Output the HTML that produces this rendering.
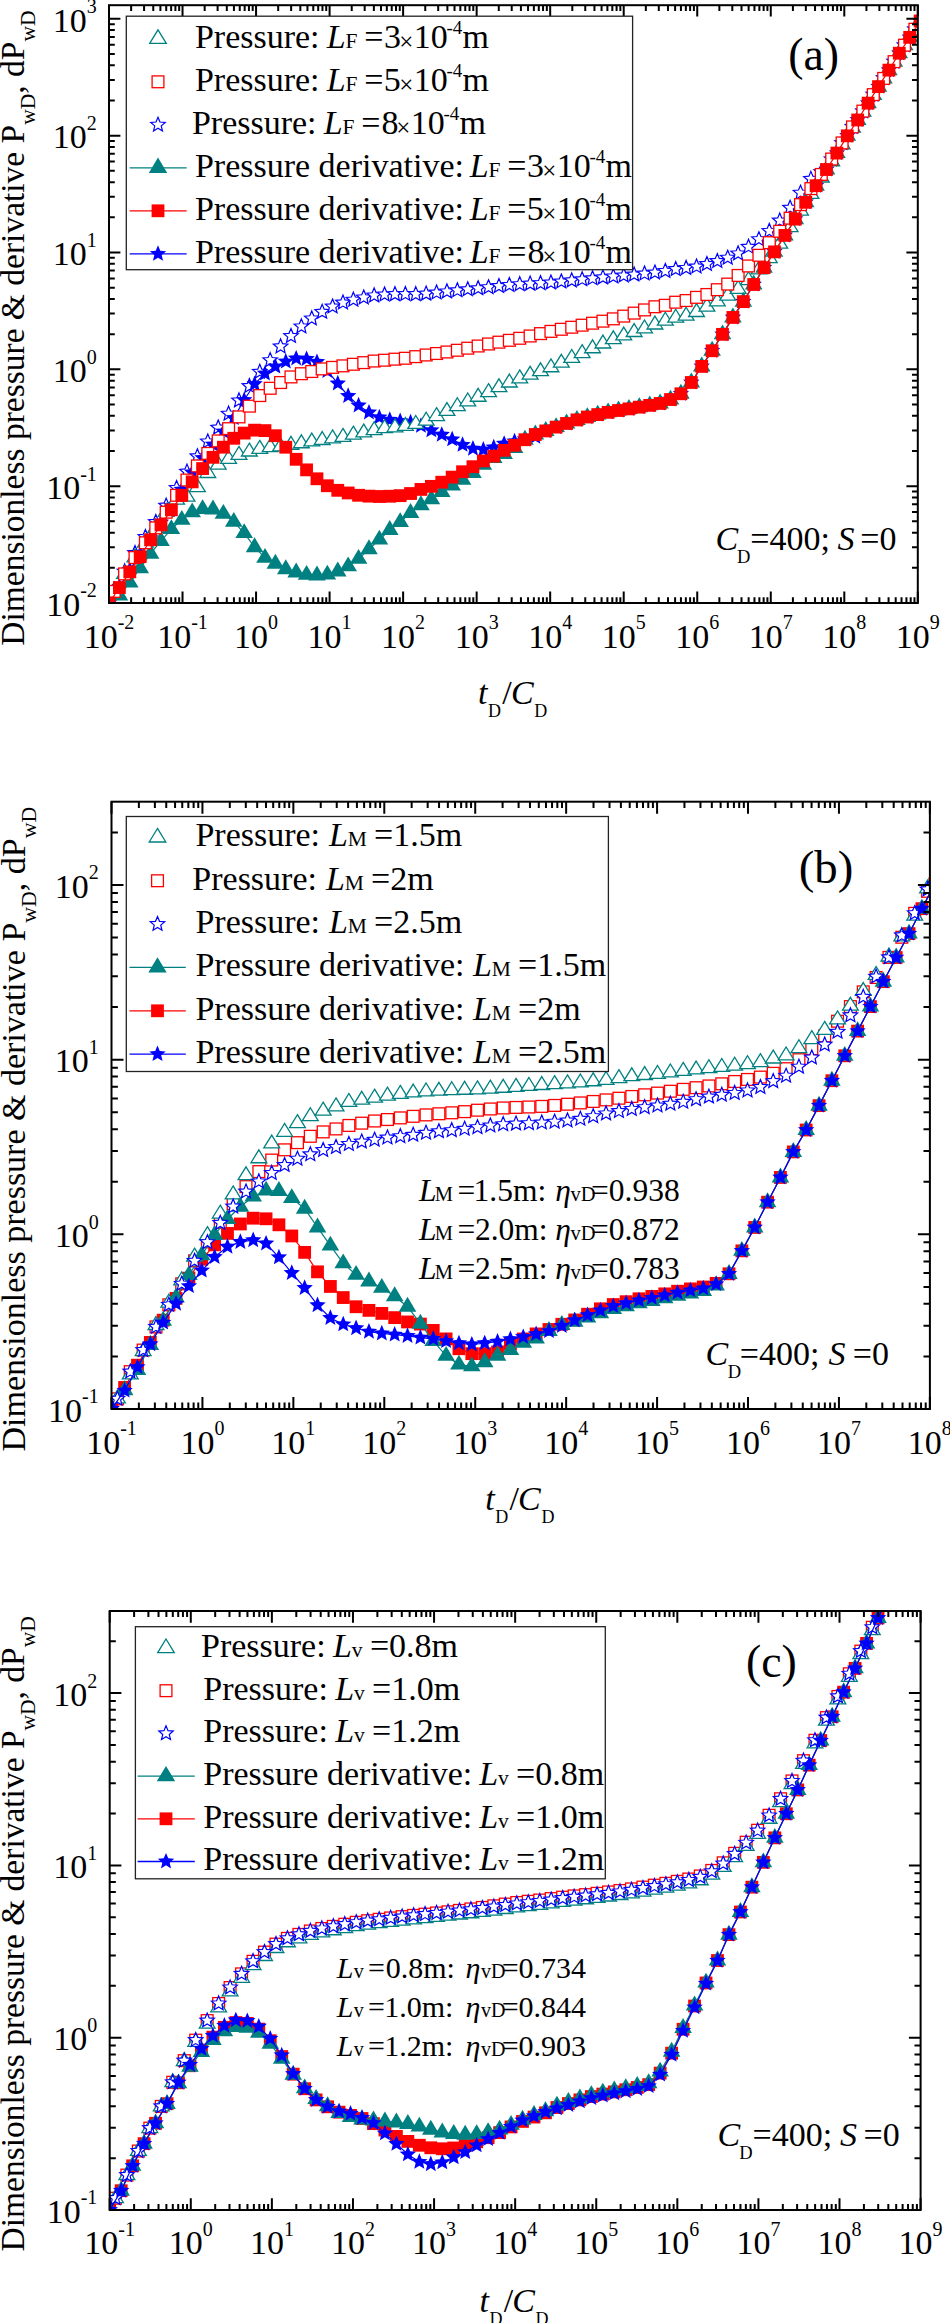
<!DOCTYPE html>
<html><head><meta charset="utf-8"><style>
html,body{margin:0;padding:0;background:#fff;}
body{width:950px;height:2323px;overflow:hidden;}
svg{display:block;}
</style></head><body>
<svg width="950" height="2323" viewBox="0 0 950 2323" font-family="'Liberation Serif', serif">
<rect width="950" height="2323" fill="#fff"/>
<defs>
<clipPath id="clipA"><rect x="109.0" y="5.2" width="808.80" height="597.80"/></clipPath>
<clipPath id="clipB"><rect x="111.5" y="801.7" width="818.40" height="607.30"/></clipPath>
<clipPath id="clipC"><rect x="109.7" y="1611.0" width="810.90" height="599.00"/></clipPath>
</defs>
<g clip-path="url(#clipA)">
<path d="M114.20,581.95L116.21,586.78L121.43,587.20L117.45,590.61L118.67,595.70L114.20,592.97L109.73,595.70L110.95,590.61L106.97,587.20L112.19,586.78Z" fill="#fff" stroke="#0000ff" stroke-width="1.2" stroke-linejoin="miter"/>
<path d="M124.60,563.92L126.61,568.75L131.83,569.17L127.85,572.58L129.07,577.67L124.60,574.94L120.13,577.67L121.35,572.58L117.37,569.17L122.59,568.75Z" fill="#fff" stroke="#0000ff" stroke-width="1.2" stroke-linejoin="miter"/>
<path d="M135.00,545.52L137.01,550.35L142.22,550.77L138.25,554.18L139.46,559.27L135.00,556.54L130.53,559.27L131.74,554.18L127.77,550.77L132.99,550.35Z" fill="#fff" stroke="#0000ff" stroke-width="1.2" stroke-linejoin="miter"/>
<path d="M145.40,529.45L147.41,534.28L152.62,534.70L148.65,538.10L149.86,543.19L145.40,540.47L140.93,543.19L142.14,538.10L138.17,534.70L143.38,534.28Z" fill="#fff" stroke="#0000ff" stroke-width="1.2" stroke-linejoin="miter"/>
<path d="M155.79,514.51L157.80,519.34L163.02,519.76L159.05,523.17L160.26,528.26L155.79,525.53L151.33,528.26L152.54,523.17L148.57,519.76L153.78,519.34Z" fill="#fff" stroke="#0000ff" stroke-width="1.2" stroke-linejoin="miter"/>
<path d="M166.19,498.14L168.20,502.97L173.42,503.39L169.44,506.80L170.66,511.89L166.19,509.16L161.73,511.89L162.94,506.80L158.96,503.39L164.18,502.97Z" fill="#fff" stroke="#0000ff" stroke-width="1.2" stroke-linejoin="miter"/>
<path d="M176.59,480.45L178.60,485.29L183.82,485.70L179.84,489.11L181.06,494.20L176.59,491.47L172.12,494.20L173.34,489.11L169.36,485.70L174.58,485.29Z" fill="#fff" stroke="#0000ff" stroke-width="1.2" stroke-linejoin="miter"/>
<path d="M186.99,464.11L189.00,468.95L194.22,469.36L190.24,472.77L191.46,477.86L186.99,475.13L182.52,477.86L183.74,472.77L179.76,469.36L184.98,468.95Z" fill="#fff" stroke="#0000ff" stroke-width="1.2" stroke-linejoin="miter"/>
<path d="M197.39,448.83L199.40,453.67L204.62,454.09L200.64,457.49L201.86,462.58L197.39,459.85L192.92,462.58L194.14,457.49L190.16,454.09L195.38,453.67Z" fill="#fff" stroke="#0000ff" stroke-width="1.2" stroke-linejoin="miter"/>
<path d="M207.79,433.95L209.80,438.78L215.01,439.20L211.04,442.60L212.25,447.69L207.79,444.97L203.32,447.69L204.53,442.60L200.56,439.20L205.78,438.78Z" fill="#fff" stroke="#0000ff" stroke-width="1.2" stroke-linejoin="miter"/>
<path d="M218.19,420.10L220.20,424.94L225.41,425.36L221.44,428.76L222.65,433.85L218.19,431.12L213.72,433.85L214.93,428.76L210.96,425.36L216.18,424.94Z" fill="#fff" stroke="#0000ff" stroke-width="1.2" stroke-linejoin="miter"/>
<path d="M228.58,406.16L230.59,411.00L235.81,411.42L231.84,414.82L233.05,419.91L228.58,417.18L224.12,419.91L225.33,414.82L221.36,411.42L226.57,411.00Z" fill="#fff" stroke="#0000ff" stroke-width="1.2" stroke-linejoin="miter"/>
<path d="M238.98,392.92L240.99,397.76L246.21,398.18L242.24,401.58L243.45,406.67L238.98,403.94L234.52,406.67L235.73,401.58L231.75,398.18L236.97,397.76Z" fill="#fff" stroke="#0000ff" stroke-width="1.2" stroke-linejoin="miter"/>
<path d="M249.38,378.53L251.39,383.36L256.61,383.78L252.63,387.18L253.85,392.27L249.38,389.55L244.91,392.27L246.13,387.18L242.15,383.78L247.37,383.36Z" fill="#fff" stroke="#0000ff" stroke-width="1.2" stroke-linejoin="miter"/>
<path d="M259.78,364.30L261.79,369.13L267.01,369.55L263.03,372.95L264.25,378.04L259.78,375.32L255.31,378.04L256.53,372.95L252.55,369.55L257.77,369.13Z" fill="#fff" stroke="#0000ff" stroke-width="1.2" stroke-linejoin="miter"/>
<path d="M270.18,352.64L272.19,357.48L277.41,357.89L273.43,361.30L274.65,366.39L270.18,363.66L265.71,366.39L266.93,361.30L262.95,357.89L268.17,357.48Z" fill="#fff" stroke="#0000ff" stroke-width="1.2" stroke-linejoin="miter"/>
<path d="M280.58,338.89L282.59,343.72L287.81,344.14L283.83,347.54L285.04,352.64L280.58,349.91L276.11,352.64L277.32,347.54L273.35,344.14L278.57,343.72Z" fill="#fff" stroke="#0000ff" stroke-width="1.2" stroke-linejoin="miter"/>
<path d="M290.98,328.51L292.99,333.34L298.20,333.76L294.23,337.16L295.44,342.26L290.98,339.53L286.51,342.26L287.72,337.16L283.75,333.76L288.97,333.34Z" fill="#fff" stroke="#0000ff" stroke-width="1.2" stroke-linejoin="miter"/>
<path d="M301.37,318.92L303.38,323.76L308.60,324.18L304.63,327.58L305.84,332.67L301.37,329.94L296.91,332.67L298.12,327.58L294.15,324.18L299.36,323.76Z" fill="#fff" stroke="#0000ff" stroke-width="1.2" stroke-linejoin="miter"/>
<path d="M311.77,310.91L313.78,315.74L319.00,316.16L315.03,319.56L316.24,324.66L311.77,321.93L307.31,324.66L308.52,319.56L304.54,316.16L309.76,315.74Z" fill="#fff" stroke="#0000ff" stroke-width="1.2" stroke-linejoin="miter"/>
<path d="M322.17,304.37L324.18,309.20L329.40,309.62L325.42,313.02L326.64,318.11L322.17,315.39L317.70,318.11L318.92,313.02L314.94,309.62L320.16,309.20Z" fill="#fff" stroke="#0000ff" stroke-width="1.2" stroke-linejoin="miter"/>
<path d="M332.57,298.99L334.58,303.82L339.80,304.24L335.82,307.64L337.04,312.74L332.57,310.01L328.10,312.74L329.32,307.64L325.34,304.24L330.56,303.82Z" fill="#fff" stroke="#0000ff" stroke-width="1.2" stroke-linejoin="miter"/>
<path d="M342.97,295.07L344.98,299.90L350.20,300.32L346.22,303.73L347.44,308.82L342.97,306.09L338.50,308.82L339.72,303.73L335.74,300.32L340.96,299.90Z" fill="#fff" stroke="#0000ff" stroke-width="1.2" stroke-linejoin="miter"/>
<path d="M353.37,292.17L355.38,297.00L360.60,297.42L356.62,300.83L357.83,305.92L353.37,303.19L348.90,305.92L350.11,300.83L346.14,297.42L351.36,297.00Z" fill="#fff" stroke="#0000ff" stroke-width="1.2" stroke-linejoin="miter"/>
<path d="M363.77,289.95L365.78,294.78L370.99,295.20L367.02,298.60L368.23,303.69L363.77,300.97L359.30,303.69L360.51,298.60L356.54,295.20L361.76,294.78Z" fill="#fff" stroke="#0000ff" stroke-width="1.2" stroke-linejoin="miter"/>
<path d="M374.16,287.93L376.17,292.76L381.39,293.18L377.42,296.58L378.63,301.67L374.16,298.95L369.70,301.67L370.91,296.58L366.94,293.18L372.15,292.76Z" fill="#fff" stroke="#0000ff" stroke-width="1.2" stroke-linejoin="miter"/>
<path d="M384.56,286.98L386.57,291.81L391.79,292.23L387.82,295.64L389.03,300.73L384.56,298.00L380.10,300.73L381.31,295.64L377.34,292.23L382.55,291.81Z" fill="#fff" stroke="#0000ff" stroke-width="1.2" stroke-linejoin="miter"/>
<path d="M394.96,286.63L396.97,291.47L402.19,291.89L398.21,295.29L399.43,300.38L394.96,297.65L390.49,300.38L391.71,295.29L387.73,291.89L392.95,291.47Z" fill="#fff" stroke="#0000ff" stroke-width="1.2" stroke-linejoin="miter"/>
<path d="M405.36,286.58L407.37,291.42L412.59,291.84L408.61,295.24L409.83,300.33L405.36,297.60L400.89,300.33L402.11,295.24L398.13,291.84L403.35,291.42Z" fill="#fff" stroke="#0000ff" stroke-width="1.2" stroke-linejoin="miter"/>
<path d="M415.76,286.64L417.77,291.47L422.99,291.89L419.01,295.29L420.23,300.39L415.76,297.66L411.29,300.39L412.51,295.29L408.53,291.89L413.75,291.47Z" fill="#fff" stroke="#0000ff" stroke-width="1.2" stroke-linejoin="miter"/>
<path d="M426.16,286.11L428.17,290.94L433.39,291.36L429.41,294.77L430.62,299.86L426.16,297.13L421.69,299.86L422.91,294.77L418.93,291.36L424.15,290.94Z" fill="#fff" stroke="#0000ff" stroke-width="1.2" stroke-linejoin="miter"/>
<path d="M436.56,285.06L438.57,289.89L443.78,290.31L439.81,293.71L441.02,298.81L436.56,296.08L432.09,298.81L433.30,293.71L429.33,290.31L434.55,289.89Z" fill="#fff" stroke="#0000ff" stroke-width="1.2" stroke-linejoin="miter"/>
<path d="M446.95,283.91L448.97,288.75L454.18,289.16L450.21,292.57L451.42,297.66L446.95,294.93L442.49,297.66L443.70,292.57L439.73,289.16L444.94,288.75Z" fill="#fff" stroke="#0000ff" stroke-width="1.2" stroke-linejoin="miter"/>
<path d="M457.35,282.84L459.36,287.67L464.58,288.09L460.61,291.49L461.82,296.58L457.35,293.86L452.89,296.58L454.10,291.49L450.13,288.09L455.34,287.67Z" fill="#fff" stroke="#0000ff" stroke-width="1.2" stroke-linejoin="miter"/>
<path d="M467.75,281.80L469.76,286.63L474.98,287.05L471.00,290.46L472.22,295.55L467.75,292.82L463.28,295.55L464.50,290.46L460.52,287.05L465.74,286.63Z" fill="#fff" stroke="#0000ff" stroke-width="1.2" stroke-linejoin="miter"/>
<path d="M478.15,280.77L480.16,285.60L485.38,286.02L481.40,289.42L482.62,294.52L478.15,291.79L473.68,294.52L474.90,289.42L470.92,286.02L476.14,285.60Z" fill="#fff" stroke="#0000ff" stroke-width="1.2" stroke-linejoin="miter"/>
<path d="M488.55,279.71L490.56,284.54L495.78,284.96L491.80,288.36L493.02,293.45L488.55,290.73L484.08,293.45L485.30,288.36L481.32,284.96L486.54,284.54Z" fill="#fff" stroke="#0000ff" stroke-width="1.2" stroke-linejoin="miter"/>
<path d="M498.95,278.53L500.96,283.37L506.18,283.79L502.20,287.19L503.42,292.28L498.95,289.55L494.48,292.28L495.70,287.19L491.72,283.79L496.94,283.37Z" fill="#fff" stroke="#0000ff" stroke-width="1.2" stroke-linejoin="miter"/>
<path d="M509.35,277.44L511.36,282.27L516.57,282.69L512.60,286.10L513.81,291.19L509.35,288.46L504.88,291.19L506.09,286.10L502.12,282.69L507.34,282.27Z" fill="#fff" stroke="#0000ff" stroke-width="1.2" stroke-linejoin="miter"/>
<path d="M519.75,276.65L521.76,281.48L526.97,281.90L523.00,285.30L524.21,290.39L519.75,287.67L515.28,290.39L516.49,285.30L512.52,281.90L517.73,281.48Z" fill="#fff" stroke="#0000ff" stroke-width="1.2" stroke-linejoin="miter"/>
<path d="M530.14,276.13L532.15,280.96L537.37,281.38L533.40,284.78L534.61,289.88L530.14,287.15L525.68,289.88L526.89,284.78L522.92,281.38L528.13,280.96Z" fill="#fff" stroke="#0000ff" stroke-width="1.2" stroke-linejoin="miter"/>
<path d="M540.54,275.65L542.55,280.49L547.77,280.90L543.80,284.31L545.01,289.40L540.54,286.67L536.08,289.40L537.29,284.31L533.31,280.90L538.53,280.49Z" fill="#fff" stroke="#0000ff" stroke-width="1.2" stroke-linejoin="miter"/>
<path d="M550.94,275.00L552.95,279.83L558.17,280.25L554.19,283.65L555.41,288.75L550.94,286.02L546.47,288.75L547.69,283.65L543.71,280.25L548.93,279.83Z" fill="#fff" stroke="#0000ff" stroke-width="1.2" stroke-linejoin="miter"/>
<path d="M561.34,274.01L563.35,278.85L568.57,279.27L564.59,282.67L565.81,287.76L561.34,285.03L556.87,287.76L558.09,282.67L554.11,279.27L559.33,278.85Z" fill="#fff" stroke="#0000ff" stroke-width="1.2" stroke-linejoin="miter"/>
<path d="M571.74,272.88L573.75,277.72L578.97,278.13L574.99,281.54L576.21,286.63L571.74,283.90L567.27,286.63L568.49,281.54L564.51,278.13L569.73,277.72Z" fill="#fff" stroke="#0000ff" stroke-width="1.2" stroke-linejoin="miter"/>
<path d="M582.14,271.83L584.15,276.66L589.36,277.08L585.39,280.48L586.60,285.57L582.14,282.85L577.67,285.57L578.88,280.48L574.91,277.08L580.13,276.66Z" fill="#fff" stroke="#0000ff" stroke-width="1.2" stroke-linejoin="miter"/>
<path d="M592.54,270.84L594.55,275.68L599.76,276.09L595.79,279.50L597.00,284.59L592.54,281.86L588.07,284.59L589.28,279.50L585.31,276.09L590.53,275.68Z" fill="#fff" stroke="#0000ff" stroke-width="1.2" stroke-linejoin="miter"/>
<path d="M602.93,269.88L604.94,274.71L610.16,275.13L606.19,278.54L607.40,283.63L602.93,280.90L598.47,283.63L599.68,278.54L595.71,275.13L600.92,274.71Z" fill="#fff" stroke="#0000ff" stroke-width="1.2" stroke-linejoin="miter"/>
<path d="M613.33,268.92L615.34,273.75L620.56,274.17L616.59,277.58L617.80,282.67L613.33,279.94L608.87,282.67L610.08,277.58L606.10,274.17L611.32,273.75Z" fill="#fff" stroke="#0000ff" stroke-width="1.2" stroke-linejoin="miter"/>
<path d="M623.73,267.99L625.74,272.82L630.96,273.24L626.98,276.65L628.20,281.74L623.73,279.01L619.26,281.74L620.48,276.65L616.50,273.24L621.72,272.82Z" fill="#fff" stroke="#0000ff" stroke-width="1.2" stroke-linejoin="miter"/>
<path d="M634.13,267.05L636.14,271.88L641.36,272.30L637.38,275.70L638.60,280.79L634.13,278.07L629.66,280.79L630.88,275.70L626.90,272.30L632.12,271.88Z" fill="#fff" stroke="#0000ff" stroke-width="1.2" stroke-linejoin="miter"/>
<path d="M644.53,266.07L646.54,270.90L651.76,271.32L647.78,274.73L649.00,279.82L644.53,277.09L640.06,279.82L641.28,274.73L637.30,271.32L642.52,270.90Z" fill="#fff" stroke="#0000ff" stroke-width="1.2" stroke-linejoin="miter"/>
<path d="M654.93,265.03L656.94,269.86L662.16,270.28L658.18,273.68L659.39,278.78L654.93,276.05L650.46,278.78L651.67,273.68L647.70,270.28L652.92,269.86Z" fill="#fff" stroke="#0000ff" stroke-width="1.2" stroke-linejoin="miter"/>
<path d="M665.33,263.46L667.34,268.30L672.55,268.72L668.58,272.12L669.79,277.21L665.33,274.48L660.86,277.21L662.07,272.12L658.10,268.72L663.32,268.30Z" fill="#fff" stroke="#0000ff" stroke-width="1.2" stroke-linejoin="miter"/>
<path d="M675.72,261.60L677.73,266.43L682.95,266.85L678.98,270.26L680.19,275.35L675.72,272.62L671.26,275.35L672.47,270.26L668.50,266.85L673.71,266.43Z" fill="#fff" stroke="#0000ff" stroke-width="1.2" stroke-linejoin="miter"/>
<path d="M686.12,260.40L688.13,265.24L693.35,265.66L689.38,269.06L690.59,274.15L686.12,271.42L681.66,274.15L682.87,269.06L678.89,265.66L684.11,265.24Z" fill="#fff" stroke="#0000ff" stroke-width="1.2" stroke-linejoin="miter"/>
<path d="M696.52,259.09L698.53,263.93L703.75,264.34L699.77,267.75L700.99,272.84L696.52,270.11L692.05,272.84L693.27,267.75L689.29,264.34L694.51,263.93Z" fill="#fff" stroke="#0000ff" stroke-width="1.2" stroke-linejoin="miter"/>
<path d="M706.92,256.50L708.93,261.33L714.15,261.75L710.17,265.16L711.39,270.25L706.92,267.52L702.45,270.25L703.67,265.16L699.69,261.75L704.91,261.33Z" fill="#fff" stroke="#0000ff" stroke-width="1.2" stroke-linejoin="miter"/>
<path d="M717.32,253.55L719.33,258.38L724.55,258.80L720.57,262.21L721.79,267.30L717.32,264.57L712.85,267.30L714.07,262.21L710.09,258.80L715.31,258.38Z" fill="#fff" stroke="#0000ff" stroke-width="1.2" stroke-linejoin="miter"/>
<path d="M727.72,250.20L729.73,255.04L734.95,255.46L730.97,258.86L732.18,263.95L727.72,261.22L723.25,263.95L724.46,258.86L720.49,255.46L725.71,255.04Z" fill="#fff" stroke="#0000ff" stroke-width="1.2" stroke-linejoin="miter"/>
<path d="M738.12,245.91L740.13,250.74L745.34,251.16L741.37,254.57L742.58,259.66L738.12,256.93L733.65,259.66L734.86,254.57L730.89,251.16L736.11,250.74Z" fill="#fff" stroke="#0000ff" stroke-width="1.2" stroke-linejoin="miter"/>
<path d="M748.51,239.34L750.52,244.17L755.74,244.59L751.77,247.99L752.98,253.08L748.51,250.36L744.05,253.08L745.26,247.99L741.29,244.59L746.50,244.17Z" fill="#fff" stroke="#0000ff" stroke-width="1.2" stroke-linejoin="miter"/>
<path d="M758.91,231.72L760.92,236.55L766.14,236.97L762.17,240.38L763.38,245.47L758.91,242.74L754.45,245.47L755.66,240.38L751.69,236.97L756.90,236.55Z" fill="#fff" stroke="#0000ff" stroke-width="1.2" stroke-linejoin="miter"/>
<path d="M769.31,223.42L771.32,228.26L776.54,228.67L772.56,232.08L773.78,237.17L769.31,234.44L764.84,237.17L766.06,232.08L762.08,228.67L767.30,228.26Z" fill="#fff" stroke="#0000ff" stroke-width="1.2" stroke-linejoin="miter"/>
<path d="M779.71,213.08L781.72,217.91L786.94,218.33L782.96,221.73L784.18,226.82L779.71,224.10L775.24,226.82L776.46,221.73L772.48,218.33L777.70,217.91Z" fill="#fff" stroke="#0000ff" stroke-width="1.2" stroke-linejoin="miter"/>
<path d="M790.11,200.27L792.12,205.10L797.34,205.52L793.36,208.92L794.58,214.01L790.11,211.29L785.64,214.01L786.86,208.92L782.88,205.52L788.10,205.10Z" fill="#fff" stroke="#0000ff" stroke-width="1.2" stroke-linejoin="miter"/>
<path d="M800.51,185.21L802.52,190.05L807.74,190.46L803.76,193.87L804.97,198.96L800.51,196.23L796.04,198.96L797.26,193.87L793.28,190.46L798.50,190.05Z" fill="#fff" stroke="#0000ff" stroke-width="1.2" stroke-linejoin="miter"/>
<path d="M810.91,171.36L812.92,176.19L818.13,176.61L814.16,180.01L815.37,185.11L810.91,182.38L806.44,185.11L807.65,180.01L803.68,176.61L808.90,176.19Z" fill="#fff" stroke="#0000ff" stroke-width="1.2" stroke-linejoin="miter"/>
<path d="M821.30,164.52L823.32,169.35L828.53,169.77L824.56,173.18L825.77,178.27L821.30,175.54L816.84,178.27L818.05,173.18L814.08,169.77L819.29,169.35Z" fill="#fff" stroke="#0000ff" stroke-width="1.2" stroke-linejoin="miter"/>
<path d="M831.70,151.83L833.71,156.66L838.93,157.08L834.96,160.49L836.17,165.58L831.70,162.85L827.24,165.58L828.45,160.49L824.48,157.08L829.69,156.66Z" fill="#fff" stroke="#0000ff" stroke-width="1.2" stroke-linejoin="miter"/>
<path d="M842.10,135.49L844.11,140.32L849.33,140.74L845.35,144.15L846.57,149.24L842.10,146.51L837.64,149.24L838.85,144.15L834.87,140.74L840.09,140.32Z" fill="#fff" stroke="#0000ff" stroke-width="1.2" stroke-linejoin="miter"/>
<path d="M852.50,119.35L854.51,124.18L859.73,124.60L855.75,128.00L856.97,133.10L852.50,130.37L848.03,133.10L849.25,128.00L845.27,124.60L850.49,124.18Z" fill="#fff" stroke="#0000ff" stroke-width="1.2" stroke-linejoin="miter"/>
<path d="M862.90,103.61L864.91,108.44L870.13,108.86L866.15,112.27L867.37,117.36L862.90,114.63L858.43,117.36L859.65,112.27L855.67,108.86L860.89,108.44Z" fill="#fff" stroke="#0000ff" stroke-width="1.2" stroke-linejoin="miter"/>
<path d="M873.30,86.92L875.31,91.75L880.53,92.17L876.55,95.58L877.77,100.67L873.30,97.94L868.83,100.67L870.05,95.58L866.07,92.17L871.29,91.75Z" fill="#fff" stroke="#0000ff" stroke-width="1.2" stroke-linejoin="miter"/>
<path d="M883.70,70.59L885.71,75.43L890.92,75.84L886.95,79.25L888.16,84.34L883.70,81.61L879.23,84.34L880.44,79.25L876.47,75.84L881.69,75.43Z" fill="#fff" stroke="#0000ff" stroke-width="1.2" stroke-linejoin="miter"/>
<path d="M894.10,53.99L896.11,58.82L901.32,59.24L897.35,62.65L898.56,67.74L894.10,65.01L889.63,67.74L890.84,62.65L886.87,59.24L892.09,58.82Z" fill="#fff" stroke="#0000ff" stroke-width="1.2" stroke-linejoin="miter"/>
<path d="M904.49,37.61L906.50,42.44L911.72,42.86L907.75,46.27L908.96,51.36L904.49,48.63L900.03,51.36L901.24,46.27L897.27,42.86L902.48,42.44Z" fill="#fff" stroke="#0000ff" stroke-width="1.2" stroke-linejoin="miter"/>
<path d="M914.89,21.64L916.90,26.47L922.12,26.89L918.15,30.30L919.36,35.39L914.89,32.66L910.43,35.39L911.64,30.30L907.66,26.89L912.88,26.47Z" fill="#fff" stroke="#0000ff" stroke-width="1.2" stroke-linejoin="miter"/>
<path d="M925.29,4.94L927.30,9.77L932.52,10.19L928.54,13.59L929.76,18.68L925.29,15.96L920.82,18.68L922.04,13.59L918.06,10.19L923.28,9.77Z" fill="#fff" stroke="#0000ff" stroke-width="1.2" stroke-linejoin="miter"/>
<polyline points="109.00,603.00 119.40,586.75 129.80,569.90 140.20,553.98 150.59,538.14 160.99,522.32 171.39,506.03 181.79,489.74 192.19,472.48 202.59,458.02 212.99,444.52 223.38,431.52 233.78,418.02 244.18,400.03 254.58,384.02 264.98,373.52 275.38,366.51 285.78,361.51 296.18,358.50 306.57,359.00 316.97,361.99 327.37,370.97 337.77,383.46 348.17,395.97 358.57,405.47 368.97,412.48 379.36,417.29 389.76,419.76 400.16,421.20 410.56,422.35 420.96,425.84 431.36,430.26 441.76,434.75 452.15,439.30 462.55,444.86 472.95,448.68 483.35,449.68 493.75,447.30 504.15,443.73 514.55,441.36 524.94,439.21 535.34,436.90 545.74,431.03 556.14,427.11 566.54,423.47 576.94,419.90 587.34,417.03 597.73,414.59 608.13,412.35 618.53,410.51 628.93,408.88 639.33,407.16 649.73,405.37 660.13,403.47 670.53,399.53 680.92,393.77 691.32,382.49 701.72,366.39 712.12,350.76 722.52,334.34 732.92,317.44 743.32,301.63 753.71,284.50 764.11,267.66 774.51,251.87 784.91,235.42 795.31,219.13 805.71,202.28 816.11,185.72 826.50,169.52 836.90,153.07 847.30,135.84 857.70,120.00 868.10,103.15 878.50,86.63 888.90,70.13 899.29,53.22 909.69,37.35 920.09,20.96" fill="none" stroke="#0000ff" stroke-width="1.2"/>
<path d="M109.00,594.40L111.27,599.87L117.18,600.34L112.68,604.20L114.05,609.96L109.00,606.87L103.95,609.96L105.32,604.20L100.82,600.34L106.73,599.87Z" fill="#0000ff"/>
<path d="M119.40,578.15L121.67,583.62L127.58,584.09L123.08,587.95L124.45,593.71L119.40,590.62L114.34,593.71L115.72,587.95L111.22,584.09L117.12,583.62Z" fill="#0000ff"/>
<path d="M129.80,561.30L132.07,566.77L137.98,567.25L133.48,571.10L134.85,576.86L129.80,573.77L124.74,576.86L126.12,571.10L121.62,567.25L127.52,566.77Z" fill="#0000ff"/>
<path d="M140.20,545.38L142.47,550.85L148.37,551.32L143.88,555.18L145.25,560.94L140.20,557.85L135.14,560.94L136.52,555.18L132.02,551.32L137.92,550.85Z" fill="#0000ff"/>
<path d="M150.59,529.54L152.87,535.01L158.77,535.48L154.28,539.34L155.65,545.10L150.59,542.01L145.54,545.10L146.91,539.34L142.42,535.48L148.32,535.01Z" fill="#0000ff"/>
<path d="M160.99,513.72L163.27,519.19L169.17,519.66L164.67,523.52L166.05,529.28L160.99,526.19L155.94,529.28L157.31,523.52L152.81,519.66L158.72,519.19Z" fill="#0000ff"/>
<path d="M171.39,497.43L173.67,502.90L179.57,503.37L175.07,507.23L176.45,512.99L171.39,509.90L166.34,512.99L167.71,507.23L163.21,503.37L169.12,502.90Z" fill="#0000ff"/>
<path d="M181.79,481.14L184.07,486.61L189.97,487.09L185.47,490.94L186.85,496.70L181.79,493.61L176.74,496.70L178.11,490.94L173.61,487.09L179.52,486.61Z" fill="#0000ff"/>
<path d="M192.19,463.88L194.46,469.34L200.37,469.82L195.87,473.67L197.24,479.43L192.19,476.35L187.13,479.43L188.51,473.67L184.01,469.82L189.91,469.34Z" fill="#0000ff"/>
<path d="M202.59,449.42L204.86,454.89L210.77,455.36L206.27,459.21L207.64,464.97L202.59,461.89L197.53,464.97L198.91,459.21L194.41,455.36L200.31,454.89Z" fill="#0000ff"/>
<path d="M212.99,435.92L215.26,441.39L221.17,441.86L216.67,445.71L218.04,451.48L212.99,448.39L207.93,451.48L209.31,445.71L204.81,441.86L210.71,441.39Z" fill="#0000ff"/>
<path d="M223.38,422.92L225.66,428.39L231.56,428.86L227.07,432.72L228.44,438.48L223.38,435.39L218.33,438.48L219.70,432.72L215.21,428.86L221.11,428.39Z" fill="#0000ff"/>
<path d="M233.78,409.42L236.06,414.89L241.96,415.37L237.46,419.22L238.84,424.98L233.78,421.89L228.73,424.98L230.10,419.22L225.60,415.37L231.51,414.89Z" fill="#0000ff"/>
<path d="M244.18,391.43L246.46,396.90L252.36,397.37L247.86,401.23L249.24,406.99L244.18,403.90L239.13,406.99L240.50,401.23L236.00,397.37L241.91,396.90Z" fill="#0000ff"/>
<path d="M254.58,375.42L256.86,380.89L262.76,381.37L258.26,385.22L259.64,390.98L254.58,387.89L249.53,390.98L250.90,385.22L246.40,381.37L252.31,380.89Z" fill="#0000ff"/>
<path d="M264.98,364.92L267.25,370.39L273.16,370.86L268.66,374.71L270.03,380.47L264.98,377.39L259.92,380.47L261.30,374.71L256.80,370.86L262.70,370.39Z" fill="#0000ff"/>
<path d="M275.38,357.91L277.65,363.38L283.56,363.85L279.06,367.71L280.43,373.47L275.38,370.38L270.32,373.47L271.70,367.71L267.20,363.85L273.10,363.38Z" fill="#0000ff"/>
<path d="M285.78,352.91L288.05,358.38L293.96,358.85L289.46,362.70L290.83,368.47L285.78,365.38L280.72,368.47L282.10,362.70L277.60,358.85L283.50,358.38Z" fill="#0000ff"/>
<path d="M296.18,349.90L298.45,355.37L304.35,355.84L299.86,359.70L301.23,365.46L296.18,362.37L291.12,365.46L292.49,359.70L288.00,355.84L293.90,355.37Z" fill="#0000ff"/>
<path d="M306.57,350.40L308.85,355.87L314.75,356.34L310.25,360.19L311.63,365.96L306.57,362.87L301.52,365.96L302.89,360.19L298.39,356.34L304.30,355.87Z" fill="#0000ff"/>
<path d="M316.97,353.39L319.25,358.86L325.15,359.33L320.65,363.18L322.03,368.95L316.97,365.86L311.92,368.95L313.29,363.18L308.79,359.33L314.70,358.86Z" fill="#0000ff"/>
<path d="M327.37,362.37L329.65,367.84L335.55,368.31L331.05,372.17L332.43,377.93L327.37,374.84L322.32,377.93L323.69,372.17L319.19,368.31L325.10,367.84Z" fill="#0000ff"/>
<path d="M337.77,374.86L340.04,380.33L345.95,380.81L341.45,384.66L342.82,390.42L337.77,387.33L332.71,390.42L334.09,384.66L329.59,380.81L335.49,380.33Z" fill="#0000ff"/>
<path d="M348.17,387.37L350.44,392.84L356.35,393.31L351.85,397.16L353.22,402.92L348.17,399.84L343.11,402.92L344.49,397.16L339.99,393.31L345.89,392.84Z" fill="#0000ff"/>
<path d="M358.57,396.87L360.84,402.34L366.75,402.82L362.25,406.67L363.62,412.43L358.57,409.34L353.51,412.43L354.89,406.67L350.39,402.82L356.29,402.34Z" fill="#0000ff"/>
<path d="M368.97,403.88L371.24,409.35L377.14,409.82L372.65,413.68L374.02,419.44L368.97,416.35L363.91,419.44L365.28,413.68L360.79,409.82L366.69,409.35Z" fill="#0000ff"/>
<path d="M379.36,408.69L381.64,414.16L387.54,414.63L383.04,418.48L384.42,424.25L379.36,421.16L374.31,424.25L375.68,418.48L371.18,414.63L377.09,414.16Z" fill="#0000ff"/>
<path d="M389.76,411.16L392.04,416.63L397.94,417.10L393.44,420.95L394.82,426.72L389.76,423.63L384.71,426.72L386.08,420.95L381.58,417.10L387.49,416.63Z" fill="#0000ff"/>
<path d="M400.16,412.60L402.44,418.06L408.34,418.54L403.84,422.39L405.22,428.15L400.16,425.07L395.11,428.15L396.48,422.39L391.98,418.54L397.89,418.06Z" fill="#0000ff"/>
<path d="M410.56,413.75L412.83,419.22L418.74,419.69L414.24,423.55L415.61,429.31L410.56,426.22L405.50,429.31L406.88,423.55L402.38,419.69L408.29,419.22Z" fill="#0000ff"/>
<path d="M420.96,417.24L423.23,422.71L429.14,423.18L424.64,427.04L426.01,432.80L420.96,429.71L415.90,432.80L417.28,427.04L412.78,423.18L418.68,422.71Z" fill="#0000ff"/>
<path d="M431.36,421.66L433.63,427.13L439.54,427.61L435.04,431.46L436.41,437.22L431.36,434.13L426.30,437.22L427.68,431.46L423.18,427.61L429.08,427.13Z" fill="#0000ff"/>
<path d="M441.76,426.15L444.03,431.62L449.93,432.09L445.44,435.95L446.81,441.71L441.76,438.62L436.70,441.71L438.08,435.95L433.58,432.09L439.48,431.62Z" fill="#0000ff"/>
<path d="M452.15,430.70L454.43,436.17L460.33,436.65L455.83,440.50L457.21,446.26L452.15,443.17L447.10,446.26L448.47,440.50L443.98,436.65L449.88,436.17Z" fill="#0000ff"/>
<path d="M462.55,436.26L464.83,441.73L470.73,442.21L466.23,446.06L467.61,451.82L462.55,448.73L457.50,451.82L458.87,446.06L454.37,442.21L460.28,441.73Z" fill="#0000ff"/>
<path d="M472.95,440.08L475.23,445.55L481.13,446.02L476.63,449.88L478.01,455.64L472.95,452.55L467.90,455.64L469.27,449.88L464.77,446.02L470.68,445.55Z" fill="#0000ff"/>
<path d="M483.35,441.08L485.62,446.55L491.53,447.02L487.03,450.88L488.41,456.64L483.35,453.55L478.30,456.64L479.67,450.88L475.17,447.02L481.08,446.55Z" fill="#0000ff"/>
<path d="M493.75,438.70L496.02,444.16L501.93,444.64L497.43,448.49L498.80,454.25L493.75,451.17L488.69,454.25L490.07,448.49L485.57,444.64L491.47,444.16Z" fill="#0000ff"/>
<path d="M504.15,435.13L506.42,440.60L512.33,441.07L507.83,444.93L509.20,450.69L504.15,447.60L499.09,450.69L500.47,444.93L495.97,441.07L501.87,440.60Z" fill="#0000ff"/>
<path d="M514.55,432.76L516.82,438.23L522.72,438.71L518.23,442.56L519.60,448.32L514.55,445.23L509.49,448.32L510.87,442.56L506.37,438.71L512.27,438.23Z" fill="#0000ff"/>
<path d="M524.94,430.61L527.22,436.08L533.12,436.55L528.63,440.41L530.00,446.17L524.94,443.08L519.89,446.17L521.26,440.41L516.77,436.55L522.67,436.08Z" fill="#0000ff"/>
<path d="M535.34,428.30L537.62,433.77L543.52,434.24L539.02,438.10L540.40,443.86L535.34,440.77L530.29,443.86L531.66,438.10L527.16,434.24L533.07,433.77Z" fill="#0000ff"/>
<path d="M545.74,422.43L548.02,427.90L553.92,428.37L549.42,432.22L550.80,437.99L545.74,434.90L540.69,437.99L542.06,432.22L537.56,428.37L543.47,427.90Z" fill="#0000ff"/>
<path d="M556.14,418.51L558.42,423.98L564.32,424.46L559.82,428.31L561.20,434.07L556.14,430.98L551.09,434.07L552.46,428.31L547.96,424.46L553.87,423.98Z" fill="#0000ff"/>
<path d="M566.54,414.87L568.81,420.34L574.72,420.81L570.22,424.67L571.59,430.43L566.54,427.34L561.48,430.43L562.86,424.67L558.36,420.81L564.26,420.34Z" fill="#0000ff"/>
<path d="M576.94,411.30L579.21,416.77L585.12,417.24L580.62,421.10L581.99,426.86L576.94,423.77L571.88,426.86L573.26,421.10L568.76,417.24L574.66,416.77Z" fill="#0000ff"/>
<path d="M587.34,408.43L589.61,413.90L595.52,414.38L591.02,418.23L592.39,423.99L587.34,420.90L582.28,423.99L583.66,418.23L579.16,414.38L585.06,413.90Z" fill="#0000ff"/>
<path d="M597.73,405.99L600.01,411.46L605.91,411.93L601.42,415.79L602.79,421.55L597.73,418.46L592.68,421.55L594.05,415.79L589.56,411.93L595.46,411.46Z" fill="#0000ff"/>
<path d="M608.13,403.75L610.41,409.22L616.31,409.69L611.81,413.55L613.19,419.31L608.13,416.22L603.08,419.31L604.45,413.55L599.95,409.69L605.86,409.22Z" fill="#0000ff"/>
<path d="M618.53,401.91L620.81,407.38L626.71,407.85L622.21,411.71L623.59,417.47L618.53,414.38L613.48,417.47L614.85,411.71L610.35,407.85L616.26,407.38Z" fill="#0000ff"/>
<path d="M628.93,400.28L631.21,405.74L637.11,406.22L632.61,410.07L633.99,415.83L628.93,412.75L623.88,415.83L625.25,410.07L620.75,406.22L626.66,405.74Z" fill="#0000ff"/>
<path d="M639.33,398.56L641.60,404.03L647.51,404.51L643.01,408.36L644.38,414.12L639.33,411.03L634.27,414.12L635.65,408.36L631.15,404.51L637.05,404.03Z" fill="#0000ff"/>
<path d="M649.73,396.77L652.00,402.24L657.91,402.71L653.41,406.57L654.78,412.33L649.73,409.24L644.67,412.33L646.05,406.57L641.55,402.71L647.45,402.24Z" fill="#0000ff"/>
<path d="M660.13,394.87L662.40,400.34L668.31,400.81L663.81,404.66L665.18,410.42L660.13,407.34L655.07,410.42L656.45,404.66L651.95,400.81L657.85,400.34Z" fill="#0000ff"/>
<path d="M670.53,390.93L672.80,396.40L678.70,396.87L674.21,400.72L675.58,406.48L670.53,403.40L665.47,406.48L666.84,400.72L662.35,396.87L668.25,396.40Z" fill="#0000ff"/>
<path d="M680.92,385.17L683.20,390.64L689.10,391.12L684.60,394.97L685.98,400.73L680.92,397.64L675.87,400.73L677.24,394.97L672.74,391.12L678.65,390.64Z" fill="#0000ff"/>
<path d="M691.32,373.89L693.60,379.36L699.50,379.84L695.00,383.69L696.38,389.45L691.32,386.36L686.27,389.45L687.64,383.69L683.14,379.84L689.05,379.36Z" fill="#0000ff"/>
<path d="M701.72,357.79L704.00,363.25L709.90,363.73L705.40,367.58L706.78,373.34L701.72,370.26L696.67,373.34L698.04,367.58L693.54,363.73L699.45,363.25Z" fill="#0000ff"/>
<path d="M712.12,342.16L714.39,347.63L720.30,348.10L715.80,351.95L717.17,357.72L712.12,354.63L707.06,357.72L708.44,351.95L703.94,348.10L709.84,347.63Z" fill="#0000ff"/>
<path d="M722.52,325.74L724.79,331.21L730.70,331.68L726.20,335.53L727.57,341.29L722.52,338.21L717.46,341.29L718.84,335.53L714.34,331.68L720.24,331.21Z" fill="#0000ff"/>
<path d="M732.92,308.84L735.19,314.31L741.10,314.78L736.60,318.63L737.97,324.39L732.92,321.31L727.86,324.39L729.24,318.63L724.74,314.78L730.64,314.31Z" fill="#0000ff"/>
<path d="M743.32,293.03L745.59,298.50L751.49,298.98L747.00,302.83L748.37,308.59L743.32,305.50L738.26,308.59L739.63,302.83L735.14,298.98L741.04,298.50Z" fill="#0000ff"/>
<path d="M753.71,275.90L755.99,281.37L761.89,281.84L757.39,285.69L758.77,291.45L753.71,288.37L748.66,291.45L750.03,285.69L745.53,281.84L751.44,281.37Z" fill="#0000ff"/>
<path d="M764.11,259.06L766.39,264.53L772.29,265.01L767.79,268.86L769.17,274.62L764.11,271.53L759.06,274.62L760.43,268.86L755.93,265.01L761.84,264.53Z" fill="#0000ff"/>
<path d="M774.51,243.27L776.79,248.74L782.69,249.21L778.19,253.07L779.57,258.83L774.51,255.74L769.46,258.83L770.83,253.07L766.33,249.21L772.24,248.74Z" fill="#0000ff"/>
<path d="M784.91,226.82L787.18,232.29L793.09,232.77L788.59,236.62L789.96,242.38L784.91,239.29L779.85,242.38L781.23,236.62L776.73,232.77L782.64,232.29Z" fill="#0000ff"/>
<path d="M795.31,210.53L797.58,216.00L803.49,216.48L798.99,220.33L800.36,226.09L795.31,223.00L790.25,226.09L791.63,220.33L787.13,216.48L793.03,216.00Z" fill="#0000ff"/>
<path d="M805.71,193.68L807.98,199.15L813.89,199.62L809.39,203.47L810.76,209.23L805.71,206.15L800.65,209.23L802.03,203.47L797.53,199.62L803.43,199.15Z" fill="#0000ff"/>
<path d="M816.11,177.12L818.38,182.59L824.28,183.07L819.79,186.92L821.16,192.68L816.11,189.59L811.05,192.68L812.43,186.92L807.93,183.07L813.83,182.59Z" fill="#0000ff"/>
<path d="M826.50,160.92L828.78,166.39L834.68,166.86L830.18,170.71L831.56,176.48L826.50,173.39L821.45,176.48L822.82,170.71L818.33,166.86L824.23,166.39Z" fill="#0000ff"/>
<path d="M836.90,144.47L839.18,149.94L845.08,150.41L840.58,154.27L841.96,160.03L836.90,156.94L831.85,160.03L833.22,154.27L828.72,150.41L834.63,149.94Z" fill="#0000ff"/>
<path d="M847.30,127.24L849.58,132.71L855.48,133.18L850.98,137.03L852.36,142.80L847.30,139.71L842.25,142.80L843.62,137.03L839.12,133.18L845.03,132.71Z" fill="#0000ff"/>
<path d="M857.70,111.40L859.97,116.87L865.88,117.34L861.38,121.20L862.76,126.96L857.70,123.87L852.65,126.96L854.02,121.20L849.52,117.34L855.43,116.87Z" fill="#0000ff"/>
<path d="M868.10,94.55L870.37,100.02L876.28,100.50L871.78,104.35L873.15,110.11L868.10,107.02L863.04,110.11L864.42,104.35L859.92,100.50L865.82,100.02Z" fill="#0000ff"/>
<path d="M878.50,78.03L880.77,83.50L886.68,83.97L882.18,87.83L883.55,93.59L878.50,90.50L873.44,93.59L874.82,87.83L870.32,83.97L876.22,83.50Z" fill="#0000ff"/>
<path d="M888.90,61.53L891.17,67.00L897.08,67.47L892.58,71.33L893.95,77.09L888.90,74.00L883.84,77.09L885.22,71.33L880.72,67.47L886.62,67.00Z" fill="#0000ff"/>
<path d="M899.29,44.62L901.57,50.08L907.47,50.56L902.98,54.41L904.35,60.17L899.29,57.09L894.24,60.17L895.61,54.41L891.12,50.56L897.02,50.08Z" fill="#0000ff"/>
<path d="M909.69,28.75L911.97,34.22L917.87,34.70L913.37,38.55L914.75,44.31L909.69,41.22L904.64,44.31L906.01,38.55L901.51,34.70L907.42,34.22Z" fill="#0000ff"/>
<path d="M920.09,12.36L922.37,17.83L928.27,18.30L923.77,22.16L925.15,27.92L920.09,24.83L915.04,27.92L916.41,22.16L911.91,18.30L917.82,17.83Z" fill="#0000ff"/>
<path d="M114.20,582.93L122.10,595.83L106.30,595.83Z" fill="#fff" stroke="#008080" stroke-width="1.3" stroke-linejoin="miter"/>
<path d="M124.60,565.40L132.50,578.30L116.70,578.30Z" fill="#fff" stroke="#008080" stroke-width="1.3" stroke-linejoin="miter"/>
<path d="M135.00,549.07L142.90,561.97L127.10,561.97Z" fill="#fff" stroke="#008080" stroke-width="1.3" stroke-linejoin="miter"/>
<path d="M145.40,534.28L153.30,547.18L137.50,547.18Z" fill="#fff" stroke="#008080" stroke-width="1.3" stroke-linejoin="miter"/>
<path d="M155.79,519.35L163.69,532.25L147.89,532.25Z" fill="#fff" stroke="#008080" stroke-width="1.3" stroke-linejoin="miter"/>
<path d="M166.19,503.39L174.09,516.29L158.29,516.29Z" fill="#fff" stroke="#008080" stroke-width="1.3" stroke-linejoin="miter"/>
<path d="M176.59,491.30L184.49,504.20L168.69,504.20Z" fill="#fff" stroke="#008080" stroke-width="1.3" stroke-linejoin="miter"/>
<path d="M186.99,488.25L194.89,501.15L179.09,501.15Z" fill="#fff" stroke="#008080" stroke-width="1.3" stroke-linejoin="miter"/>
<path d="M197.39,478.82L205.29,491.72L189.49,491.72Z" fill="#fff" stroke="#008080" stroke-width="1.3" stroke-linejoin="miter"/>
<path d="M207.79,464.61L215.69,477.51L199.89,477.51Z" fill="#fff" stroke="#008080" stroke-width="1.3" stroke-linejoin="miter"/>
<path d="M218.19,456.14L226.09,469.04L210.29,469.04Z" fill="#fff" stroke="#008080" stroke-width="1.3" stroke-linejoin="miter"/>
<path d="M228.58,450.48L236.48,463.38L220.68,463.38Z" fill="#fff" stroke="#008080" stroke-width="1.3" stroke-linejoin="miter"/>
<path d="M238.98,446.45L246.88,459.35L231.08,459.35Z" fill="#fff" stroke="#008080" stroke-width="1.3" stroke-linejoin="miter"/>
<path d="M249.38,443.12L257.28,456.02L241.48,456.02Z" fill="#fff" stroke="#008080" stroke-width="1.3" stroke-linejoin="miter"/>
<path d="M259.78,440.40L267.68,453.30L251.88,453.30Z" fill="#fff" stroke="#008080" stroke-width="1.3" stroke-linejoin="miter"/>
<path d="M270.18,438.77L278.08,451.67L262.28,451.67Z" fill="#fff" stroke="#008080" stroke-width="1.3" stroke-linejoin="miter"/>
<path d="M280.58,437.90L288.48,450.80L272.68,450.80Z" fill="#fff" stroke="#008080" stroke-width="1.3" stroke-linejoin="miter"/>
<path d="M290.98,436.35L298.88,449.25L283.08,449.25Z" fill="#fff" stroke="#008080" stroke-width="1.3" stroke-linejoin="miter"/>
<path d="M301.37,434.86L309.27,447.76L293.47,447.76Z" fill="#fff" stroke="#008080" stroke-width="1.3" stroke-linejoin="miter"/>
<path d="M311.77,433.06L319.67,445.96L303.87,445.96Z" fill="#fff" stroke="#008080" stroke-width="1.3" stroke-linejoin="miter"/>
<path d="M322.17,431.61L330.07,444.51L314.27,444.51Z" fill="#fff" stroke="#008080" stroke-width="1.3" stroke-linejoin="miter"/>
<path d="M332.57,429.92L340.47,442.82L324.67,442.82Z" fill="#fff" stroke="#008080" stroke-width="1.3" stroke-linejoin="miter"/>
<path d="M342.97,428.44L350.87,441.34L335.07,441.34Z" fill="#fff" stroke="#008080" stroke-width="1.3" stroke-linejoin="miter"/>
<path d="M353.37,426.15L361.27,439.05L345.47,439.05Z" fill="#fff" stroke="#008080" stroke-width="1.3" stroke-linejoin="miter"/>
<path d="M363.77,424.06L371.67,436.96L355.87,436.96Z" fill="#fff" stroke="#008080" stroke-width="1.3" stroke-linejoin="miter"/>
<path d="M374.16,421.67L382.06,434.57L366.26,434.57Z" fill="#fff" stroke="#008080" stroke-width="1.3" stroke-linejoin="miter"/>
<path d="M384.56,419.69L392.46,432.59L376.66,432.59Z" fill="#fff" stroke="#008080" stroke-width="1.3" stroke-linejoin="miter"/>
<path d="M394.96,418.88L402.86,431.78L387.06,431.78Z" fill="#fff" stroke="#008080" stroke-width="1.3" stroke-linejoin="miter"/>
<path d="M405.36,417.56L413.26,430.46L397.46,430.46Z" fill="#fff" stroke="#008080" stroke-width="1.3" stroke-linejoin="miter"/>
<path d="M415.76,415.53L423.66,428.43L407.86,428.43Z" fill="#fff" stroke="#008080" stroke-width="1.3" stroke-linejoin="miter"/>
<path d="M426.16,412.28L434.06,425.18L418.26,425.18Z" fill="#fff" stroke="#008080" stroke-width="1.3" stroke-linejoin="miter"/>
<path d="M436.56,407.63L444.46,420.53L428.66,420.53Z" fill="#fff" stroke="#008080" stroke-width="1.3" stroke-linejoin="miter"/>
<path d="M446.95,402.54L454.85,415.44L439.05,415.44Z" fill="#fff" stroke="#008080" stroke-width="1.3" stroke-linejoin="miter"/>
<path d="M457.35,397.72L465.25,410.62L449.45,410.62Z" fill="#fff" stroke="#008080" stroke-width="1.3" stroke-linejoin="miter"/>
<path d="M467.75,393.03L475.65,405.93L459.85,405.93Z" fill="#fff" stroke="#008080" stroke-width="1.3" stroke-linejoin="miter"/>
<path d="M478.15,388.35L486.05,401.25L470.25,401.25Z" fill="#fff" stroke="#008080" stroke-width="1.3" stroke-linejoin="miter"/>
<path d="M488.55,383.65L496.45,396.55L480.65,396.55Z" fill="#fff" stroke="#008080" stroke-width="1.3" stroke-linejoin="miter"/>
<path d="M498.95,378.80L506.85,391.70L491.05,391.70Z" fill="#fff" stroke="#008080" stroke-width="1.3" stroke-linejoin="miter"/>
<path d="M509.35,374.09L517.25,386.99L501.45,386.99Z" fill="#fff" stroke="#008080" stroke-width="1.3" stroke-linejoin="miter"/>
<path d="M519.75,369.89L527.65,382.79L511.85,382.79Z" fill="#fff" stroke="#008080" stroke-width="1.3" stroke-linejoin="miter"/>
<path d="M530.14,366.30L538.04,379.20L522.24,379.20Z" fill="#fff" stroke="#008080" stroke-width="1.3" stroke-linejoin="miter"/>
<path d="M540.54,362.81L548.44,375.71L532.64,375.71Z" fill="#fff" stroke="#008080" stroke-width="1.3" stroke-linejoin="miter"/>
<path d="M550.94,358.87L558.84,371.77L543.04,371.77Z" fill="#fff" stroke="#008080" stroke-width="1.3" stroke-linejoin="miter"/>
<path d="M561.34,354.31L569.24,367.21L553.44,367.21Z" fill="#fff" stroke="#008080" stroke-width="1.3" stroke-linejoin="miter"/>
<path d="M571.74,349.47L579.64,362.37L563.84,362.37Z" fill="#fff" stroke="#008080" stroke-width="1.3" stroke-linejoin="miter"/>
<path d="M582.14,344.70L590.04,357.60L574.24,357.60Z" fill="#fff" stroke="#008080" stroke-width="1.3" stroke-linejoin="miter"/>
<path d="M592.54,339.84L600.44,352.74L584.64,352.74Z" fill="#fff" stroke="#008080" stroke-width="1.3" stroke-linejoin="miter"/>
<path d="M602.93,335.08L610.83,347.98L595.03,347.98Z" fill="#fff" stroke="#008080" stroke-width="1.3" stroke-linejoin="miter"/>
<path d="M613.33,330.80L621.23,343.70L605.43,343.70Z" fill="#fff" stroke="#008080" stroke-width="1.3" stroke-linejoin="miter"/>
<path d="M623.73,327.07L631.63,339.97L615.83,339.97Z" fill="#fff" stroke="#008080" stroke-width="1.3" stroke-linejoin="miter"/>
<path d="M634.13,323.58L642.03,336.48L626.23,336.48Z" fill="#fff" stroke="#008080" stroke-width="1.3" stroke-linejoin="miter"/>
<path d="M644.53,320.01L652.43,332.91L636.63,332.91Z" fill="#fff" stroke="#008080" stroke-width="1.3" stroke-linejoin="miter"/>
<path d="M654.93,316.09L662.83,328.99L647.03,328.99Z" fill="#fff" stroke="#008080" stroke-width="1.3" stroke-linejoin="miter"/>
<path d="M665.33,312.28L673.23,325.18L657.43,325.18Z" fill="#fff" stroke="#008080" stroke-width="1.3" stroke-linejoin="miter"/>
<path d="M675.72,309.24L683.62,322.14L667.82,322.14Z" fill="#fff" stroke="#008080" stroke-width="1.3" stroke-linejoin="miter"/>
<path d="M686.12,307.24L694.02,320.14L678.22,320.14Z" fill="#fff" stroke="#008080" stroke-width="1.3" stroke-linejoin="miter"/>
<path d="M696.52,303.58L704.42,316.48L688.62,316.48Z" fill="#fff" stroke="#008080" stroke-width="1.3" stroke-linejoin="miter"/>
<path d="M706.92,298.16L714.82,311.06L699.02,311.06Z" fill="#fff" stroke="#008080" stroke-width="1.3" stroke-linejoin="miter"/>
<path d="M717.32,293.04L725.22,305.94L709.42,305.94Z" fill="#fff" stroke="#008080" stroke-width="1.3" stroke-linejoin="miter"/>
<path d="M727.72,287.15L735.62,300.05L719.82,300.05Z" fill="#fff" stroke="#008080" stroke-width="1.3" stroke-linejoin="miter"/>
<path d="M738.12,280.49L746.02,293.39L730.22,293.39Z" fill="#fff" stroke="#008080" stroke-width="1.3" stroke-linejoin="miter"/>
<path d="M748.51,271.76L756.41,284.66L740.61,284.66Z" fill="#fff" stroke="#008080" stroke-width="1.3" stroke-linejoin="miter"/>
<path d="M758.91,261.02L766.81,273.92L751.01,273.92Z" fill="#fff" stroke="#008080" stroke-width="1.3" stroke-linejoin="miter"/>
<path d="M769.31,249.71L777.21,262.61L761.41,262.61Z" fill="#fff" stroke="#008080" stroke-width="1.3" stroke-linejoin="miter"/>
<path d="M779.71,235.21L787.61,248.11L771.81,248.11Z" fill="#fff" stroke="#008080" stroke-width="1.3" stroke-linejoin="miter"/>
<path d="M790.11,218.77L798.01,231.67L782.21,231.67Z" fill="#fff" stroke="#008080" stroke-width="1.3" stroke-linejoin="miter"/>
<path d="M800.51,202.25L808.41,215.15L792.61,215.15Z" fill="#fff" stroke="#008080" stroke-width="1.3" stroke-linejoin="miter"/>
<path d="M810.91,185.46L818.81,198.36L803.01,198.36Z" fill="#fff" stroke="#008080" stroke-width="1.3" stroke-linejoin="miter"/>
<path d="M821.30,169.10L829.20,182.00L813.40,182.00Z" fill="#fff" stroke="#008080" stroke-width="1.3" stroke-linejoin="miter"/>
<path d="M831.70,152.85L839.60,165.75L823.80,165.75Z" fill="#fff" stroke="#008080" stroke-width="1.3" stroke-linejoin="miter"/>
<path d="M842.10,135.99L850.00,148.89L834.20,148.89Z" fill="#fff" stroke="#008080" stroke-width="1.3" stroke-linejoin="miter"/>
<path d="M852.50,119.32L860.40,132.22L844.60,132.22Z" fill="#fff" stroke="#008080" stroke-width="1.3" stroke-linejoin="miter"/>
<path d="M862.90,103.17L870.80,116.07L855.00,116.07Z" fill="#fff" stroke="#008080" stroke-width="1.3" stroke-linejoin="miter"/>
<path d="M873.30,86.35L881.20,99.25L865.40,99.25Z" fill="#fff" stroke="#008080" stroke-width="1.3" stroke-linejoin="miter"/>
<path d="M883.70,69.90L891.60,82.80L875.80,82.80Z" fill="#fff" stroke="#008080" stroke-width="1.3" stroke-linejoin="miter"/>
<path d="M894.10,53.16L902.00,66.06L886.20,66.06Z" fill="#fff" stroke="#008080" stroke-width="1.3" stroke-linejoin="miter"/>
<path d="M904.49,36.71L912.39,49.61L896.59,49.61Z" fill="#fff" stroke="#008080" stroke-width="1.3" stroke-linejoin="miter"/>
<path d="M914.89,20.74L922.79,33.64L906.99,33.64Z" fill="#fff" stroke="#008080" stroke-width="1.3" stroke-linejoin="miter"/>
<path d="M925.29,4.04L933.19,16.94L917.39,16.94Z" fill="#fff" stroke="#008080" stroke-width="1.3" stroke-linejoin="miter"/>
<polyline points="109.00,603.00 119.40,595.51 129.80,582.57 140.20,568.19 150.59,553.68 160.99,540.88 171.39,529.12 181.79,519.81 192.19,512.31 202.59,509.07 212.99,509.41 223.38,513.82 233.78,521.84 244.18,533.11 254.58,547.19 264.98,557.85 275.38,563.73 285.78,569.17 296.18,572.49 306.57,574.85 316.97,575.49 327.37,574.60 337.77,571.44 348.17,566.32 358.57,558.86 368.97,549.27 379.36,539.56 389.76,529.98 400.16,522.03 410.56,512.95 420.96,505.26 431.36,499.19 441.76,492.06 452.15,485.61 462.55,479.87 472.95,472.96 483.35,464.85 493.75,458.08 504.15,454.03 514.55,447.92 524.94,439.74 535.34,434.51 545.74,430.92 556.14,427.11 566.54,423.47 576.94,419.90 587.34,417.03 597.73,414.59 608.13,412.35 618.53,410.51 628.93,408.88 639.33,407.16 649.73,405.37 660.13,403.47 670.53,399.53 680.92,393.77 691.32,382.49 701.72,366.39 712.12,350.76 722.52,334.34 732.92,317.44 743.32,301.63 753.71,284.50 764.11,267.66 774.51,251.87 784.91,235.42 795.31,219.13 805.71,202.28 816.11,185.72 826.50,169.52 836.90,153.07 847.30,135.84 857.70,120.00 868.10,103.15 878.50,86.63 888.90,70.13 899.29,53.22 909.69,37.35 920.09,20.96" fill="none" stroke="#008080" stroke-width="1.2"/>
<path d="M109.00,593.10L117.80,608.00L100.20,608.00Z" fill="#008080"/>
<path d="M119.40,585.61L128.20,600.51L110.60,600.51Z" fill="#008080"/>
<path d="M129.80,572.67L138.60,587.57L121.00,587.57Z" fill="#008080"/>
<path d="M140.20,558.29L149.00,573.19L131.40,573.19Z" fill="#008080"/>
<path d="M150.59,543.78L159.39,558.68L141.79,558.68Z" fill="#008080"/>
<path d="M160.99,530.98L169.79,545.88L152.19,545.88Z" fill="#008080"/>
<path d="M171.39,519.22L180.19,534.12L162.59,534.12Z" fill="#008080"/>
<path d="M181.79,509.91L190.59,524.81L172.99,524.81Z" fill="#008080"/>
<path d="M192.19,502.41L200.99,517.31L183.39,517.31Z" fill="#008080"/>
<path d="M202.59,499.17L211.39,514.07L193.79,514.07Z" fill="#008080"/>
<path d="M212.99,499.51L221.79,514.41L204.19,514.41Z" fill="#008080"/>
<path d="M223.38,503.92L232.18,518.82L214.58,518.82Z" fill="#008080"/>
<path d="M233.78,511.94L242.58,526.84L224.98,526.84Z" fill="#008080"/>
<path d="M244.18,523.21L252.98,538.11L235.38,538.11Z" fill="#008080"/>
<path d="M254.58,537.29L263.38,552.19L245.78,552.19Z" fill="#008080"/>
<path d="M264.98,547.95L273.78,562.85L256.18,562.85Z" fill="#008080"/>
<path d="M275.38,553.83L284.18,568.73L266.58,568.73Z" fill="#008080"/>
<path d="M285.78,559.27L294.58,574.17L276.98,574.17Z" fill="#008080"/>
<path d="M296.18,562.59L304.98,577.49L287.38,577.49Z" fill="#008080"/>
<path d="M306.57,564.95L315.37,579.85L297.77,579.85Z" fill="#008080"/>
<path d="M316.97,565.59L325.77,580.49L308.17,580.49Z" fill="#008080"/>
<path d="M327.37,564.70L336.17,579.60L318.57,579.60Z" fill="#008080"/>
<path d="M337.77,561.54L346.57,576.44L328.97,576.44Z" fill="#008080"/>
<path d="M348.17,556.42L356.97,571.32L339.37,571.32Z" fill="#008080"/>
<path d="M358.57,548.96L367.37,563.86L349.77,563.86Z" fill="#008080"/>
<path d="M368.97,539.37L377.77,554.27L360.17,554.27Z" fill="#008080"/>
<path d="M379.36,529.66L388.16,544.56L370.56,544.56Z" fill="#008080"/>
<path d="M389.76,520.08L398.56,534.98L380.96,534.98Z" fill="#008080"/>
<path d="M400.16,512.13L408.96,527.03L391.36,527.03Z" fill="#008080"/>
<path d="M410.56,503.05L419.36,517.95L401.76,517.95Z" fill="#008080"/>
<path d="M420.96,495.36L429.76,510.26L412.16,510.26Z" fill="#008080"/>
<path d="M431.36,489.29L440.16,504.19L422.56,504.19Z" fill="#008080"/>
<path d="M441.76,482.16L450.56,497.06L432.96,497.06Z" fill="#008080"/>
<path d="M452.15,475.71L460.95,490.61L443.35,490.61Z" fill="#008080"/>
<path d="M462.55,469.97L471.35,484.87L453.75,484.87Z" fill="#008080"/>
<path d="M472.95,463.06L481.75,477.96L464.15,477.96Z" fill="#008080"/>
<path d="M483.35,454.95L492.15,469.85L474.55,469.85Z" fill="#008080"/>
<path d="M493.75,448.18L502.55,463.08L484.95,463.08Z" fill="#008080"/>
<path d="M504.15,444.13L512.95,459.03L495.35,459.03Z" fill="#008080"/>
<path d="M514.55,438.02L523.35,452.92L505.75,452.92Z" fill="#008080"/>
<path d="M524.94,429.84L533.74,444.74L516.14,444.74Z" fill="#008080"/>
<path d="M535.34,424.61L544.14,439.51L526.54,439.51Z" fill="#008080"/>
<path d="M545.74,421.02L554.54,435.92L536.94,435.92Z" fill="#008080"/>
<path d="M556.14,417.21L564.94,432.11L547.34,432.11Z" fill="#008080"/>
<path d="M566.54,413.57L575.34,428.47L557.74,428.47Z" fill="#008080"/>
<path d="M576.94,410.00L585.74,424.90L568.14,424.90Z" fill="#008080"/>
<path d="M587.34,407.13L596.14,422.03L578.54,422.03Z" fill="#008080"/>
<path d="M597.73,404.69L606.53,419.59L588.93,419.59Z" fill="#008080"/>
<path d="M608.13,402.45L616.93,417.35L599.33,417.35Z" fill="#008080"/>
<path d="M618.53,400.61L627.33,415.51L609.73,415.51Z" fill="#008080"/>
<path d="M628.93,398.98L637.73,413.88L620.13,413.88Z" fill="#008080"/>
<path d="M639.33,397.26L648.13,412.16L630.53,412.16Z" fill="#008080"/>
<path d="M649.73,395.47L658.53,410.37L640.93,410.37Z" fill="#008080"/>
<path d="M660.13,393.57L668.93,408.47L651.33,408.47Z" fill="#008080"/>
<path d="M670.53,389.63L679.33,404.53L661.73,404.53Z" fill="#008080"/>
<path d="M680.92,383.87L689.72,398.77L672.12,398.77Z" fill="#008080"/>
<path d="M691.32,372.59L700.12,387.49L682.52,387.49Z" fill="#008080"/>
<path d="M701.72,356.49L710.52,371.39L692.92,371.39Z" fill="#008080"/>
<path d="M712.12,340.86L720.92,355.76L703.32,355.76Z" fill="#008080"/>
<path d="M722.52,324.44L731.32,339.34L713.72,339.34Z" fill="#008080"/>
<path d="M732.92,307.54L741.72,322.44L724.12,322.44Z" fill="#008080"/>
<path d="M743.32,291.73L752.12,306.63L734.52,306.63Z" fill="#008080"/>
<path d="M753.71,274.60L762.51,289.50L744.91,289.50Z" fill="#008080"/>
<path d="M764.11,257.76L772.91,272.66L755.31,272.66Z" fill="#008080"/>
<path d="M774.51,241.97L783.31,256.87L765.71,256.87Z" fill="#008080"/>
<path d="M784.91,225.52L793.71,240.42L776.11,240.42Z" fill="#008080"/>
<path d="M795.31,209.23L804.11,224.13L786.51,224.13Z" fill="#008080"/>
<path d="M805.71,192.38L814.51,207.28L796.91,207.28Z" fill="#008080"/>
<path d="M816.11,175.82L824.91,190.72L807.31,190.72Z" fill="#008080"/>
<path d="M826.50,159.62L835.30,174.52L817.70,174.52Z" fill="#008080"/>
<path d="M836.90,143.17L845.70,158.07L828.10,158.07Z" fill="#008080"/>
<path d="M847.30,125.94L856.10,140.84L838.50,140.84Z" fill="#008080"/>
<path d="M857.70,110.10L866.50,125.00L848.90,125.00Z" fill="#008080"/>
<path d="M868.10,93.25L876.90,108.15L859.30,108.15Z" fill="#008080"/>
<path d="M878.50,76.73L887.30,91.63L869.70,91.63Z" fill="#008080"/>
<path d="M888.90,60.23L897.70,75.13L880.10,75.13Z" fill="#008080"/>
<path d="M899.29,43.32L908.09,58.22L890.49,58.22Z" fill="#008080"/>
<path d="M909.69,27.45L918.49,42.35L900.89,42.35Z" fill="#008080"/>
<path d="M920.09,11.06L928.89,25.96L911.29,25.96Z" fill="#008080"/>
<rect x="108.30" y="585.53" width="11.80" height="11.80" fill="#fff" stroke="#ff0000" stroke-width="1.3"/>
<rect x="118.70" y="568.00" width="11.80" height="11.80" fill="#fff" stroke="#ff0000" stroke-width="1.3"/>
<rect x="129.10" y="551.67" width="11.80" height="11.80" fill="#fff" stroke="#ff0000" stroke-width="1.3"/>
<rect x="139.50" y="536.88" width="11.80" height="11.80" fill="#fff" stroke="#ff0000" stroke-width="1.3"/>
<rect x="149.89" y="521.98" width="11.80" height="11.80" fill="#fff" stroke="#ff0000" stroke-width="1.3"/>
<rect x="160.29" y="506.30" width="11.80" height="11.80" fill="#fff" stroke="#ff0000" stroke-width="1.3"/>
<rect x="170.69" y="489.37" width="11.80" height="11.80" fill="#fff" stroke="#ff0000" stroke-width="1.3"/>
<rect x="181.09" y="474.15" width="11.80" height="11.80" fill="#fff" stroke="#ff0000" stroke-width="1.3"/>
<rect x="191.49" y="460.03" width="11.80" height="11.80" fill="#fff" stroke="#ff0000" stroke-width="1.3"/>
<rect x="201.89" y="447.50" width="11.80" height="11.80" fill="#fff" stroke="#ff0000" stroke-width="1.3"/>
<rect x="212.29" y="435.02" width="11.80" height="11.80" fill="#fff" stroke="#ff0000" stroke-width="1.3"/>
<rect x="222.68" y="422.75" width="11.80" height="11.80" fill="#fff" stroke="#ff0000" stroke-width="1.3"/>
<rect x="233.08" y="411.00" width="11.80" height="11.80" fill="#fff" stroke="#ff0000" stroke-width="1.3"/>
<rect x="243.48" y="400.24" width="11.80" height="11.80" fill="#fff" stroke="#ff0000" stroke-width="1.3"/>
<rect x="253.88" y="389.67" width="11.80" height="11.80" fill="#fff" stroke="#ff0000" stroke-width="1.3"/>
<rect x="264.28" y="382.38" width="11.80" height="11.80" fill="#fff" stroke="#ff0000" stroke-width="1.3"/>
<rect x="274.68" y="376.64" width="11.80" height="11.80" fill="#fff" stroke="#ff0000" stroke-width="1.3"/>
<rect x="285.08" y="371.03" width="11.80" height="11.80" fill="#fff" stroke="#ff0000" stroke-width="1.3"/>
<rect x="295.47" y="367.81" width="11.80" height="11.80" fill="#fff" stroke="#ff0000" stroke-width="1.3"/>
<rect x="305.87" y="365.61" width="11.80" height="11.80" fill="#fff" stroke="#ff0000" stroke-width="1.3"/>
<rect x="316.27" y="363.02" width="11.80" height="11.80" fill="#fff" stroke="#ff0000" stroke-width="1.3"/>
<rect x="326.67" y="361.48" width="11.80" height="11.80" fill="#fff" stroke="#ff0000" stroke-width="1.3"/>
<rect x="337.07" y="359.96" width="11.80" height="11.80" fill="#fff" stroke="#ff0000" stroke-width="1.3"/>
<rect x="347.47" y="358.37" width="11.80" height="11.80" fill="#fff" stroke="#ff0000" stroke-width="1.3"/>
<rect x="357.87" y="356.74" width="11.80" height="11.80" fill="#fff" stroke="#ff0000" stroke-width="1.3"/>
<rect x="368.26" y="355.13" width="11.80" height="11.80" fill="#fff" stroke="#ff0000" stroke-width="1.3"/>
<rect x="378.66" y="354.31" width="11.80" height="11.80" fill="#fff" stroke="#ff0000" stroke-width="1.3"/>
<rect x="389.06" y="353.27" width="11.80" height="11.80" fill="#fff" stroke="#ff0000" stroke-width="1.3"/>
<rect x="399.46" y="352.36" width="11.80" height="11.80" fill="#fff" stroke="#ff0000" stroke-width="1.3"/>
<rect x="409.86" y="350.75" width="11.80" height="11.80" fill="#fff" stroke="#ff0000" stroke-width="1.3"/>
<rect x="420.26" y="349.09" width="11.80" height="11.80" fill="#fff" stroke="#ff0000" stroke-width="1.3"/>
<rect x="430.66" y="347.60" width="11.80" height="11.80" fill="#fff" stroke="#ff0000" stroke-width="1.3"/>
<rect x="441.05" y="346.10" width="11.80" height="11.80" fill="#fff" stroke="#ff0000" stroke-width="1.3"/>
<rect x="451.45" y="344.36" width="11.80" height="11.80" fill="#fff" stroke="#ff0000" stroke-width="1.3"/>
<rect x="461.85" y="342.28" width="11.80" height="11.80" fill="#fff" stroke="#ff0000" stroke-width="1.3"/>
<rect x="472.25" y="340.10" width="11.80" height="11.80" fill="#fff" stroke="#ff0000" stroke-width="1.3"/>
<rect x="482.65" y="338.09" width="11.80" height="11.80" fill="#fff" stroke="#ff0000" stroke-width="1.3"/>
<rect x="493.05" y="336.26" width="11.80" height="11.80" fill="#fff" stroke="#ff0000" stroke-width="1.3"/>
<rect x="503.45" y="334.42" width="11.80" height="11.80" fill="#fff" stroke="#ff0000" stroke-width="1.3"/>
<rect x="513.85" y="332.39" width="11.80" height="11.80" fill="#fff" stroke="#ff0000" stroke-width="1.3"/>
<rect x="524.24" y="330.09" width="11.80" height="11.80" fill="#fff" stroke="#ff0000" stroke-width="1.3"/>
<rect x="534.64" y="327.71" width="11.80" height="11.80" fill="#fff" stroke="#ff0000" stroke-width="1.3"/>
<rect x="545.04" y="325.47" width="11.80" height="11.80" fill="#fff" stroke="#ff0000" stroke-width="1.3"/>
<rect x="555.44" y="323.38" width="11.80" height="11.80" fill="#fff" stroke="#ff0000" stroke-width="1.3"/>
<rect x="565.84" y="321.33" width="11.80" height="11.80" fill="#fff" stroke="#ff0000" stroke-width="1.3"/>
<rect x="576.24" y="319.28" width="11.80" height="11.80" fill="#fff" stroke="#ff0000" stroke-width="1.3"/>
<rect x="586.64" y="317.30" width="11.80" height="11.80" fill="#fff" stroke="#ff0000" stroke-width="1.3"/>
<rect x="597.03" y="315.26" width="11.80" height="11.80" fill="#fff" stroke="#ff0000" stroke-width="1.3"/>
<rect x="607.43" y="312.95" width="11.80" height="11.80" fill="#fff" stroke="#ff0000" stroke-width="1.3"/>
<rect x="617.83" y="310.21" width="11.80" height="11.80" fill="#fff" stroke="#ff0000" stroke-width="1.3"/>
<rect x="628.23" y="307.22" width="11.80" height="11.80" fill="#fff" stroke="#ff0000" stroke-width="1.3"/>
<rect x="638.63" y="304.02" width="11.80" height="11.80" fill="#fff" stroke="#ff0000" stroke-width="1.3"/>
<rect x="649.03" y="300.86" width="11.80" height="11.80" fill="#fff" stroke="#ff0000" stroke-width="1.3"/>
<rect x="659.43" y="299.39" width="11.80" height="11.80" fill="#fff" stroke="#ff0000" stroke-width="1.3"/>
<rect x="669.82" y="296.30" width="11.80" height="11.80" fill="#fff" stroke="#ff0000" stroke-width="1.3"/>
<rect x="680.22" y="294.64" width="11.80" height="11.80" fill="#fff" stroke="#ff0000" stroke-width="1.3"/>
<rect x="690.62" y="291.45" width="11.80" height="11.80" fill="#fff" stroke="#ff0000" stroke-width="1.3"/>
<rect x="701.02" y="288.60" width="11.80" height="11.80" fill="#fff" stroke="#ff0000" stroke-width="1.3"/>
<rect x="711.42" y="283.80" width="11.80" height="11.80" fill="#fff" stroke="#ff0000" stroke-width="1.3"/>
<rect x="721.82" y="278.18" width="11.80" height="11.80" fill="#fff" stroke="#ff0000" stroke-width="1.3"/>
<rect x="732.22" y="269.55" width="11.80" height="11.80" fill="#fff" stroke="#ff0000" stroke-width="1.3"/>
<rect x="742.61" y="260.08" width="11.80" height="11.80" fill="#fff" stroke="#ff0000" stroke-width="1.3"/>
<rect x="753.01" y="249.39" width="11.80" height="11.80" fill="#fff" stroke="#ff0000" stroke-width="1.3"/>
<rect x="763.41" y="236.76" width="11.80" height="11.80" fill="#fff" stroke="#ff0000" stroke-width="1.3"/>
<rect x="773.81" y="225.40" width="11.80" height="11.80" fill="#fff" stroke="#ff0000" stroke-width="1.3"/>
<rect x="784.21" y="212.26" width="11.80" height="11.80" fill="#fff" stroke="#ff0000" stroke-width="1.3"/>
<rect x="794.61" y="198.73" width="11.80" height="11.80" fill="#fff" stroke="#ff0000" stroke-width="1.3"/>
<rect x="805.01" y="182.74" width="11.80" height="11.80" fill="#fff" stroke="#ff0000" stroke-width="1.3"/>
<rect x="815.40" y="168.55" width="11.80" height="11.80" fill="#fff" stroke="#ff0000" stroke-width="1.3"/>
<rect x="825.80" y="153.14" width="11.80" height="11.80" fill="#fff" stroke="#ff0000" stroke-width="1.3"/>
<rect x="836.20" y="137.02" width="11.80" height="11.80" fill="#fff" stroke="#ff0000" stroke-width="1.3"/>
<rect x="846.60" y="121.01" width="11.80" height="11.80" fill="#fff" stroke="#ff0000" stroke-width="1.3"/>
<rect x="857.00" y="105.20" width="11.80" height="11.80" fill="#fff" stroke="#ff0000" stroke-width="1.3"/>
<rect x="867.40" y="88.73" width="11.80" height="11.80" fill="#fff" stroke="#ff0000" stroke-width="1.3"/>
<rect x="877.80" y="72.50" width="11.80" height="11.80" fill="#fff" stroke="#ff0000" stroke-width="1.3"/>
<rect x="888.20" y="55.76" width="11.80" height="11.80" fill="#fff" stroke="#ff0000" stroke-width="1.3"/>
<rect x="898.59" y="39.31" width="11.80" height="11.80" fill="#fff" stroke="#ff0000" stroke-width="1.3"/>
<rect x="908.99" y="23.34" width="11.80" height="11.80" fill="#fff" stroke="#ff0000" stroke-width="1.3"/>
<rect x="919.39" y="6.64" width="11.80" height="11.80" fill="#fff" stroke="#ff0000" stroke-width="1.3"/>
<polyline points="109.00,603.00 119.40,587.55 129.80,571.84 140.20,556.68 150.59,539.79 160.99,524.89 171.39,509.83 181.79,495.45 192.19,481.86 202.59,468.57 212.99,457.33 223.38,447.20 233.78,438.28 244.18,433.09 254.58,430.15 264.98,430.61 275.38,435.71 285.78,447.22 296.18,459.31 306.57,469.86 316.97,478.79 327.37,485.74 337.77,490.31 348.17,492.96 358.57,495.28 368.97,496.14 379.36,496.50 389.76,496.24 400.16,495.65 410.56,493.51 420.96,489.42 431.36,486.34 441.76,482.20 452.15,477.13 462.55,471.74 472.95,466.69 483.35,460.91 493.75,456.10 504.15,450.32 514.55,445.27 524.94,439.74 535.34,434.51 545.74,430.92 556.14,427.11 566.54,423.47 576.94,419.90 587.34,417.03 597.73,414.59 608.13,412.35 618.53,410.51 628.93,408.88 639.33,407.16 649.73,405.37 660.13,403.47 670.53,399.53 680.92,393.77 691.32,382.49 701.72,366.39 712.12,350.76 722.52,334.34 732.92,317.44 743.32,301.63 753.71,284.50 764.11,267.66 774.51,251.87 784.91,235.42 795.31,219.13 805.71,202.28 816.11,185.72 826.50,169.52 836.90,153.07 847.30,135.84 857.70,120.00 868.10,103.15 878.50,86.63 888.90,70.13 899.29,53.22 909.69,37.35 920.09,20.96" fill="none" stroke="#ff0000" stroke-width="1.2"/>
<rect x="102.60" y="596.60" width="12.80" height="12.80" fill="#ff0000"/>
<rect x="113.00" y="581.15" width="12.80" height="12.80" fill="#ff0000"/>
<rect x="123.40" y="565.44" width="12.80" height="12.80" fill="#ff0000"/>
<rect x="133.80" y="550.28" width="12.80" height="12.80" fill="#ff0000"/>
<rect x="144.19" y="533.39" width="12.80" height="12.80" fill="#ff0000"/>
<rect x="154.59" y="518.49" width="12.80" height="12.80" fill="#ff0000"/>
<rect x="164.99" y="503.43" width="12.80" height="12.80" fill="#ff0000"/>
<rect x="175.39" y="489.05" width="12.80" height="12.80" fill="#ff0000"/>
<rect x="185.79" y="475.46" width="12.80" height="12.80" fill="#ff0000"/>
<rect x="196.19" y="462.17" width="12.80" height="12.80" fill="#ff0000"/>
<rect x="206.59" y="450.93" width="12.80" height="12.80" fill="#ff0000"/>
<rect x="216.98" y="440.80" width="12.80" height="12.80" fill="#ff0000"/>
<rect x="227.38" y="431.88" width="12.80" height="12.80" fill="#ff0000"/>
<rect x="237.78" y="426.69" width="12.80" height="12.80" fill="#ff0000"/>
<rect x="248.18" y="423.75" width="12.80" height="12.80" fill="#ff0000"/>
<rect x="258.58" y="424.21" width="12.80" height="12.80" fill="#ff0000"/>
<rect x="268.98" y="429.31" width="12.80" height="12.80" fill="#ff0000"/>
<rect x="279.38" y="440.82" width="12.80" height="12.80" fill="#ff0000"/>
<rect x="289.78" y="452.91" width="12.80" height="12.80" fill="#ff0000"/>
<rect x="300.17" y="463.46" width="12.80" height="12.80" fill="#ff0000"/>
<rect x="310.57" y="472.39" width="12.80" height="12.80" fill="#ff0000"/>
<rect x="320.97" y="479.34" width="12.80" height="12.80" fill="#ff0000"/>
<rect x="331.37" y="483.91" width="12.80" height="12.80" fill="#ff0000"/>
<rect x="341.77" y="486.56" width="12.80" height="12.80" fill="#ff0000"/>
<rect x="352.17" y="488.88" width="12.80" height="12.80" fill="#ff0000"/>
<rect x="362.57" y="489.74" width="12.80" height="12.80" fill="#ff0000"/>
<rect x="372.96" y="490.10" width="12.80" height="12.80" fill="#ff0000"/>
<rect x="383.36" y="489.84" width="12.80" height="12.80" fill="#ff0000"/>
<rect x="393.76" y="489.25" width="12.80" height="12.80" fill="#ff0000"/>
<rect x="404.16" y="487.11" width="12.80" height="12.80" fill="#ff0000"/>
<rect x="414.56" y="483.02" width="12.80" height="12.80" fill="#ff0000"/>
<rect x="424.96" y="479.94" width="12.80" height="12.80" fill="#ff0000"/>
<rect x="435.36" y="475.80" width="12.80" height="12.80" fill="#ff0000"/>
<rect x="445.75" y="470.73" width="12.80" height="12.80" fill="#ff0000"/>
<rect x="456.15" y="465.34" width="12.80" height="12.80" fill="#ff0000"/>
<rect x="466.55" y="460.29" width="12.80" height="12.80" fill="#ff0000"/>
<rect x="476.95" y="454.51" width="12.80" height="12.80" fill="#ff0000"/>
<rect x="487.35" y="449.70" width="12.80" height="12.80" fill="#ff0000"/>
<rect x="497.75" y="443.92" width="12.80" height="12.80" fill="#ff0000"/>
<rect x="508.15" y="438.87" width="12.80" height="12.80" fill="#ff0000"/>
<rect x="518.54" y="433.34" width="12.80" height="12.80" fill="#ff0000"/>
<rect x="528.94" y="428.11" width="12.80" height="12.80" fill="#ff0000"/>
<rect x="539.34" y="424.52" width="12.80" height="12.80" fill="#ff0000"/>
<rect x="549.74" y="420.71" width="12.80" height="12.80" fill="#ff0000"/>
<rect x="560.14" y="417.07" width="12.80" height="12.80" fill="#ff0000"/>
<rect x="570.54" y="413.50" width="12.80" height="12.80" fill="#ff0000"/>
<rect x="580.94" y="410.63" width="12.80" height="12.80" fill="#ff0000"/>
<rect x="591.33" y="408.19" width="12.80" height="12.80" fill="#ff0000"/>
<rect x="601.73" y="405.95" width="12.80" height="12.80" fill="#ff0000"/>
<rect x="612.13" y="404.11" width="12.80" height="12.80" fill="#ff0000"/>
<rect x="622.53" y="402.48" width="12.80" height="12.80" fill="#ff0000"/>
<rect x="632.93" y="400.76" width="12.80" height="12.80" fill="#ff0000"/>
<rect x="643.33" y="398.97" width="12.80" height="12.80" fill="#ff0000"/>
<rect x="653.73" y="397.07" width="12.80" height="12.80" fill="#ff0000"/>
<rect x="664.13" y="393.13" width="12.80" height="12.80" fill="#ff0000"/>
<rect x="674.52" y="387.37" width="12.80" height="12.80" fill="#ff0000"/>
<rect x="684.92" y="376.09" width="12.80" height="12.80" fill="#ff0000"/>
<rect x="695.32" y="359.99" width="12.80" height="12.80" fill="#ff0000"/>
<rect x="705.72" y="344.36" width="12.80" height="12.80" fill="#ff0000"/>
<rect x="716.12" y="327.94" width="12.80" height="12.80" fill="#ff0000"/>
<rect x="726.52" y="311.04" width="12.80" height="12.80" fill="#ff0000"/>
<rect x="736.92" y="295.23" width="12.80" height="12.80" fill="#ff0000"/>
<rect x="747.31" y="278.10" width="12.80" height="12.80" fill="#ff0000"/>
<rect x="757.71" y="261.26" width="12.80" height="12.80" fill="#ff0000"/>
<rect x="768.11" y="245.47" width="12.80" height="12.80" fill="#ff0000"/>
<rect x="778.51" y="229.02" width="12.80" height="12.80" fill="#ff0000"/>
<rect x="788.91" y="212.73" width="12.80" height="12.80" fill="#ff0000"/>
<rect x="799.31" y="195.88" width="12.80" height="12.80" fill="#ff0000"/>
<rect x="809.71" y="179.32" width="12.80" height="12.80" fill="#ff0000"/>
<rect x="820.10" y="163.12" width="12.80" height="12.80" fill="#ff0000"/>
<rect x="830.50" y="146.67" width="12.80" height="12.80" fill="#ff0000"/>
<rect x="840.90" y="129.44" width="12.80" height="12.80" fill="#ff0000"/>
<rect x="851.30" y="113.60" width="12.80" height="12.80" fill="#ff0000"/>
<rect x="861.70" y="96.75" width="12.80" height="12.80" fill="#ff0000"/>
<rect x="872.10" y="80.23" width="12.80" height="12.80" fill="#ff0000"/>
<rect x="882.50" y="63.73" width="12.80" height="12.80" fill="#ff0000"/>
<rect x="892.89" y="46.82" width="12.80" height="12.80" fill="#ff0000"/>
<rect x="903.29" y="30.95" width="12.80" height="12.80" fill="#ff0000"/>
<rect x="913.69" y="14.56" width="12.80" height="12.80" fill="#ff0000"/>
</g>
<g clip-path="url(#clipB)">
<rect x="111.52" y="1392.95" width="11.80" height="11.80" fill="#fff" stroke="#ff0000" stroke-width="1.3"/>
<rect x="124.37" y="1365.77" width="11.80" height="11.80" fill="#fff" stroke="#ff0000" stroke-width="1.3"/>
<rect x="137.23" y="1344.19" width="11.80" height="11.80" fill="#fff" stroke="#ff0000" stroke-width="1.3"/>
<rect x="150.09" y="1321.03" width="11.80" height="11.80" fill="#fff" stroke="#ff0000" stroke-width="1.3"/>
<rect x="162.95" y="1298.91" width="11.80" height="11.80" fill="#fff" stroke="#ff0000" stroke-width="1.3"/>
<rect x="175.81" y="1277.91" width="11.80" height="11.80" fill="#fff" stroke="#ff0000" stroke-width="1.3"/>
<rect x="188.67" y="1254.96" width="11.80" height="11.80" fill="#fff" stroke="#ff0000" stroke-width="1.3"/>
<rect x="201.53" y="1236.00" width="11.80" height="11.80" fill="#fff" stroke="#ff0000" stroke-width="1.3"/>
<rect x="214.39" y="1216.41" width="11.80" height="11.80" fill="#fff" stroke="#ff0000" stroke-width="1.3"/>
<rect x="227.25" y="1197.67" width="11.80" height="11.80" fill="#fff" stroke="#ff0000" stroke-width="1.3"/>
<rect x="240.11" y="1180.72" width="11.80" height="11.80" fill="#fff" stroke="#ff0000" stroke-width="1.3"/>
<rect x="252.97" y="1165.71" width="11.80" height="11.80" fill="#fff" stroke="#ff0000" stroke-width="1.3"/>
<rect x="265.83" y="1154.16" width="11.80" height="11.80" fill="#fff" stroke="#ff0000" stroke-width="1.3"/>
<rect x="278.69" y="1143.93" width="11.80" height="11.80" fill="#fff" stroke="#ff0000" stroke-width="1.3"/>
<rect x="291.55" y="1136.76" width="11.80" height="11.80" fill="#fff" stroke="#ff0000" stroke-width="1.3"/>
<rect x="304.41" y="1130.40" width="11.80" height="11.80" fill="#fff" stroke="#ff0000" stroke-width="1.3"/>
<rect x="317.26" y="1126.00" width="11.80" height="11.80" fill="#fff" stroke="#ff0000" stroke-width="1.3"/>
<rect x="330.12" y="1123.03" width="11.80" height="11.80" fill="#fff" stroke="#ff0000" stroke-width="1.3"/>
<rect x="342.98" y="1119.56" width="11.80" height="11.80" fill="#fff" stroke="#ff0000" stroke-width="1.3"/>
<rect x="355.84" y="1117.26" width="11.80" height="11.80" fill="#fff" stroke="#ff0000" stroke-width="1.3"/>
<rect x="368.70" y="1115.08" width="11.80" height="11.80" fill="#fff" stroke="#ff0000" stroke-width="1.3"/>
<rect x="381.56" y="1113.62" width="11.80" height="11.80" fill="#fff" stroke="#ff0000" stroke-width="1.3"/>
<rect x="394.42" y="1111.99" width="11.80" height="11.80" fill="#fff" stroke="#ff0000" stroke-width="1.3"/>
<rect x="407.28" y="1110.41" width="11.80" height="11.80" fill="#fff" stroke="#ff0000" stroke-width="1.3"/>
<rect x="420.14" y="1109.01" width="11.80" height="11.80" fill="#fff" stroke="#ff0000" stroke-width="1.3"/>
<rect x="433.00" y="1107.86" width="11.80" height="11.80" fill="#fff" stroke="#ff0000" stroke-width="1.3"/>
<rect x="445.86" y="1106.91" width="11.80" height="11.80" fill="#fff" stroke="#ff0000" stroke-width="1.3"/>
<rect x="458.72" y="1105.76" width="11.80" height="11.80" fill="#fff" stroke="#ff0000" stroke-width="1.3"/>
<rect x="471.58" y="1104.29" width="11.80" height="11.80" fill="#fff" stroke="#ff0000" stroke-width="1.3"/>
<rect x="484.44" y="1103.09" width="11.80" height="11.80" fill="#fff" stroke="#ff0000" stroke-width="1.3"/>
<rect x="497.29" y="1102.07" width="11.80" height="11.80" fill="#fff" stroke="#ff0000" stroke-width="1.3"/>
<rect x="510.15" y="1101.53" width="11.80" height="11.80" fill="#fff" stroke="#ff0000" stroke-width="1.3"/>
<rect x="523.01" y="1101.10" width="11.80" height="11.80" fill="#fff" stroke="#ff0000" stroke-width="1.3"/>
<rect x="535.87" y="1100.50" width="11.80" height="11.80" fill="#fff" stroke="#ff0000" stroke-width="1.3"/>
<rect x="548.73" y="1099.53" width="11.80" height="11.80" fill="#fff" stroke="#ff0000" stroke-width="1.3"/>
<rect x="561.59" y="1098.32" width="11.80" height="11.80" fill="#fff" stroke="#ff0000" stroke-width="1.3"/>
<rect x="574.45" y="1097.02" width="11.80" height="11.80" fill="#fff" stroke="#ff0000" stroke-width="1.3"/>
<rect x="587.31" y="1095.57" width="11.80" height="11.80" fill="#fff" stroke="#ff0000" stroke-width="1.3"/>
<rect x="600.17" y="1094.00" width="11.80" height="11.80" fill="#fff" stroke="#ff0000" stroke-width="1.3"/>
<rect x="613.03" y="1092.32" width="11.80" height="11.80" fill="#fff" stroke="#ff0000" stroke-width="1.3"/>
<rect x="625.89" y="1090.59" width="11.80" height="11.80" fill="#fff" stroke="#ff0000" stroke-width="1.3"/>
<rect x="638.75" y="1088.91" width="11.80" height="11.80" fill="#fff" stroke="#ff0000" stroke-width="1.3"/>
<rect x="651.61" y="1087.20" width="11.80" height="11.80" fill="#fff" stroke="#ff0000" stroke-width="1.3"/>
<rect x="664.47" y="1085.33" width="11.80" height="11.80" fill="#fff" stroke="#ff0000" stroke-width="1.3"/>
<rect x="677.33" y="1083.45" width="11.80" height="11.80" fill="#fff" stroke="#ff0000" stroke-width="1.3"/>
<rect x="690.18" y="1081.79" width="11.80" height="11.80" fill="#fff" stroke="#ff0000" stroke-width="1.3"/>
<rect x="703.04" y="1080.05" width="11.80" height="11.80" fill="#fff" stroke="#ff0000" stroke-width="1.3"/>
<rect x="715.90" y="1077.91" width="11.80" height="11.80" fill="#fff" stroke="#ff0000" stroke-width="1.3"/>
<rect x="728.76" y="1075.60" width="11.80" height="11.80" fill="#fff" stroke="#ff0000" stroke-width="1.3"/>
<rect x="741.62" y="1073.55" width="11.80" height="11.80" fill="#fff" stroke="#ff0000" stroke-width="1.3"/>
<rect x="754.48" y="1071.20" width="11.80" height="11.80" fill="#fff" stroke="#ff0000" stroke-width="1.3"/>
<rect x="767.34" y="1067.42" width="11.80" height="11.80" fill="#fff" stroke="#ff0000" stroke-width="1.3"/>
<rect x="780.20" y="1062.78" width="11.80" height="11.80" fill="#fff" stroke="#ff0000" stroke-width="1.3"/>
<rect x="793.06" y="1053.79" width="11.80" height="11.80" fill="#fff" stroke="#ff0000" stroke-width="1.3"/>
<rect x="805.92" y="1042.80" width="11.80" height="11.80" fill="#fff" stroke="#ff0000" stroke-width="1.3"/>
<rect x="818.78" y="1029.99" width="11.80" height="11.80" fill="#fff" stroke="#ff0000" stroke-width="1.3"/>
<rect x="831.64" y="1015.33" width="11.80" height="11.80" fill="#fff" stroke="#ff0000" stroke-width="1.3"/>
<rect x="844.50" y="1000.70" width="11.80" height="11.80" fill="#fff" stroke="#ff0000" stroke-width="1.3"/>
<rect x="857.36" y="985.97" width="11.80" height="11.80" fill="#fff" stroke="#ff0000" stroke-width="1.3"/>
<rect x="870.22" y="971.59" width="11.80" height="11.80" fill="#fff" stroke="#ff0000" stroke-width="1.3"/>
<rect x="883.07" y="951.50" width="11.80" height="11.80" fill="#fff" stroke="#ff0000" stroke-width="1.3"/>
<rect x="895.93" y="931.33" width="11.80" height="11.80" fill="#fff" stroke="#ff0000" stroke-width="1.3"/>
<rect x="908.79" y="907.42" width="11.80" height="11.80" fill="#fff" stroke="#ff0000" stroke-width="1.3"/>
<rect x="921.65" y="885.38" width="11.80" height="11.80" fill="#fff" stroke="#ff0000" stroke-width="1.3"/>
<rect x="934.51" y="861.30" width="11.80" height="11.80" fill="#fff" stroke="#ff0000" stroke-width="1.3"/>
<polyline points="111.76,1408.59 124.62,1387.46 137.48,1365.17 150.34,1342.41 163.19,1320.17 176.05,1298.41 188.91,1278.13 201.77,1259.29 214.63,1244.87 227.49,1233.39 240.35,1223.98 253.21,1218.19 266.07,1218.79 278.93,1224.80 291.79,1235.97 304.65,1252.36 317.51,1271.85 330.37,1286.45 343.22,1297.56 356.08,1306.74 368.94,1310.37 381.80,1313.40 394.66,1317.62 407.52,1321.94 420.38,1324.10 433.24,1330.41 446.10,1338.90 458.96,1348.74 471.82,1353.70 484.68,1353.69 497.54,1351.87 510.40,1344.00 523.26,1338.94 536.11,1333.92 548.97,1329.51 561.83,1324.29 574.69,1319.96 587.55,1314.23 600.41,1308.82 613.27,1304.53 626.13,1301.70 638.99,1298.80 651.85,1296.42 664.71,1293.87 677.57,1291.23 690.43,1288.90 703.29,1286.99 716.15,1283.35 729.00,1273.80 741.86,1250.85 754.72,1227.45 767.58,1202.20 780.44,1177.43 793.30,1151.89 806.16,1130.01 819.02,1105.64 831.88,1080.72 844.74,1055.81 857.60,1031.10 870.46,1006.59 883.32,981.66 896.18,957.52 909.04,933.58 921.89,908.67 934.75,883.93" fill="none" stroke="#ff0000" stroke-width="1.2"/>
<rect x="105.36" y="1402.19" width="12.80" height="12.80" fill="#ff0000"/>
<rect x="118.22" y="1381.06" width="12.80" height="12.80" fill="#ff0000"/>
<rect x="131.08" y="1358.77" width="12.80" height="12.80" fill="#ff0000"/>
<rect x="143.94" y="1336.01" width="12.80" height="12.80" fill="#ff0000"/>
<rect x="156.79" y="1313.77" width="12.80" height="12.80" fill="#ff0000"/>
<rect x="169.65" y="1292.01" width="12.80" height="12.80" fill="#ff0000"/>
<rect x="182.51" y="1271.73" width="12.80" height="12.80" fill="#ff0000"/>
<rect x="195.37" y="1252.89" width="12.80" height="12.80" fill="#ff0000"/>
<rect x="208.23" y="1238.47" width="12.80" height="12.80" fill="#ff0000"/>
<rect x="221.09" y="1226.99" width="12.80" height="12.80" fill="#ff0000"/>
<rect x="233.95" y="1217.58" width="12.80" height="12.80" fill="#ff0000"/>
<rect x="246.81" y="1211.79" width="12.80" height="12.80" fill="#ff0000"/>
<rect x="259.67" y="1212.39" width="12.80" height="12.80" fill="#ff0000"/>
<rect x="272.53" y="1218.40" width="12.80" height="12.80" fill="#ff0000"/>
<rect x="285.39" y="1229.57" width="12.80" height="12.80" fill="#ff0000"/>
<rect x="298.25" y="1245.96" width="12.80" height="12.80" fill="#ff0000"/>
<rect x="311.11" y="1265.45" width="12.80" height="12.80" fill="#ff0000"/>
<rect x="323.97" y="1280.05" width="12.80" height="12.80" fill="#ff0000"/>
<rect x="336.82" y="1291.16" width="12.80" height="12.80" fill="#ff0000"/>
<rect x="349.68" y="1300.34" width="12.80" height="12.80" fill="#ff0000"/>
<rect x="362.54" y="1303.97" width="12.80" height="12.80" fill="#ff0000"/>
<rect x="375.40" y="1307.00" width="12.80" height="12.80" fill="#ff0000"/>
<rect x="388.26" y="1311.22" width="12.80" height="12.80" fill="#ff0000"/>
<rect x="401.12" y="1315.54" width="12.80" height="12.80" fill="#ff0000"/>
<rect x="413.98" y="1317.70" width="12.80" height="12.80" fill="#ff0000"/>
<rect x="426.84" y="1324.01" width="12.80" height="12.80" fill="#ff0000"/>
<rect x="439.70" y="1332.50" width="12.80" height="12.80" fill="#ff0000"/>
<rect x="452.56" y="1342.34" width="12.80" height="12.80" fill="#ff0000"/>
<rect x="465.42" y="1347.30" width="12.80" height="12.80" fill="#ff0000"/>
<rect x="478.28" y="1347.29" width="12.80" height="12.80" fill="#ff0000"/>
<rect x="491.14" y="1345.47" width="12.80" height="12.80" fill="#ff0000"/>
<rect x="504.00" y="1337.60" width="12.80" height="12.80" fill="#ff0000"/>
<rect x="516.86" y="1332.54" width="12.80" height="12.80" fill="#ff0000"/>
<rect x="529.71" y="1327.52" width="12.80" height="12.80" fill="#ff0000"/>
<rect x="542.57" y="1323.11" width="12.80" height="12.80" fill="#ff0000"/>
<rect x="555.43" y="1317.89" width="12.80" height="12.80" fill="#ff0000"/>
<rect x="568.29" y="1313.56" width="12.80" height="12.80" fill="#ff0000"/>
<rect x="581.15" y="1307.83" width="12.80" height="12.80" fill="#ff0000"/>
<rect x="594.01" y="1302.42" width="12.80" height="12.80" fill="#ff0000"/>
<rect x="606.87" y="1298.13" width="12.80" height="12.80" fill="#ff0000"/>
<rect x="619.73" y="1295.30" width="12.80" height="12.80" fill="#ff0000"/>
<rect x="632.59" y="1292.40" width="12.80" height="12.80" fill="#ff0000"/>
<rect x="645.45" y="1290.02" width="12.80" height="12.80" fill="#ff0000"/>
<rect x="658.31" y="1287.47" width="12.80" height="12.80" fill="#ff0000"/>
<rect x="671.17" y="1284.83" width="12.80" height="12.80" fill="#ff0000"/>
<rect x="684.03" y="1282.50" width="12.80" height="12.80" fill="#ff0000"/>
<rect x="696.89" y="1280.59" width="12.80" height="12.80" fill="#ff0000"/>
<rect x="709.75" y="1276.95" width="12.80" height="12.80" fill="#ff0000"/>
<rect x="722.60" y="1267.40" width="12.80" height="12.80" fill="#ff0000"/>
<rect x="735.46" y="1244.45" width="12.80" height="12.80" fill="#ff0000"/>
<rect x="748.32" y="1221.05" width="12.80" height="12.80" fill="#ff0000"/>
<rect x="761.18" y="1195.80" width="12.80" height="12.80" fill="#ff0000"/>
<rect x="774.04" y="1171.03" width="12.80" height="12.80" fill="#ff0000"/>
<rect x="786.90" y="1145.49" width="12.80" height="12.80" fill="#ff0000"/>
<rect x="799.76" y="1123.61" width="12.80" height="12.80" fill="#ff0000"/>
<rect x="812.62" y="1099.24" width="12.80" height="12.80" fill="#ff0000"/>
<rect x="825.48" y="1074.32" width="12.80" height="12.80" fill="#ff0000"/>
<rect x="838.34" y="1049.41" width="12.80" height="12.80" fill="#ff0000"/>
<rect x="851.20" y="1024.70" width="12.80" height="12.80" fill="#ff0000"/>
<rect x="864.06" y="1000.19" width="12.80" height="12.80" fill="#ff0000"/>
<rect x="876.92" y="975.26" width="12.80" height="12.80" fill="#ff0000"/>
<rect x="889.78" y="951.12" width="12.80" height="12.80" fill="#ff0000"/>
<rect x="902.64" y="927.18" width="12.80" height="12.80" fill="#ff0000"/>
<rect x="915.49" y="902.27" width="12.80" height="12.80" fill="#ff0000"/>
<rect x="928.35" y="877.53" width="12.80" height="12.80" fill="#ff0000"/>
<path d="M117.42,1390.03L125.32,1402.93L109.52,1402.93Z" fill="#fff" stroke="#008080" stroke-width="1.3" stroke-linejoin="miter"/>
<path d="M130.27,1366.03L138.17,1378.93L122.37,1378.93Z" fill="#fff" stroke="#008080" stroke-width="1.3" stroke-linejoin="miter"/>
<path d="M143.13,1342.67L151.03,1355.57L135.23,1355.57Z" fill="#fff" stroke="#008080" stroke-width="1.3" stroke-linejoin="miter"/>
<path d="M155.99,1316.59L163.89,1329.49L148.09,1329.49Z" fill="#fff" stroke="#008080" stroke-width="1.3" stroke-linejoin="miter"/>
<path d="M168.85,1294.26L176.75,1307.16L160.95,1307.16Z" fill="#fff" stroke="#008080" stroke-width="1.3" stroke-linejoin="miter"/>
<path d="M181.71,1271.96L189.61,1284.86L173.81,1284.86Z" fill="#fff" stroke="#008080" stroke-width="1.3" stroke-linejoin="miter"/>
<path d="M194.57,1248.19L202.47,1261.09L186.67,1261.09Z" fill="#fff" stroke="#008080" stroke-width="1.3" stroke-linejoin="miter"/>
<path d="M207.43,1226.64L215.33,1239.54L199.53,1239.54Z" fill="#fff" stroke="#008080" stroke-width="1.3" stroke-linejoin="miter"/>
<path d="M220.29,1205.13L228.19,1218.03L212.39,1218.03Z" fill="#fff" stroke="#008080" stroke-width="1.3" stroke-linejoin="miter"/>
<path d="M233.15,1185.89L241.05,1198.79L225.25,1198.79Z" fill="#fff" stroke="#008080" stroke-width="1.3" stroke-linejoin="miter"/>
<path d="M246.01,1166.80L253.91,1179.70L238.11,1179.70Z" fill="#fff" stroke="#008080" stroke-width="1.3" stroke-linejoin="miter"/>
<path d="M258.87,1149.83L266.77,1162.73L250.97,1162.73Z" fill="#fff" stroke="#008080" stroke-width="1.3" stroke-linejoin="miter"/>
<path d="M271.73,1135.06L279.63,1147.96L263.83,1147.96Z" fill="#fff" stroke="#008080" stroke-width="1.3" stroke-linejoin="miter"/>
<path d="M284.59,1123.38L292.49,1136.28L276.69,1136.28Z" fill="#fff" stroke="#008080" stroke-width="1.3" stroke-linejoin="miter"/>
<path d="M297.45,1114.71L305.35,1127.61L289.55,1127.61Z" fill="#fff" stroke="#008080" stroke-width="1.3" stroke-linejoin="miter"/>
<path d="M310.31,1107.78L318.21,1120.68L302.41,1120.68Z" fill="#fff" stroke="#008080" stroke-width="1.3" stroke-linejoin="miter"/>
<path d="M323.16,1102.18L331.06,1115.08L315.26,1115.08Z" fill="#fff" stroke="#008080" stroke-width="1.3" stroke-linejoin="miter"/>
<path d="M336.02,1097.89L343.92,1110.79L328.12,1110.79Z" fill="#fff" stroke="#008080" stroke-width="1.3" stroke-linejoin="miter"/>
<path d="M348.88,1093.47L356.78,1106.37L340.98,1106.37Z" fill="#fff" stroke="#008080" stroke-width="1.3" stroke-linejoin="miter"/>
<path d="M361.74,1091.31L369.64,1104.21L353.84,1104.21Z" fill="#fff" stroke="#008080" stroke-width="1.3" stroke-linejoin="miter"/>
<path d="M374.60,1089.18L382.50,1102.08L366.70,1102.08Z" fill="#fff" stroke="#008080" stroke-width="1.3" stroke-linejoin="miter"/>
<path d="M387.46,1087.17L395.36,1100.07L379.56,1100.07Z" fill="#fff" stroke="#008080" stroke-width="1.3" stroke-linejoin="miter"/>
<path d="M400.32,1085.43L408.22,1098.33L392.42,1098.33Z" fill="#fff" stroke="#008080" stroke-width="1.3" stroke-linejoin="miter"/>
<path d="M413.18,1084.07L421.08,1096.97L405.28,1096.97Z" fill="#fff" stroke="#008080" stroke-width="1.3" stroke-linejoin="miter"/>
<path d="M426.04,1083.03L433.94,1095.93L418.14,1095.93Z" fill="#fff" stroke="#008080" stroke-width="1.3" stroke-linejoin="miter"/>
<path d="M438.90,1082.30L446.80,1095.20L431.00,1095.20Z" fill="#fff" stroke="#008080" stroke-width="1.3" stroke-linejoin="miter"/>
<path d="M451.76,1081.74L459.66,1094.64L443.86,1094.64Z" fill="#fff" stroke="#008080" stroke-width="1.3" stroke-linejoin="miter"/>
<path d="M464.62,1081.36L472.52,1094.26L456.72,1094.26Z" fill="#fff" stroke="#008080" stroke-width="1.3" stroke-linejoin="miter"/>
<path d="M477.48,1080.91L485.38,1093.81L469.58,1093.81Z" fill="#fff" stroke="#008080" stroke-width="1.3" stroke-linejoin="miter"/>
<path d="M490.34,1080.18L498.24,1093.08L482.44,1093.08Z" fill="#fff" stroke="#008080" stroke-width="1.3" stroke-linejoin="miter"/>
<path d="M503.19,1079.34L511.09,1092.24L495.29,1092.24Z" fill="#fff" stroke="#008080" stroke-width="1.3" stroke-linejoin="miter"/>
<path d="M516.05,1078.46L523.95,1091.36L508.15,1091.36Z" fill="#fff" stroke="#008080" stroke-width="1.3" stroke-linejoin="miter"/>
<path d="M528.91,1077.52L536.81,1090.42L521.01,1090.42Z" fill="#fff" stroke="#008080" stroke-width="1.3" stroke-linejoin="miter"/>
<path d="M541.77,1076.58L549.67,1089.48L533.87,1089.48Z" fill="#fff" stroke="#008080" stroke-width="1.3" stroke-linejoin="miter"/>
<path d="M554.63,1075.69L562.53,1088.59L546.73,1088.59Z" fill="#fff" stroke="#008080" stroke-width="1.3" stroke-linejoin="miter"/>
<path d="M567.49,1074.88L575.39,1087.78L559.59,1087.78Z" fill="#fff" stroke="#008080" stroke-width="1.3" stroke-linejoin="miter"/>
<path d="M580.35,1073.97L588.25,1086.87L572.45,1086.87Z" fill="#fff" stroke="#008080" stroke-width="1.3" stroke-linejoin="miter"/>
<path d="M593.21,1072.86L601.11,1085.76L585.31,1085.76Z" fill="#fff" stroke="#008080" stroke-width="1.3" stroke-linejoin="miter"/>
<path d="M606.07,1071.52L613.97,1084.42L598.17,1084.42Z" fill="#fff" stroke="#008080" stroke-width="1.3" stroke-linejoin="miter"/>
<path d="M618.93,1069.66L626.83,1082.56L611.03,1082.56Z" fill="#fff" stroke="#008080" stroke-width="1.3" stroke-linejoin="miter"/>
<path d="M631.79,1067.79L639.69,1080.69L623.89,1080.69Z" fill="#fff" stroke="#008080" stroke-width="1.3" stroke-linejoin="miter"/>
<path d="M644.65,1066.59L652.55,1079.49L636.75,1079.49Z" fill="#fff" stroke="#008080" stroke-width="1.3" stroke-linejoin="miter"/>
<path d="M657.51,1065.47L665.41,1078.37L649.61,1078.37Z" fill="#fff" stroke="#008080" stroke-width="1.3" stroke-linejoin="miter"/>
<path d="M670.37,1064.00L678.27,1076.90L662.47,1076.90Z" fill="#fff" stroke="#008080" stroke-width="1.3" stroke-linejoin="miter"/>
<path d="M683.23,1062.46L691.13,1075.36L675.33,1075.36Z" fill="#fff" stroke="#008080" stroke-width="1.3" stroke-linejoin="miter"/>
<path d="M696.08,1061.07L703.98,1073.97L688.18,1073.97Z" fill="#fff" stroke="#008080" stroke-width="1.3" stroke-linejoin="miter"/>
<path d="M708.94,1059.74L716.84,1072.64L701.04,1072.64Z" fill="#fff" stroke="#008080" stroke-width="1.3" stroke-linejoin="miter"/>
<path d="M721.80,1058.52L729.70,1071.42L713.90,1071.42Z" fill="#fff" stroke="#008080" stroke-width="1.3" stroke-linejoin="miter"/>
<path d="M734.66,1057.23L742.56,1070.13L726.76,1070.13Z" fill="#fff" stroke="#008080" stroke-width="1.3" stroke-linejoin="miter"/>
<path d="M747.52,1055.72L755.42,1068.62L739.62,1068.62Z" fill="#fff" stroke="#008080" stroke-width="1.3" stroke-linejoin="miter"/>
<path d="M760.38,1053.70L768.28,1066.60L752.48,1066.60Z" fill="#fff" stroke="#008080" stroke-width="1.3" stroke-linejoin="miter"/>
<path d="M773.24,1050.09L781.14,1062.99L765.34,1062.99Z" fill="#fff" stroke="#008080" stroke-width="1.3" stroke-linejoin="miter"/>
<path d="M786.10,1046.97L794.00,1059.87L778.20,1059.87Z" fill="#fff" stroke="#008080" stroke-width="1.3" stroke-linejoin="miter"/>
<path d="M798.96,1039.75L806.86,1052.65L791.06,1052.65Z" fill="#fff" stroke="#008080" stroke-width="1.3" stroke-linejoin="miter"/>
<path d="M811.82,1030.64L819.72,1043.54L803.92,1043.54Z" fill="#fff" stroke="#008080" stroke-width="1.3" stroke-linejoin="miter"/>
<path d="M824.68,1021.41L832.58,1034.31L816.78,1034.31Z" fill="#fff" stroke="#008080" stroke-width="1.3" stroke-linejoin="miter"/>
<path d="M837.54,1010.90L845.44,1023.80L829.64,1023.80Z" fill="#fff" stroke="#008080" stroke-width="1.3" stroke-linejoin="miter"/>
<path d="M850.40,997.30L858.30,1010.20L842.50,1010.20Z" fill="#fff" stroke="#008080" stroke-width="1.3" stroke-linejoin="miter"/>
<path d="M863.26,982.54L871.16,995.44L855.36,995.44Z" fill="#fff" stroke="#008080" stroke-width="1.3" stroke-linejoin="miter"/>
<path d="M876.12,966.51L884.02,979.41L868.22,979.41Z" fill="#fff" stroke="#008080" stroke-width="1.3" stroke-linejoin="miter"/>
<path d="M888.97,948.09L896.87,960.99L881.07,960.99Z" fill="#fff" stroke="#008080" stroke-width="1.3" stroke-linejoin="miter"/>
<path d="M901.83,927.97L909.73,940.87L893.93,940.87Z" fill="#fff" stroke="#008080" stroke-width="1.3" stroke-linejoin="miter"/>
<path d="M914.69,907.27L922.59,920.17L906.79,920.17Z" fill="#fff" stroke="#008080" stroke-width="1.3" stroke-linejoin="miter"/>
<path d="M927.55,879.97L935.45,892.87L919.65,892.87Z" fill="#fff" stroke="#008080" stroke-width="1.3" stroke-linejoin="miter"/>
<path d="M940.41,855.78L948.31,868.68L932.51,868.68Z" fill="#fff" stroke="#008080" stroke-width="1.3" stroke-linejoin="miter"/>
<polyline points="111.76,1408.65 124.62,1390.17 137.48,1369.89 150.34,1344.98 163.19,1320.65 176.05,1297.38 188.91,1275.05 201.77,1255.13 214.63,1234.93 227.49,1218.97 240.35,1206.73 253.21,1196.55 266.07,1190.56 278.93,1190.94 291.79,1198.06 304.65,1208.74 317.51,1227.40 330.37,1245.61 343.22,1263.34 356.08,1274.82 368.94,1281.44 381.80,1287.79 394.66,1296.18 407.52,1306.71 420.38,1323.64 433.24,1340.90 446.10,1355.80 458.96,1364.56 471.82,1366.30 484.68,1362.24 497.54,1355.72 510.40,1349.99 523.26,1342.83 536.11,1338.48 548.97,1331.01 561.83,1324.98 574.69,1321.77 587.55,1317.41 600.41,1313.32 613.27,1309.03 626.13,1306.20 638.99,1303.30 651.85,1300.92 664.71,1298.37 677.57,1295.73 690.43,1293.40 703.29,1291.00 716.15,1285.42 729.00,1273.95 741.86,1250.85 754.72,1227.45 767.58,1202.20 780.44,1177.43 793.30,1151.89 806.16,1130.01 819.02,1105.64 831.88,1080.72 844.74,1055.81 857.60,1031.10 870.46,1006.59 883.32,981.66 896.18,957.52 909.04,933.58 921.89,908.67 934.75,883.93" fill="none" stroke="#008080" stroke-width="1.2"/>
<path d="M111.76,1398.75L120.56,1413.65L102.96,1413.65Z" fill="#008080"/>
<path d="M124.62,1380.27L133.42,1395.17L115.82,1395.17Z" fill="#008080"/>
<path d="M137.48,1359.99L146.28,1374.89L128.68,1374.89Z" fill="#008080"/>
<path d="M150.34,1335.08L159.14,1349.98L141.54,1349.98Z" fill="#008080"/>
<path d="M163.19,1310.75L171.99,1325.65L154.39,1325.65Z" fill="#008080"/>
<path d="M176.05,1287.48L184.85,1302.38L167.25,1302.38Z" fill="#008080"/>
<path d="M188.91,1265.15L197.71,1280.05L180.11,1280.05Z" fill="#008080"/>
<path d="M201.77,1245.23L210.57,1260.13L192.97,1260.13Z" fill="#008080"/>
<path d="M214.63,1225.03L223.43,1239.93L205.83,1239.93Z" fill="#008080"/>
<path d="M227.49,1209.07L236.29,1223.97L218.69,1223.97Z" fill="#008080"/>
<path d="M240.35,1196.83L249.15,1211.73L231.55,1211.73Z" fill="#008080"/>
<path d="M253.21,1186.65L262.01,1201.55L244.41,1201.55Z" fill="#008080"/>
<path d="M266.07,1180.66L274.87,1195.56L257.27,1195.56Z" fill="#008080"/>
<path d="M278.93,1181.04L287.73,1195.94L270.13,1195.94Z" fill="#008080"/>
<path d="M291.79,1188.16L300.59,1203.06L282.99,1203.06Z" fill="#008080"/>
<path d="M304.65,1198.84L313.45,1213.74L295.85,1213.74Z" fill="#008080"/>
<path d="M317.51,1217.50L326.31,1232.40L308.71,1232.40Z" fill="#008080"/>
<path d="M330.37,1235.71L339.17,1250.61L321.57,1250.61Z" fill="#008080"/>
<path d="M343.22,1253.44L352.02,1268.34L334.42,1268.34Z" fill="#008080"/>
<path d="M356.08,1264.92L364.88,1279.82L347.28,1279.82Z" fill="#008080"/>
<path d="M368.94,1271.54L377.74,1286.44L360.14,1286.44Z" fill="#008080"/>
<path d="M381.80,1277.89L390.60,1292.79L373.00,1292.79Z" fill="#008080"/>
<path d="M394.66,1286.28L403.46,1301.18L385.86,1301.18Z" fill="#008080"/>
<path d="M407.52,1296.81L416.32,1311.71L398.72,1311.71Z" fill="#008080"/>
<path d="M420.38,1313.74L429.18,1328.64L411.58,1328.64Z" fill="#008080"/>
<path d="M433.24,1331.00L442.04,1345.90L424.44,1345.90Z" fill="#008080"/>
<path d="M446.10,1345.90L454.90,1360.80L437.30,1360.80Z" fill="#008080"/>
<path d="M458.96,1354.66L467.76,1369.56L450.16,1369.56Z" fill="#008080"/>
<path d="M471.82,1356.40L480.62,1371.30L463.02,1371.30Z" fill="#008080"/>
<path d="M484.68,1352.34L493.48,1367.24L475.88,1367.24Z" fill="#008080"/>
<path d="M497.54,1345.82L506.34,1360.72L488.74,1360.72Z" fill="#008080"/>
<path d="M510.40,1340.09L519.20,1354.99L501.60,1354.99Z" fill="#008080"/>
<path d="M523.26,1332.93L532.06,1347.83L514.46,1347.83Z" fill="#008080"/>
<path d="M536.11,1328.58L544.91,1343.48L527.31,1343.48Z" fill="#008080"/>
<path d="M548.97,1321.11L557.77,1336.01L540.17,1336.01Z" fill="#008080"/>
<path d="M561.83,1315.08L570.63,1329.98L553.03,1329.98Z" fill="#008080"/>
<path d="M574.69,1311.87L583.49,1326.77L565.89,1326.77Z" fill="#008080"/>
<path d="M587.55,1307.51L596.35,1322.41L578.75,1322.41Z" fill="#008080"/>
<path d="M600.41,1303.42L609.21,1318.32L591.61,1318.32Z" fill="#008080"/>
<path d="M613.27,1299.13L622.07,1314.03L604.47,1314.03Z" fill="#008080"/>
<path d="M626.13,1296.30L634.93,1311.20L617.33,1311.20Z" fill="#008080"/>
<path d="M638.99,1293.40L647.79,1308.30L630.19,1308.30Z" fill="#008080"/>
<path d="M651.85,1291.02L660.65,1305.92L643.05,1305.92Z" fill="#008080"/>
<path d="M664.71,1288.47L673.51,1303.37L655.91,1303.37Z" fill="#008080"/>
<path d="M677.57,1285.83L686.37,1300.73L668.77,1300.73Z" fill="#008080"/>
<path d="M690.43,1283.50L699.23,1298.40L681.63,1298.40Z" fill="#008080"/>
<path d="M703.29,1281.10L712.09,1296.00L694.49,1296.00Z" fill="#008080"/>
<path d="M716.15,1275.52L724.95,1290.42L707.35,1290.42Z" fill="#008080"/>
<path d="M729.00,1264.05L737.80,1278.95L720.20,1278.95Z" fill="#008080"/>
<path d="M741.86,1240.95L750.66,1255.85L733.06,1255.85Z" fill="#008080"/>
<path d="M754.72,1217.55L763.52,1232.45L745.92,1232.45Z" fill="#008080"/>
<path d="M767.58,1192.30L776.38,1207.20L758.78,1207.20Z" fill="#008080"/>
<path d="M780.44,1167.53L789.24,1182.43L771.64,1182.43Z" fill="#008080"/>
<path d="M793.30,1141.99L802.10,1156.89L784.50,1156.89Z" fill="#008080"/>
<path d="M806.16,1120.11L814.96,1135.01L797.36,1135.01Z" fill="#008080"/>
<path d="M819.02,1095.74L827.82,1110.64L810.22,1110.64Z" fill="#008080"/>
<path d="M831.88,1070.82L840.68,1085.72L823.08,1085.72Z" fill="#008080"/>
<path d="M844.74,1045.91L853.54,1060.81L835.94,1060.81Z" fill="#008080"/>
<path d="M857.60,1021.20L866.40,1036.10L848.80,1036.10Z" fill="#008080"/>
<path d="M870.46,996.69L879.26,1011.59L861.66,1011.59Z" fill="#008080"/>
<path d="M883.32,971.76L892.12,986.66L874.52,986.66Z" fill="#008080"/>
<path d="M896.18,947.62L904.98,962.52L887.38,962.52Z" fill="#008080"/>
<path d="M909.04,923.68L917.84,938.58L900.24,938.58Z" fill="#008080"/>
<path d="M921.89,898.77L930.69,913.67L913.09,913.67Z" fill="#008080"/>
<path d="M934.75,874.03L943.55,888.93L925.95,888.93Z" fill="#008080"/>
<path d="M117.42,1391.25L119.43,1396.08L124.64,1396.50L120.67,1399.90L121.88,1405.00L117.42,1402.27L112.95,1405.00L114.16,1399.90L110.19,1396.50L115.41,1396.08Z" fill="#fff" stroke="#0000ff" stroke-width="1.2" stroke-linejoin="miter"/>
<path d="M130.27,1364.07L132.28,1368.90L137.50,1369.32L133.53,1372.73L134.74,1377.82L130.27,1375.09L125.81,1377.82L127.02,1372.73L123.05,1369.32L128.26,1368.90Z" fill="#fff" stroke="#0000ff" stroke-width="1.2" stroke-linejoin="miter"/>
<path d="M143.13,1342.49L145.14,1347.32L150.36,1347.74L146.39,1351.15L147.60,1356.24L143.13,1353.51L138.67,1356.24L139.88,1351.15L135.91,1347.74L141.12,1347.32Z" fill="#fff" stroke="#0000ff" stroke-width="1.2" stroke-linejoin="miter"/>
<path d="M155.99,1319.33L158.00,1324.16L163.22,1324.58L159.25,1327.99L160.46,1333.08L155.99,1330.35L151.53,1333.08L152.74,1327.99L148.77,1324.58L153.98,1324.16Z" fill="#fff" stroke="#0000ff" stroke-width="1.2" stroke-linejoin="miter"/>
<path d="M168.85,1297.21L170.86,1302.04L176.08,1302.46L172.11,1305.87L173.32,1310.96L168.85,1308.23L164.39,1310.96L165.60,1305.87L161.62,1302.46L166.84,1302.04Z" fill="#fff" stroke="#0000ff" stroke-width="1.2" stroke-linejoin="miter"/>
<path d="M181.71,1276.21L183.72,1281.04L188.94,1281.46L184.96,1284.87L186.18,1289.96L181.71,1287.23L177.24,1289.96L178.46,1284.87L174.48,1281.46L179.70,1281.04Z" fill="#fff" stroke="#0000ff" stroke-width="1.2" stroke-linejoin="miter"/>
<path d="M194.57,1253.27L196.58,1258.10L201.80,1258.52L197.82,1261.92L199.04,1267.02L194.57,1264.29L190.10,1267.02L191.32,1261.92L187.34,1258.52L192.56,1258.10Z" fill="#fff" stroke="#0000ff" stroke-width="1.2" stroke-linejoin="miter"/>
<path d="M207.43,1234.70L209.44,1239.53L214.66,1239.95L210.68,1243.35L211.90,1248.44L207.43,1245.72L202.96,1248.44L204.18,1243.35L200.20,1239.95L205.42,1239.53Z" fill="#fff" stroke="#0000ff" stroke-width="1.2" stroke-linejoin="miter"/>
<path d="M220.29,1215.38L222.30,1220.22L227.52,1220.63L223.54,1224.04L224.76,1229.13L220.29,1226.40L215.82,1229.13L217.04,1224.04L213.06,1220.63L218.28,1220.22Z" fill="#fff" stroke="#0000ff" stroke-width="1.2" stroke-linejoin="miter"/>
<path d="M233.15,1199.00L235.16,1203.84L240.38,1204.25L236.40,1207.66L237.62,1212.75L233.15,1210.02L228.68,1212.75L229.90,1207.66L225.92,1204.25L231.14,1203.84Z" fill="#fff" stroke="#0000ff" stroke-width="1.2" stroke-linejoin="miter"/>
<path d="M246.01,1184.09L248.02,1188.92L253.24,1189.34L249.26,1192.75L250.48,1197.84L246.01,1195.11L241.54,1197.84L242.76,1192.75L238.78,1189.34L244.00,1188.92Z" fill="#fff" stroke="#0000ff" stroke-width="1.2" stroke-linejoin="miter"/>
<path d="M258.87,1173.92L260.88,1178.76L266.10,1179.18L262.12,1182.58L263.33,1187.67L258.87,1184.94L254.40,1187.67L255.62,1182.58L251.64,1179.18L256.86,1178.76Z" fill="#fff" stroke="#0000ff" stroke-width="1.2" stroke-linejoin="miter"/>
<path d="M271.73,1165.41L273.74,1170.25L278.96,1170.66L274.98,1174.07L276.19,1179.16L271.73,1176.43L267.26,1179.16L268.47,1174.07L264.50,1170.66L269.72,1170.25Z" fill="#fff" stroke="#0000ff" stroke-width="1.2" stroke-linejoin="miter"/>
<path d="M284.59,1157.55L286.60,1162.38L291.81,1162.80L287.84,1166.21L289.05,1171.30L284.59,1168.57L280.12,1171.30L281.33,1166.21L277.36,1162.80L282.58,1162.38Z" fill="#fff" stroke="#0000ff" stroke-width="1.2" stroke-linejoin="miter"/>
<path d="M297.45,1151.21L299.46,1156.04L304.67,1156.46L300.70,1159.87L301.91,1164.96L297.45,1162.23L292.98,1164.96L294.19,1159.87L290.22,1156.46L295.44,1156.04Z" fill="#fff" stroke="#0000ff" stroke-width="1.2" stroke-linejoin="miter"/>
<path d="M310.31,1146.81L312.32,1151.64L317.53,1152.06L313.56,1155.47L314.77,1160.56L310.31,1157.83L305.84,1160.56L307.05,1155.47L303.08,1152.06L308.29,1151.64Z" fill="#fff" stroke="#0000ff" stroke-width="1.2" stroke-linejoin="miter"/>
<path d="M323.16,1142.48L325.17,1147.31L330.39,1147.73L326.42,1151.14L327.63,1156.23L323.16,1153.50L318.70,1156.23L319.91,1151.14L315.94,1147.73L321.15,1147.31Z" fill="#fff" stroke="#0000ff" stroke-width="1.2" stroke-linejoin="miter"/>
<path d="M336.02,1139.46L338.03,1144.29L343.25,1144.71L339.28,1148.12L340.49,1153.21L336.02,1150.48L331.56,1153.21L332.77,1148.12L328.80,1144.71L334.01,1144.29Z" fill="#fff" stroke="#0000ff" stroke-width="1.2" stroke-linejoin="miter"/>
<path d="M348.88,1136.46L350.89,1141.29L356.11,1141.71L352.14,1145.11L353.35,1150.21L348.88,1147.48L344.42,1150.21L345.63,1145.11L341.66,1141.71L346.87,1141.29Z" fill="#fff" stroke="#0000ff" stroke-width="1.2" stroke-linejoin="miter"/>
<path d="M361.74,1134.10L363.75,1138.93L368.97,1139.35L364.99,1142.76L366.21,1147.85L361.74,1145.12L357.28,1147.85L358.49,1142.76L354.51,1139.35L359.73,1138.93Z" fill="#fff" stroke="#0000ff" stroke-width="1.2" stroke-linejoin="miter"/>
<path d="M374.60,1132.23L376.61,1137.06L381.83,1137.48L377.85,1140.89L379.07,1145.98L374.60,1143.25L370.13,1145.98L371.35,1140.89L367.37,1137.48L372.59,1137.06Z" fill="#fff" stroke="#0000ff" stroke-width="1.2" stroke-linejoin="miter"/>
<path d="M387.46,1130.08L389.47,1134.92L394.69,1135.34L390.71,1138.74L391.93,1143.83L387.46,1141.10L382.99,1143.83L384.21,1138.74L380.23,1135.34L385.45,1134.92Z" fill="#fff" stroke="#0000ff" stroke-width="1.2" stroke-linejoin="miter"/>
<path d="M400.32,1128.65L402.33,1133.49L407.55,1133.91L403.57,1137.31L404.79,1142.40L400.32,1139.67L395.85,1142.40L397.07,1137.31L393.09,1133.91L398.31,1133.49Z" fill="#fff" stroke="#0000ff" stroke-width="1.2" stroke-linejoin="miter"/>
<path d="M413.18,1127.30L415.19,1132.13L420.41,1132.55L416.43,1135.96L417.65,1141.05L413.18,1138.32L408.71,1141.05L409.93,1135.96L405.95,1132.55L411.17,1132.13Z" fill="#fff" stroke="#0000ff" stroke-width="1.2" stroke-linejoin="miter"/>
<path d="M426.04,1125.31L428.05,1130.15L433.27,1130.56L429.29,1133.97L430.51,1139.06L426.04,1136.33L421.57,1139.06L422.79,1133.97L418.81,1130.56L424.03,1130.15Z" fill="#fff" stroke="#0000ff" stroke-width="1.2" stroke-linejoin="miter"/>
<path d="M438.90,1123.77L440.91,1128.60L446.13,1129.02L442.15,1132.42L443.37,1137.52L438.90,1134.79L434.43,1137.52L435.65,1132.42L431.67,1129.02L436.89,1128.60Z" fill="#fff" stroke="#0000ff" stroke-width="1.2" stroke-linejoin="miter"/>
<path d="M451.76,1122.65L453.77,1127.48L458.99,1127.90L455.01,1131.30L456.22,1136.40L451.76,1133.67L447.29,1136.40L448.51,1131.30L444.53,1127.90L449.75,1127.48Z" fill="#fff" stroke="#0000ff" stroke-width="1.2" stroke-linejoin="miter"/>
<path d="M464.62,1121.31L466.63,1126.14L471.84,1126.56L467.87,1129.97L469.08,1135.06L464.62,1132.33L460.15,1135.06L461.36,1129.97L457.39,1126.56L462.61,1126.14Z" fill="#fff" stroke="#0000ff" stroke-width="1.2" stroke-linejoin="miter"/>
<path d="M477.48,1119.71L479.49,1124.54L484.70,1124.96L480.73,1128.36L481.94,1133.45L477.48,1130.73L473.01,1133.45L474.22,1128.36L470.25,1124.96L475.47,1124.54Z" fill="#fff" stroke="#0000ff" stroke-width="1.2" stroke-linejoin="miter"/>
<path d="M490.34,1117.97L492.35,1122.81L497.56,1123.22L493.59,1126.63L494.80,1131.72L490.34,1128.99L485.87,1131.72L487.08,1126.63L483.11,1123.22L488.33,1122.81Z" fill="#fff" stroke="#0000ff" stroke-width="1.2" stroke-linejoin="miter"/>
<path d="M503.19,1116.68L505.21,1121.51L510.42,1121.93L506.45,1125.34L507.66,1130.43L503.19,1127.70L498.73,1130.43L499.94,1125.34L495.97,1121.93L501.18,1121.51Z" fill="#fff" stroke="#0000ff" stroke-width="1.2" stroke-linejoin="miter"/>
<path d="M516.05,1116.11L518.06,1120.94L523.28,1121.36L519.31,1124.77L520.52,1129.86L516.05,1127.13L511.59,1129.86L512.80,1124.77L508.83,1121.36L514.04,1120.94Z" fill="#fff" stroke="#0000ff" stroke-width="1.2" stroke-linejoin="miter"/>
<path d="M528.91,1115.69L530.92,1120.52L536.14,1120.94L532.17,1124.35L533.38,1129.44L528.91,1126.71L524.45,1129.44L525.66,1124.35L521.69,1120.94L526.90,1120.52Z" fill="#fff" stroke="#0000ff" stroke-width="1.2" stroke-linejoin="miter"/>
<path d="M541.77,1115.09L543.78,1119.93L549.00,1120.34L545.03,1123.75L546.24,1128.84L541.77,1126.11L537.31,1128.84L538.52,1123.75L534.54,1120.34L539.76,1119.93Z" fill="#fff" stroke="#0000ff" stroke-width="1.2" stroke-linejoin="miter"/>
<path d="M554.63,1114.19L556.64,1119.02L561.86,1119.44L557.88,1122.85L559.10,1127.94L554.63,1125.21L550.17,1127.94L551.38,1122.85L547.40,1119.44L552.62,1119.02Z" fill="#fff" stroke="#0000ff" stroke-width="1.2" stroke-linejoin="miter"/>
<path d="M567.49,1112.99L569.50,1117.82L574.72,1118.24L570.74,1121.64L571.96,1126.74L567.49,1124.01L563.02,1126.74L564.24,1121.64L560.26,1118.24L565.48,1117.82Z" fill="#fff" stroke="#0000ff" stroke-width="1.2" stroke-linejoin="miter"/>
<path d="M580.35,1111.33L582.36,1116.16L587.58,1116.58L583.60,1119.99L584.82,1125.08L580.35,1122.35L575.88,1125.08L577.10,1119.99L573.12,1116.58L578.34,1116.16Z" fill="#fff" stroke="#0000ff" stroke-width="1.2" stroke-linejoin="miter"/>
<path d="M593.21,1108.70L595.22,1113.53L600.44,1113.95L596.46,1117.36L597.68,1122.45L593.21,1119.72L588.74,1122.45L589.96,1117.36L585.98,1113.95L591.20,1113.53Z" fill="#fff" stroke="#0000ff" stroke-width="1.2" stroke-linejoin="miter"/>
<path d="M606.07,1105.93L608.08,1110.77L613.30,1111.19L609.32,1114.59L610.54,1119.68L606.07,1116.95L601.60,1119.68L602.82,1114.59L598.84,1111.19L604.06,1110.77Z" fill="#fff" stroke="#0000ff" stroke-width="1.2" stroke-linejoin="miter"/>
<path d="M618.93,1103.56L620.94,1108.39L626.16,1108.81L622.18,1112.22L623.40,1117.31L618.93,1114.58L614.46,1117.31L615.68,1112.22L611.70,1108.81L616.92,1108.39Z" fill="#fff" stroke="#0000ff" stroke-width="1.2" stroke-linejoin="miter"/>
<path d="M631.79,1101.41L633.80,1106.24L639.02,1106.66L635.04,1110.06L636.26,1115.16L631.79,1112.43L627.32,1115.16L628.54,1110.06L624.56,1106.66L629.78,1106.24Z" fill="#fff" stroke="#0000ff" stroke-width="1.2" stroke-linejoin="miter"/>
<path d="M644.65,1099.65L646.66,1104.48L651.88,1104.90L647.90,1108.31L649.11,1113.40L644.65,1110.67L640.18,1113.40L641.39,1108.31L637.42,1104.90L642.64,1104.48Z" fill="#fff" stroke="#0000ff" stroke-width="1.2" stroke-linejoin="miter"/>
<path d="M657.51,1097.99L659.52,1102.83L664.73,1103.24L660.76,1106.65L661.97,1111.74L657.51,1109.01L653.04,1111.74L654.25,1106.65L650.28,1103.24L655.50,1102.83Z" fill="#fff" stroke="#0000ff" stroke-width="1.2" stroke-linejoin="miter"/>
<path d="M670.37,1096.25L672.38,1101.09L677.59,1101.50L673.62,1104.91L674.83,1110.00L670.37,1107.27L665.90,1110.00L667.11,1104.91L663.14,1101.50L668.36,1101.09Z" fill="#fff" stroke="#0000ff" stroke-width="1.2" stroke-linejoin="miter"/>
<path d="M683.23,1094.32L685.24,1099.16L690.45,1099.57L686.48,1102.98L687.69,1108.07L683.23,1105.34L678.76,1108.07L679.97,1102.98L676.00,1099.57L681.22,1099.16Z" fill="#fff" stroke="#0000ff" stroke-width="1.2" stroke-linejoin="miter"/>
<path d="M696.08,1091.72L698.09,1096.55L703.31,1096.97L699.34,1100.38L700.55,1105.47L696.08,1102.74L691.62,1105.47L692.83,1100.38L688.86,1096.97L694.07,1096.55Z" fill="#fff" stroke="#0000ff" stroke-width="1.2" stroke-linejoin="miter"/>
<path d="M708.94,1089.12L710.95,1093.95L716.17,1094.37L712.20,1097.77L713.41,1102.86L708.94,1100.14L704.48,1102.86L705.69,1097.77L701.72,1094.37L706.93,1093.95Z" fill="#fff" stroke="#0000ff" stroke-width="1.2" stroke-linejoin="miter"/>
<path d="M721.80,1087.30L723.81,1092.14L729.03,1092.55L725.06,1095.96L726.27,1101.05L721.80,1098.32L717.34,1101.05L718.55,1095.96L714.58,1092.55L719.79,1092.14Z" fill="#fff" stroke="#0000ff" stroke-width="1.2" stroke-linejoin="miter"/>
<path d="M734.66,1085.42L736.67,1090.25L741.89,1090.67L737.92,1094.08L739.13,1099.17L734.66,1096.44L730.20,1099.17L731.41,1094.08L727.43,1090.67L732.65,1090.25Z" fill="#fff" stroke="#0000ff" stroke-width="1.2" stroke-linejoin="miter"/>
<path d="M747.52,1082.93L749.53,1087.76L754.75,1088.18L750.77,1091.58L751.99,1096.67L747.52,1093.95L743.05,1096.67L744.27,1091.58L740.29,1088.18L745.51,1087.76Z" fill="#fff" stroke="#0000ff" stroke-width="1.2" stroke-linejoin="miter"/>
<path d="M760.38,1079.52L762.39,1084.35L767.61,1084.77L763.63,1088.18L764.85,1093.27L760.38,1090.54L755.91,1093.27L757.13,1088.18L753.15,1084.77L758.37,1084.35Z" fill="#fff" stroke="#0000ff" stroke-width="1.2" stroke-linejoin="miter"/>
<path d="M773.24,1073.61L775.25,1078.44L780.47,1078.86L776.49,1082.27L777.71,1087.36L773.24,1084.63L768.77,1087.36L769.99,1082.27L766.01,1078.86L771.23,1078.44Z" fill="#fff" stroke="#0000ff" stroke-width="1.2" stroke-linejoin="miter"/>
<path d="M786.10,1068.21L788.11,1073.05L793.33,1073.46L789.35,1076.87L790.57,1081.96L786.10,1079.23L781.63,1081.96L782.85,1076.87L778.87,1073.46L784.09,1073.05Z" fill="#fff" stroke="#0000ff" stroke-width="1.2" stroke-linejoin="miter"/>
<path d="M798.96,1059.16L800.97,1063.99L806.19,1064.41L802.21,1067.81L803.43,1072.90L798.96,1070.18L794.49,1072.90L795.71,1067.81L791.73,1064.41L796.95,1063.99Z" fill="#fff" stroke="#0000ff" stroke-width="1.2" stroke-linejoin="miter"/>
<path d="M811.82,1049.99L813.83,1054.82L819.05,1055.24L815.07,1058.65L816.29,1063.74L811.82,1061.01L807.35,1063.74L808.57,1058.65L804.59,1055.24L809.81,1054.82Z" fill="#fff" stroke="#0000ff" stroke-width="1.2" stroke-linejoin="miter"/>
<path d="M824.68,1037.10L826.69,1041.93L831.91,1042.35L827.93,1045.75L829.15,1050.84L824.68,1048.12L820.21,1050.84L821.43,1045.75L817.45,1042.35L822.67,1041.93Z" fill="#fff" stroke="#0000ff" stroke-width="1.2" stroke-linejoin="miter"/>
<path d="M837.54,1024.27L839.55,1029.10L844.77,1029.52L840.79,1032.92L842.00,1038.02L837.54,1035.29L833.07,1038.02L834.28,1032.92L830.31,1029.52L835.53,1029.10Z" fill="#fff" stroke="#0000ff" stroke-width="1.2" stroke-linejoin="miter"/>
<path d="M850.40,1007.85L852.41,1012.68L857.62,1013.10L853.65,1016.50L854.86,1021.59L850.40,1018.87L845.93,1021.59L847.14,1016.50L843.17,1013.10L848.39,1012.68Z" fill="#fff" stroke="#0000ff" stroke-width="1.2" stroke-linejoin="miter"/>
<path d="M863.26,989.39L865.27,994.22L870.48,994.64L866.51,998.05L867.72,1003.14L863.26,1000.41L858.79,1003.14L860.00,998.05L856.03,994.64L861.25,994.22Z" fill="#fff" stroke="#0000ff" stroke-width="1.2" stroke-linejoin="miter"/>
<path d="M876.12,969.12L878.13,973.95L883.34,974.37L879.37,977.77L880.58,982.86L876.12,980.14L871.65,982.86L872.86,977.77L868.89,974.37L874.10,973.95Z" fill="#fff" stroke="#0000ff" stroke-width="1.2" stroke-linejoin="miter"/>
<path d="M888.97,949.81L890.98,954.64L896.20,955.06L892.23,958.47L893.44,963.56L888.97,960.83L884.51,963.56L885.72,958.47L881.75,955.06L886.96,954.64Z" fill="#fff" stroke="#0000ff" stroke-width="1.2" stroke-linejoin="miter"/>
<path d="M901.83,927.83L903.84,932.66L909.06,933.08L905.09,936.49L906.30,941.58L901.83,938.85L897.37,941.58L898.58,936.49L894.61,933.08L899.82,932.66Z" fill="#fff" stroke="#0000ff" stroke-width="1.2" stroke-linejoin="miter"/>
<path d="M914.69,905.70L916.70,910.54L921.92,910.96L917.95,914.36L919.16,919.45L914.69,916.72L910.23,919.45L911.44,914.36L907.47,910.96L912.68,910.54Z" fill="#fff" stroke="#0000ff" stroke-width="1.2" stroke-linejoin="miter"/>
<path d="M927.55,881.88L929.56,886.71L934.78,887.13L930.81,890.53L932.02,895.62L927.55,892.90L923.09,895.62L924.30,890.53L920.32,887.13L925.54,886.71Z" fill="#fff" stroke="#0000ff" stroke-width="1.2" stroke-linejoin="miter"/>
<path d="M940.41,857.62L942.42,862.45L947.64,862.87L943.66,866.27L944.88,871.36L940.41,868.64L935.94,871.36L937.16,866.27L933.18,862.87L938.40,862.45Z" fill="#fff" stroke="#0000ff" stroke-width="1.2" stroke-linejoin="miter"/>
<polyline points="111.76,1408.69 124.62,1390.55 137.48,1367.09 150.34,1344.22 163.19,1322.55 176.05,1303.70 188.91,1286.07 201.77,1270.53 214.63,1256.98 227.49,1246.70 240.35,1241.95 253.21,1240.20 266.07,1243.50 278.93,1257.28 291.79,1272.97 304.65,1287.96 317.51,1305.19 330.37,1317.94 343.22,1324.32 356.08,1328.20 368.94,1331.72 381.80,1333.47 394.66,1334.62 407.52,1335.92 420.38,1337.65 433.24,1338.88 446.10,1341.10 458.96,1343.23 471.82,1344.50 484.68,1343.25 497.54,1341.61 510.40,1339.10 523.26,1336.98 536.11,1334.11 548.97,1331.04 561.83,1325.99 574.69,1320.26 587.55,1315.14 600.41,1310.32 613.27,1306.03 626.13,1303.20 638.99,1300.30 651.85,1297.92 664.71,1295.37 677.57,1292.73 690.43,1290.40 703.29,1288.33 716.15,1284.04 729.00,1273.85 741.86,1250.85 754.72,1227.45 767.58,1202.20 780.44,1177.43 793.30,1151.89 806.16,1130.01 819.02,1105.64 831.88,1080.72 844.74,1055.81 857.60,1031.10 870.46,1006.59 883.32,981.66 896.18,957.52 909.04,933.58 921.89,908.67 934.75,883.93" fill="none" stroke="#0000ff" stroke-width="1.2"/>
<path d="M111.76,1400.09L114.03,1405.56L119.94,1406.03L115.44,1409.89L116.81,1415.65L111.76,1412.56L106.70,1415.65L108.08,1409.89L103.58,1406.03L109.48,1405.56Z" fill="#0000ff"/>
<path d="M124.62,1381.95L126.89,1387.42L132.80,1387.89L128.30,1391.75L129.67,1397.51L124.62,1394.42L119.56,1397.51L120.94,1391.75L116.44,1387.89L122.34,1387.42Z" fill="#0000ff"/>
<path d="M137.48,1358.49L139.75,1363.96L145.65,1364.43L141.16,1368.28L142.53,1374.04L137.48,1370.96L132.42,1374.04L133.80,1368.28L129.30,1364.43L135.20,1363.96Z" fill="#0000ff"/>
<path d="M150.34,1335.62L152.61,1341.09L158.51,1341.57L154.02,1345.42L155.39,1351.18L150.34,1348.09L145.28,1351.18L146.65,1345.42L142.16,1341.57L148.06,1341.09Z" fill="#0000ff"/>
<path d="M163.19,1313.95L165.47,1319.42L171.37,1319.89L166.88,1323.75L168.25,1329.51L163.19,1326.42L158.14,1329.51L159.51,1323.75L155.02,1319.89L160.92,1319.42Z" fill="#0000ff"/>
<path d="M176.05,1295.10L178.33,1300.57L184.23,1301.04L179.73,1304.89L181.11,1310.66L176.05,1307.57L171.00,1310.66L172.37,1304.89L167.87,1301.04L173.78,1300.57Z" fill="#0000ff"/>
<path d="M188.91,1277.47L191.19,1282.94L197.09,1283.41L192.59,1287.26L193.97,1293.03L188.91,1289.94L183.86,1293.03L185.23,1287.26L180.73,1283.41L186.64,1282.94Z" fill="#0000ff"/>
<path d="M201.77,1261.93L204.05,1267.40L209.95,1267.87L205.45,1271.73L206.83,1277.49L201.77,1274.40L196.72,1277.49L198.09,1271.73L193.59,1267.87L199.50,1267.40Z" fill="#0000ff"/>
<path d="M214.63,1248.38L216.91,1253.85L222.81,1254.32L218.31,1258.18L219.69,1263.94L214.63,1260.85L209.58,1263.94L210.95,1258.18L206.45,1254.32L212.36,1253.85Z" fill="#0000ff"/>
<path d="M227.49,1238.10L229.77,1243.57L235.67,1244.04L231.17,1247.90L232.55,1253.66L227.49,1250.57L222.44,1253.66L223.81,1247.90L219.31,1244.04L225.22,1243.57Z" fill="#0000ff"/>
<path d="M240.35,1233.35L242.63,1238.82L248.53,1239.29L244.03,1243.15L245.41,1248.91L240.35,1245.82L235.30,1248.91L236.67,1243.15L232.17,1239.29L238.08,1238.82Z" fill="#0000ff"/>
<path d="M253.21,1231.60L255.48,1237.07L261.39,1237.54L256.89,1241.40L258.26,1247.16L253.21,1244.07L248.15,1247.16L249.53,1241.40L245.03,1237.54L250.93,1237.07Z" fill="#0000ff"/>
<path d="M266.07,1234.90L268.34,1240.37L274.25,1240.85L269.75,1244.70L271.12,1250.46L266.07,1247.37L261.01,1250.46L262.39,1244.70L257.89,1240.85L263.79,1240.37Z" fill="#0000ff"/>
<path d="M278.93,1248.68L281.20,1254.15L287.11,1254.62L282.61,1258.47L283.98,1264.24L278.93,1261.15L273.87,1264.24L275.25,1258.47L270.75,1254.62L276.65,1254.15Z" fill="#0000ff"/>
<path d="M291.79,1264.37L294.06,1269.84L299.97,1270.31L295.47,1274.16L296.84,1279.92L291.79,1276.84L286.73,1279.92L288.11,1274.16L283.61,1270.31L289.51,1269.84Z" fill="#0000ff"/>
<path d="M304.65,1279.36L306.92,1284.83L312.83,1285.30L308.33,1289.16L309.70,1294.92L304.65,1291.83L299.59,1294.92L300.97,1289.16L296.47,1285.30L302.37,1284.83Z" fill="#0000ff"/>
<path d="M317.51,1296.59L319.78,1302.06L325.69,1302.54L321.19,1306.39L322.56,1312.15L317.51,1309.06L312.45,1312.15L313.83,1306.39L309.33,1302.54L315.23,1302.06Z" fill="#0000ff"/>
<path d="M330.37,1309.34L332.64,1314.81L338.54,1315.29L334.05,1319.14L335.42,1324.90L330.37,1321.81L325.31,1324.90L326.69,1319.14L322.19,1315.29L328.09,1314.81Z" fill="#0000ff"/>
<path d="M343.22,1315.72L345.50,1321.19L351.40,1321.66L346.91,1325.52L348.28,1331.28L343.22,1328.19L338.17,1331.28L339.54,1325.52L335.05,1321.66L340.95,1321.19Z" fill="#0000ff"/>
<path d="M356.08,1319.60L358.36,1325.07L364.26,1325.54L359.76,1329.39L361.14,1335.16L356.08,1332.07L351.03,1335.16L352.40,1329.39L347.91,1325.54L353.81,1325.07Z" fill="#0000ff"/>
<path d="M368.94,1323.12L371.22,1328.58L377.12,1329.06L372.62,1332.91L374.00,1338.67L368.94,1335.59L363.89,1338.67L365.26,1332.91L360.76,1329.06L366.67,1328.58Z" fill="#0000ff"/>
<path d="M381.80,1324.87L384.08,1330.34L389.98,1330.81L385.48,1334.66L386.86,1340.43L381.80,1337.34L376.75,1340.43L378.12,1334.66L373.62,1330.81L379.53,1330.34Z" fill="#0000ff"/>
<path d="M394.66,1326.02L396.94,1331.49L402.84,1331.96L398.34,1335.82L399.72,1341.58L394.66,1338.49L389.61,1341.58L390.98,1335.82L386.48,1331.96L392.39,1331.49Z" fill="#0000ff"/>
<path d="M407.52,1327.32L409.80,1332.79L415.70,1333.26L411.20,1337.12L412.58,1342.88L407.52,1339.79L402.47,1342.88L403.84,1337.12L399.34,1333.26L405.25,1332.79Z" fill="#0000ff"/>
<path d="M420.38,1329.05L422.66,1334.52L428.56,1334.99L424.06,1338.85L425.44,1344.61L420.38,1341.52L415.33,1344.61L416.70,1338.85L412.20,1334.99L418.11,1334.52Z" fill="#0000ff"/>
<path d="M433.24,1330.28L435.51,1335.75L441.42,1336.22L436.92,1340.08L438.30,1345.84L433.24,1342.75L428.19,1345.84L429.56,1340.08L425.06,1336.22L430.97,1335.75Z" fill="#0000ff"/>
<path d="M446.10,1332.50L448.37,1337.97L454.28,1338.44L449.78,1342.30L451.15,1348.06L446.10,1344.97L441.04,1348.06L442.42,1342.30L437.92,1338.44L443.82,1337.97Z" fill="#0000ff"/>
<path d="M458.96,1334.63L461.23,1340.10L467.14,1340.58L462.64,1344.43L464.01,1350.19L458.96,1347.10L453.90,1350.19L455.28,1344.43L450.78,1340.58L456.68,1340.10Z" fill="#0000ff"/>
<path d="M471.82,1335.90L474.09,1341.37L480.00,1341.84L475.50,1345.69L476.87,1351.46L471.82,1348.37L466.76,1351.46L468.14,1345.69L463.64,1341.84L469.54,1341.37Z" fill="#0000ff"/>
<path d="M484.68,1334.65L486.95,1340.12L492.86,1340.59L488.36,1344.44L489.73,1350.21L484.68,1347.12L479.62,1350.21L481.00,1344.44L476.50,1340.59L482.40,1340.12Z" fill="#0000ff"/>
<path d="M497.54,1333.01L499.81,1338.48L505.72,1338.95L501.22,1342.81L502.59,1348.57L497.54,1345.48L492.48,1348.57L493.86,1342.81L489.36,1338.95L495.26,1338.48Z" fill="#0000ff"/>
<path d="M510.40,1330.50L512.67,1335.97L518.58,1336.44L514.08,1340.30L515.45,1346.06L510.40,1342.97L505.34,1346.06L506.72,1340.30L502.22,1336.44L508.12,1335.97Z" fill="#0000ff"/>
<path d="M523.26,1328.38L525.53,1333.85L531.43,1334.32L526.94,1338.18L528.31,1343.94L523.26,1340.85L518.20,1343.94L519.57,1338.18L515.08,1334.32L520.98,1333.85Z" fill="#0000ff"/>
<path d="M536.11,1325.51L538.39,1330.98L544.29,1331.45L539.80,1335.31L541.17,1341.07L536.11,1337.98L531.06,1341.07L532.43,1335.31L527.94,1331.45L533.84,1330.98Z" fill="#0000ff"/>
<path d="M548.97,1322.44L551.25,1327.91L557.15,1328.38L552.65,1332.24L554.03,1338.00L548.97,1334.91L543.92,1338.00L545.29,1332.24L540.80,1328.38L546.70,1327.91Z" fill="#0000ff"/>
<path d="M561.83,1317.39L564.11,1322.86L570.01,1323.33L565.51,1327.18L566.89,1332.94L561.83,1329.86L556.78,1332.94L558.15,1327.18L553.65,1323.33L559.56,1322.86Z" fill="#0000ff"/>
<path d="M574.69,1311.66L576.97,1317.13L582.87,1317.60L578.37,1321.46L579.75,1327.22L574.69,1324.13L569.64,1327.22L571.01,1321.46L566.51,1317.60L572.42,1317.13Z" fill="#0000ff"/>
<path d="M587.55,1306.54L589.83,1312.01L595.73,1312.48L591.23,1316.34L592.61,1322.10L587.55,1319.01L582.50,1322.10L583.87,1316.34L579.37,1312.48L585.28,1312.01Z" fill="#0000ff"/>
<path d="M600.41,1301.72L602.69,1307.19L608.59,1307.67L604.09,1311.52L605.47,1317.28L600.41,1314.19L595.36,1317.28L596.73,1311.52L592.23,1307.67L598.14,1307.19Z" fill="#0000ff"/>
<path d="M613.27,1297.43L615.55,1302.90L621.45,1303.37L616.95,1307.22L618.33,1312.99L613.27,1309.90L608.22,1312.99L609.59,1307.22L605.09,1303.37L611.00,1302.90Z" fill="#0000ff"/>
<path d="M626.13,1294.60L628.40,1300.07L634.31,1300.55L629.81,1304.40L631.18,1310.16L626.13,1307.07L621.08,1310.16L622.45,1304.40L617.95,1300.55L623.86,1300.07Z" fill="#0000ff"/>
<path d="M638.99,1291.70L641.26,1297.17L647.17,1297.64L642.67,1301.50L644.04,1307.26L638.99,1304.17L633.93,1307.26L635.31,1301.50L630.81,1297.64L636.71,1297.17Z" fill="#0000ff"/>
<path d="M651.85,1289.32L654.12,1294.79L660.03,1295.26L655.53,1299.12L656.90,1304.88L651.85,1301.79L646.79,1304.88L648.17,1299.12L643.67,1295.26L649.57,1294.79Z" fill="#0000ff"/>
<path d="M664.71,1286.77L666.98,1292.24L672.89,1292.71L668.39,1296.57L669.76,1302.33L664.71,1299.24L659.65,1302.33L661.03,1296.57L656.53,1292.71L662.43,1292.24Z" fill="#0000ff"/>
<path d="M677.57,1284.13L679.84,1289.60L685.75,1290.07L681.25,1293.92L682.62,1299.68L677.57,1296.60L672.51,1299.68L673.89,1293.92L669.39,1290.07L675.29,1289.60Z" fill="#0000ff"/>
<path d="M690.43,1281.80L692.70,1287.27L698.61,1287.74L694.11,1291.59L695.48,1297.35L690.43,1294.27L685.37,1297.35L686.75,1291.59L682.25,1287.74L688.15,1287.27Z" fill="#0000ff"/>
<path d="M703.29,1279.73L705.56,1285.20L711.47,1285.67L706.97,1289.53L708.34,1295.29L703.29,1292.20L698.23,1295.29L699.61,1289.53L695.11,1285.67L701.01,1285.20Z" fill="#0000ff"/>
<path d="M716.15,1275.44L718.42,1280.91L724.32,1281.38L719.83,1285.23L721.20,1291.00L716.15,1287.91L711.09,1291.00L712.46,1285.23L707.97,1281.38L713.87,1280.91Z" fill="#0000ff"/>
<path d="M729.00,1265.25L731.28,1270.72L737.18,1271.19L732.69,1275.04L734.06,1280.81L729.00,1277.72L723.95,1280.81L725.32,1275.04L720.83,1271.19L726.73,1270.72Z" fill="#0000ff"/>
<path d="M741.86,1242.25L744.14,1247.72L750.04,1248.19L745.54,1252.04L746.92,1257.81L741.86,1254.72L736.81,1257.81L738.18,1252.04L733.68,1248.19L739.59,1247.72Z" fill="#0000ff"/>
<path d="M754.72,1218.85L757.00,1224.32L762.90,1224.79L758.40,1228.65L759.78,1234.41L754.72,1231.32L749.67,1234.41L751.04,1228.65L746.54,1224.79L752.45,1224.32Z" fill="#0000ff"/>
<path d="M767.58,1193.60L769.86,1199.07L775.76,1199.54L771.26,1203.39L772.64,1209.16L767.58,1206.07L762.53,1209.16L763.90,1203.39L759.40,1199.54L765.31,1199.07Z" fill="#0000ff"/>
<path d="M780.44,1168.83L782.72,1174.30L788.62,1174.78L784.12,1178.63L785.50,1184.39L780.44,1181.30L775.39,1184.39L776.76,1178.63L772.26,1174.78L778.17,1174.30Z" fill="#0000ff"/>
<path d="M793.30,1143.29L795.58,1148.76L801.48,1149.24L796.98,1153.09L798.36,1158.85L793.30,1155.76L788.25,1158.85L789.62,1153.09L785.12,1149.24L791.03,1148.76Z" fill="#0000ff"/>
<path d="M806.16,1121.41L808.44,1126.88L814.34,1127.35L809.84,1131.21L811.22,1136.97L806.16,1133.88L801.11,1136.97L802.48,1131.21L797.98,1127.35L803.89,1126.88Z" fill="#0000ff"/>
<path d="M819.02,1097.04L821.29,1102.51L827.20,1102.98L822.70,1106.83L824.07,1112.59L819.02,1109.51L813.96,1112.59L815.34,1106.83L810.84,1102.98L816.75,1102.51Z" fill="#0000ff"/>
<path d="M831.88,1072.12L834.15,1077.58L840.06,1078.06L835.56,1081.91L836.93,1087.67L831.88,1084.59L826.82,1087.67L828.20,1081.91L823.70,1078.06L829.60,1077.58Z" fill="#0000ff"/>
<path d="M844.74,1047.21L847.01,1052.68L852.92,1053.15L848.42,1057.01L849.79,1062.77L844.74,1059.68L839.68,1062.77L841.06,1057.01L836.56,1053.15L842.46,1052.68Z" fill="#0000ff"/>
<path d="M857.60,1022.50L859.87,1027.97L865.78,1028.45L861.28,1032.30L862.65,1038.06L857.60,1034.97L852.54,1038.06L853.92,1032.30L849.42,1028.45L855.32,1027.97Z" fill="#0000ff"/>
<path d="M870.46,997.99L872.73,1003.46L878.64,1003.93L874.14,1007.79L875.51,1013.55L870.46,1010.46L865.40,1013.55L866.78,1007.79L862.28,1003.93L868.18,1003.46Z" fill="#0000ff"/>
<path d="M883.32,973.06L885.59,978.53L891.50,979.00L887.00,982.86L888.37,988.62L883.32,985.53L878.26,988.62L879.64,982.86L875.14,979.00L881.04,978.53Z" fill="#0000ff"/>
<path d="M896.18,948.92L898.45,954.39L904.35,954.86L899.86,958.72L901.23,964.48L896.18,961.39L891.12,964.48L892.50,958.72L888.00,954.86L893.90,954.39Z" fill="#0000ff"/>
<path d="M909.04,924.98L911.31,930.45L917.21,930.92L912.72,934.78L914.09,940.54L909.04,937.45L903.98,940.54L905.35,934.78L900.86,930.92L906.76,930.45Z" fill="#0000ff"/>
<path d="M921.89,900.07L924.17,905.54L930.07,906.01L925.57,909.87L926.95,915.63L921.89,912.54L916.84,915.63L918.21,909.87L913.72,906.01L919.62,905.54Z" fill="#0000ff"/>
<path d="M934.75,875.33L937.03,880.80L942.93,881.27L938.43,885.13L939.81,890.89L934.75,887.80L929.70,890.89L931.07,885.13L926.57,881.27L932.48,880.80Z" fill="#0000ff"/>
</g>
<g clip-path="url(#clipC)">
<rect x="109.53" y="2192.32" width="11.80" height="11.80" fill="#fff" stroke="#ff0000" stroke-width="1.3"/>
<rect x="121.00" y="2169.18" width="11.80" height="11.80" fill="#fff" stroke="#ff0000" stroke-width="1.3"/>
<rect x="132.47" y="2145.15" width="11.80" height="11.80" fill="#fff" stroke="#ff0000" stroke-width="1.3"/>
<rect x="143.94" y="2122.23" width="11.80" height="11.80" fill="#fff" stroke="#ff0000" stroke-width="1.3"/>
<rect x="155.40" y="2100.49" width="11.80" height="11.80" fill="#fff" stroke="#ff0000" stroke-width="1.3"/>
<rect x="166.87" y="2076.37" width="11.80" height="11.80" fill="#fff" stroke="#ff0000" stroke-width="1.3"/>
<rect x="178.34" y="2054.75" width="11.80" height="11.80" fill="#fff" stroke="#ff0000" stroke-width="1.3"/>
<rect x="189.81" y="2034.26" width="11.80" height="11.80" fill="#fff" stroke="#ff0000" stroke-width="1.3"/>
<rect x="201.28" y="2014.72" width="11.80" height="11.80" fill="#fff" stroke="#ff0000" stroke-width="1.3"/>
<rect x="212.74" y="1997.61" width="11.80" height="11.80" fill="#fff" stroke="#ff0000" stroke-width="1.3"/>
<rect x="224.21" y="1981.67" width="11.80" height="11.80" fill="#fff" stroke="#ff0000" stroke-width="1.3"/>
<rect x="235.68" y="1967.98" width="11.80" height="11.80" fill="#fff" stroke="#ff0000" stroke-width="1.3"/>
<rect x="247.15" y="1955.37" width="11.80" height="11.80" fill="#fff" stroke="#ff0000" stroke-width="1.3"/>
<rect x="258.61" y="1946.21" width="11.80" height="11.80" fill="#fff" stroke="#ff0000" stroke-width="1.3"/>
<rect x="270.08" y="1938.21" width="11.80" height="11.80" fill="#fff" stroke="#ff0000" stroke-width="1.3"/>
<rect x="281.55" y="1932.46" width="11.80" height="11.80" fill="#fff" stroke="#ff0000" stroke-width="1.3"/>
<rect x="293.02" y="1928.49" width="11.80" height="11.80" fill="#fff" stroke="#ff0000" stroke-width="1.3"/>
<rect x="304.49" y="1925.08" width="11.80" height="11.80" fill="#fff" stroke="#ff0000" stroke-width="1.3"/>
<rect x="315.95" y="1922.60" width="11.80" height="11.80" fill="#fff" stroke="#ff0000" stroke-width="1.3"/>
<rect x="327.42" y="1920.47" width="11.80" height="11.80" fill="#fff" stroke="#ff0000" stroke-width="1.3"/>
<rect x="338.89" y="1918.34" width="11.80" height="11.80" fill="#fff" stroke="#ff0000" stroke-width="1.3"/>
<rect x="350.36" y="1916.41" width="11.80" height="11.80" fill="#fff" stroke="#ff0000" stroke-width="1.3"/>
<rect x="361.82" y="1914.83" width="11.80" height="11.80" fill="#fff" stroke="#ff0000" stroke-width="1.3"/>
<rect x="373.29" y="1913.42" width="11.80" height="11.80" fill="#fff" stroke="#ff0000" stroke-width="1.3"/>
<rect x="384.76" y="1912.06" width="11.80" height="11.80" fill="#fff" stroke="#ff0000" stroke-width="1.3"/>
<rect x="396.23" y="1910.75" width="11.80" height="11.80" fill="#fff" stroke="#ff0000" stroke-width="1.3"/>
<rect x="407.70" y="1909.49" width="11.80" height="11.80" fill="#fff" stroke="#ff0000" stroke-width="1.3"/>
<rect x="419.16" y="1908.27" width="11.80" height="11.80" fill="#fff" stroke="#ff0000" stroke-width="1.3"/>
<rect x="430.63" y="1907.09" width="11.80" height="11.80" fill="#fff" stroke="#ff0000" stroke-width="1.3"/>
<rect x="442.10" y="1905.92" width="11.80" height="11.80" fill="#fff" stroke="#ff0000" stroke-width="1.3"/>
<rect x="453.57" y="1904.52" width="11.80" height="11.80" fill="#fff" stroke="#ff0000" stroke-width="1.3"/>
<rect x="465.03" y="1903.04" width="11.80" height="11.80" fill="#fff" stroke="#ff0000" stroke-width="1.3"/>
<rect x="476.50" y="1901.53" width="11.80" height="11.80" fill="#fff" stroke="#ff0000" stroke-width="1.3"/>
<rect x="487.97" y="1899.93" width="11.80" height="11.80" fill="#fff" stroke="#ff0000" stroke-width="1.3"/>
<rect x="499.44" y="1898.20" width="11.80" height="11.80" fill="#fff" stroke="#ff0000" stroke-width="1.3"/>
<rect x="510.91" y="1896.63" width="11.80" height="11.80" fill="#fff" stroke="#ff0000" stroke-width="1.3"/>
<rect x="522.37" y="1895.40" width="11.80" height="11.80" fill="#fff" stroke="#ff0000" stroke-width="1.3"/>
<rect x="533.84" y="1894.16" width="11.80" height="11.80" fill="#fff" stroke="#ff0000" stroke-width="1.3"/>
<rect x="545.31" y="1892.73" width="11.80" height="11.80" fill="#fff" stroke="#ff0000" stroke-width="1.3"/>
<rect x="556.78" y="1891.30" width="11.80" height="11.80" fill="#fff" stroke="#ff0000" stroke-width="1.3"/>
<rect x="568.24" y="1890.01" width="11.80" height="11.80" fill="#fff" stroke="#ff0000" stroke-width="1.3"/>
<rect x="579.71" y="1888.75" width="11.80" height="11.80" fill="#fff" stroke="#ff0000" stroke-width="1.3"/>
<rect x="591.18" y="1887.44" width="11.80" height="11.80" fill="#fff" stroke="#ff0000" stroke-width="1.3"/>
<rect x="602.65" y="1886.08" width="11.80" height="11.80" fill="#fff" stroke="#ff0000" stroke-width="1.3"/>
<rect x="614.11" y="1884.61" width="11.80" height="11.80" fill="#fff" stroke="#ff0000" stroke-width="1.3"/>
<rect x="625.58" y="1883.02" width="11.80" height="11.80" fill="#fff" stroke="#ff0000" stroke-width="1.3"/>
<rect x="637.05" y="1881.22" width="11.80" height="11.80" fill="#fff" stroke="#ff0000" stroke-width="1.3"/>
<rect x="648.52" y="1879.28" width="11.80" height="11.80" fill="#fff" stroke="#ff0000" stroke-width="1.3"/>
<rect x="659.99" y="1877.42" width="11.80" height="11.80" fill="#fff" stroke="#ff0000" stroke-width="1.3"/>
<rect x="671.45" y="1875.44" width="11.80" height="11.80" fill="#fff" stroke="#ff0000" stroke-width="1.3"/>
<rect x="682.92" y="1873.13" width="11.80" height="11.80" fill="#fff" stroke="#ff0000" stroke-width="1.3"/>
<rect x="694.39" y="1870.07" width="11.80" height="11.80" fill="#fff" stroke="#ff0000" stroke-width="1.3"/>
<rect x="705.86" y="1864.54" width="11.80" height="11.80" fill="#fff" stroke="#ff0000" stroke-width="1.3"/>
<rect x="717.32" y="1856.94" width="11.80" height="11.80" fill="#fff" stroke="#ff0000" stroke-width="1.3"/>
<rect x="728.79" y="1847.43" width="11.80" height="11.80" fill="#fff" stroke="#ff0000" stroke-width="1.3"/>
<rect x="740.26" y="1836.31" width="11.80" height="11.80" fill="#fff" stroke="#ff0000" stroke-width="1.3"/>
<rect x="751.73" y="1824.36" width="11.80" height="11.80" fill="#fff" stroke="#ff0000" stroke-width="1.3"/>
<rect x="763.20" y="1809.36" width="11.80" height="11.80" fill="#fff" stroke="#ff0000" stroke-width="1.3"/>
<rect x="774.66" y="1792.86" width="11.80" height="11.80" fill="#fff" stroke="#ff0000" stroke-width="1.3"/>
<rect x="786.13" y="1775.04" width="11.80" height="11.80" fill="#fff" stroke="#ff0000" stroke-width="1.3"/>
<rect x="797.60" y="1754.82" width="11.80" height="11.80" fill="#fff" stroke="#ff0000" stroke-width="1.3"/>
<rect x="809.07" y="1734.39" width="11.80" height="11.80" fill="#fff" stroke="#ff0000" stroke-width="1.3"/>
<rect x="820.53" y="1711.75" width="11.80" height="11.80" fill="#fff" stroke="#ff0000" stroke-width="1.3"/>
<rect x="832.00" y="1690.55" width="11.80" height="11.80" fill="#fff" stroke="#ff0000" stroke-width="1.3"/>
<rect x="843.47" y="1667.88" width="11.80" height="11.80" fill="#fff" stroke="#ff0000" stroke-width="1.3"/>
<rect x="854.94" y="1645.22" width="11.80" height="11.80" fill="#fff" stroke="#ff0000" stroke-width="1.3"/>
<rect x="866.41" y="1621.36" width="11.80" height="11.80" fill="#fff" stroke="#ff0000" stroke-width="1.3"/>
<rect x="877.87" y="1597.49" width="11.80" height="11.80" fill="#fff" stroke="#ff0000" stroke-width="1.3"/>
<polyline points="109.70,2210.00 121.17,2190.70 132.64,2165.82 144.10,2143.65 155.57,2123.28 167.04,2103.66 178.51,2082.82 189.97,2065.75 201.44,2049.94 212.91,2037.16 224.38,2027.34 235.85,2022.55 247.31,2023.37 258.78,2029.11 270.25,2040.73 281.72,2056.56 293.18,2074.15 304.65,2088.71 316.12,2099.89 327.59,2106.79 339.05,2112.16 350.52,2115.39 361.99,2118.50 373.46,2123.64 384.93,2130.02 396.39,2136.41 407.86,2141.40 419.33,2145.26 430.80,2147.78 442.26,2148.79 453.73,2148.00 465.20,2145.59 476.67,2141.81 488.14,2137.67 499.60,2132.64 511.07,2126.94 522.54,2121.41 534.01,2117.06 545.47,2112.83 556.94,2107.52 568.41,2103.56 579.88,2099.88 591.35,2096.56 602.81,2094.08 614.28,2091.90 625.75,2089.74 637.22,2087.48 648.68,2084.64 660.15,2073.11 671.62,2053.21 683.09,2029.28 694.56,2006.01 706.02,1982.97 717.49,1960.56 728.96,1934.63 740.43,1911.98 751.89,1887.16 763.36,1862.34 774.83,1837.87 786.30,1813.73 797.76,1789.92 809.23,1765.12 820.70,1740.54 832.17,1716.72 843.64,1692.17 855.10,1668.35 866.57,1643.38 878.04,1617.98 889.51,1594.00 900.97,1571.49 912.44,1550.58 923.91,1531.36" fill="none" stroke="#ff0000" stroke-width="1.2"/>
<rect x="103.30" y="2203.60" width="12.80" height="12.80" fill="#ff0000"/>
<rect x="114.77" y="2184.30" width="12.80" height="12.80" fill="#ff0000"/>
<rect x="126.24" y="2159.42" width="12.80" height="12.80" fill="#ff0000"/>
<rect x="137.70" y="2137.25" width="12.80" height="12.80" fill="#ff0000"/>
<rect x="149.17" y="2116.88" width="12.80" height="12.80" fill="#ff0000"/>
<rect x="160.64" y="2097.26" width="12.80" height="12.80" fill="#ff0000"/>
<rect x="172.11" y="2076.42" width="12.80" height="12.80" fill="#ff0000"/>
<rect x="183.57" y="2059.35" width="12.80" height="12.80" fill="#ff0000"/>
<rect x="195.04" y="2043.54" width="12.80" height="12.80" fill="#ff0000"/>
<rect x="206.51" y="2030.76" width="12.80" height="12.80" fill="#ff0000"/>
<rect x="217.98" y="2020.94" width="12.80" height="12.80" fill="#ff0000"/>
<rect x="229.45" y="2016.15" width="12.80" height="12.80" fill="#ff0000"/>
<rect x="240.91" y="2016.97" width="12.80" height="12.80" fill="#ff0000"/>
<rect x="252.38" y="2022.71" width="12.80" height="12.80" fill="#ff0000"/>
<rect x="263.85" y="2034.33" width="12.80" height="12.80" fill="#ff0000"/>
<rect x="275.32" y="2050.16" width="12.80" height="12.80" fill="#ff0000"/>
<rect x="286.78" y="2067.75" width="12.80" height="12.80" fill="#ff0000"/>
<rect x="298.25" y="2082.31" width="12.80" height="12.80" fill="#ff0000"/>
<rect x="309.72" y="2093.49" width="12.80" height="12.80" fill="#ff0000"/>
<rect x="321.19" y="2100.39" width="12.80" height="12.80" fill="#ff0000"/>
<rect x="332.65" y="2105.76" width="12.80" height="12.80" fill="#ff0000"/>
<rect x="344.12" y="2108.99" width="12.80" height="12.80" fill="#ff0000"/>
<rect x="355.59" y="2112.10" width="12.80" height="12.80" fill="#ff0000"/>
<rect x="367.06" y="2117.24" width="12.80" height="12.80" fill="#ff0000"/>
<rect x="378.53" y="2123.62" width="12.80" height="12.80" fill="#ff0000"/>
<rect x="389.99" y="2130.01" width="12.80" height="12.80" fill="#ff0000"/>
<rect x="401.46" y="2135.00" width="12.80" height="12.80" fill="#ff0000"/>
<rect x="412.93" y="2138.86" width="12.80" height="12.80" fill="#ff0000"/>
<rect x="424.40" y="2141.38" width="12.80" height="12.80" fill="#ff0000"/>
<rect x="435.86" y="2142.39" width="12.80" height="12.80" fill="#ff0000"/>
<rect x="447.33" y="2141.60" width="12.80" height="12.80" fill="#ff0000"/>
<rect x="458.80" y="2139.19" width="12.80" height="12.80" fill="#ff0000"/>
<rect x="470.27" y="2135.41" width="12.80" height="12.80" fill="#ff0000"/>
<rect x="481.74" y="2131.27" width="12.80" height="12.80" fill="#ff0000"/>
<rect x="493.20" y="2126.24" width="12.80" height="12.80" fill="#ff0000"/>
<rect x="504.67" y="2120.54" width="12.80" height="12.80" fill="#ff0000"/>
<rect x="516.14" y="2115.01" width="12.80" height="12.80" fill="#ff0000"/>
<rect x="527.61" y="2110.66" width="12.80" height="12.80" fill="#ff0000"/>
<rect x="539.07" y="2106.43" width="12.80" height="12.80" fill="#ff0000"/>
<rect x="550.54" y="2101.12" width="12.80" height="12.80" fill="#ff0000"/>
<rect x="562.01" y="2097.16" width="12.80" height="12.80" fill="#ff0000"/>
<rect x="573.48" y="2093.48" width="12.80" height="12.80" fill="#ff0000"/>
<rect x="584.95" y="2090.16" width="12.80" height="12.80" fill="#ff0000"/>
<rect x="596.41" y="2087.68" width="12.80" height="12.80" fill="#ff0000"/>
<rect x="607.88" y="2085.50" width="12.80" height="12.80" fill="#ff0000"/>
<rect x="619.35" y="2083.34" width="12.80" height="12.80" fill="#ff0000"/>
<rect x="630.82" y="2081.08" width="12.80" height="12.80" fill="#ff0000"/>
<rect x="642.28" y="2078.24" width="12.80" height="12.80" fill="#ff0000"/>
<rect x="653.75" y="2066.71" width="12.80" height="12.80" fill="#ff0000"/>
<rect x="665.22" y="2046.81" width="12.80" height="12.80" fill="#ff0000"/>
<rect x="676.69" y="2022.88" width="12.80" height="12.80" fill="#ff0000"/>
<rect x="688.16" y="1999.61" width="12.80" height="12.80" fill="#ff0000"/>
<rect x="699.62" y="1976.57" width="12.80" height="12.80" fill="#ff0000"/>
<rect x="711.09" y="1954.16" width="12.80" height="12.80" fill="#ff0000"/>
<rect x="722.56" y="1928.23" width="12.80" height="12.80" fill="#ff0000"/>
<rect x="734.03" y="1905.58" width="12.80" height="12.80" fill="#ff0000"/>
<rect x="745.49" y="1880.76" width="12.80" height="12.80" fill="#ff0000"/>
<rect x="756.96" y="1855.94" width="12.80" height="12.80" fill="#ff0000"/>
<rect x="768.43" y="1831.47" width="12.80" height="12.80" fill="#ff0000"/>
<rect x="779.90" y="1807.33" width="12.80" height="12.80" fill="#ff0000"/>
<rect x="791.36" y="1783.52" width="12.80" height="12.80" fill="#ff0000"/>
<rect x="802.83" y="1758.72" width="12.80" height="12.80" fill="#ff0000"/>
<rect x="814.30" y="1734.14" width="12.80" height="12.80" fill="#ff0000"/>
<rect x="825.77" y="1710.32" width="12.80" height="12.80" fill="#ff0000"/>
<rect x="837.24" y="1685.77" width="12.80" height="12.80" fill="#ff0000"/>
<rect x="848.70" y="1661.95" width="12.80" height="12.80" fill="#ff0000"/>
<rect x="860.17" y="1636.98" width="12.80" height="12.80" fill="#ff0000"/>
<rect x="871.64" y="1611.58" width="12.80" height="12.80" fill="#ff0000"/>
<path d="M115.43,2189.72L123.33,2202.62L107.53,2202.62Z" fill="#fff" stroke="#008080" stroke-width="1.3" stroke-linejoin="miter"/>
<path d="M126.90,2166.58L134.80,2179.48L119.00,2179.48Z" fill="#fff" stroke="#008080" stroke-width="1.3" stroke-linejoin="miter"/>
<path d="M138.37,2142.55L146.27,2155.45L130.47,2155.45Z" fill="#fff" stroke="#008080" stroke-width="1.3" stroke-linejoin="miter"/>
<path d="M149.84,2119.63L157.74,2132.53L141.94,2132.53Z" fill="#fff" stroke="#008080" stroke-width="1.3" stroke-linejoin="miter"/>
<path d="M161.30,2097.89L169.20,2110.79L153.40,2110.79Z" fill="#fff" stroke="#008080" stroke-width="1.3" stroke-linejoin="miter"/>
<path d="M172.77,2073.77L180.67,2086.67L164.87,2086.67Z" fill="#fff" stroke="#008080" stroke-width="1.3" stroke-linejoin="miter"/>
<path d="M184.24,2052.64L192.14,2065.54L176.34,2065.54Z" fill="#fff" stroke="#008080" stroke-width="1.3" stroke-linejoin="miter"/>
<path d="M195.71,2033.45L203.61,2046.35L187.81,2046.35Z" fill="#fff" stroke="#008080" stroke-width="1.3" stroke-linejoin="miter"/>
<path d="M207.18,2015.23L215.08,2028.13L199.28,2028.13Z" fill="#fff" stroke="#008080" stroke-width="1.3" stroke-linejoin="miter"/>
<path d="M218.64,1999.01L226.54,2011.91L210.74,2011.91Z" fill="#fff" stroke="#008080" stroke-width="1.3" stroke-linejoin="miter"/>
<path d="M230.11,1983.07L238.01,1995.97L222.21,1995.97Z" fill="#fff" stroke="#008080" stroke-width="1.3" stroke-linejoin="miter"/>
<path d="M241.58,1969.38L249.48,1982.28L233.68,1982.28Z" fill="#fff" stroke="#008080" stroke-width="1.3" stroke-linejoin="miter"/>
<path d="M253.05,1956.77L260.95,1969.67L245.15,1969.67Z" fill="#fff" stroke="#008080" stroke-width="1.3" stroke-linejoin="miter"/>
<path d="M264.51,1947.61L272.41,1960.51L256.61,1960.51Z" fill="#fff" stroke="#008080" stroke-width="1.3" stroke-linejoin="miter"/>
<path d="M275.98,1939.61L283.88,1952.51L268.08,1952.51Z" fill="#fff" stroke="#008080" stroke-width="1.3" stroke-linejoin="miter"/>
<path d="M287.45,1933.86L295.35,1946.76L279.55,1946.76Z" fill="#fff" stroke="#008080" stroke-width="1.3" stroke-linejoin="miter"/>
<path d="M298.92,1929.89L306.82,1942.79L291.02,1942.79Z" fill="#fff" stroke="#008080" stroke-width="1.3" stroke-linejoin="miter"/>
<path d="M310.39,1926.48L318.29,1939.38L302.49,1939.38Z" fill="#fff" stroke="#008080" stroke-width="1.3" stroke-linejoin="miter"/>
<path d="M321.85,1924.00L329.75,1936.90L313.95,1936.90Z" fill="#fff" stroke="#008080" stroke-width="1.3" stroke-linejoin="miter"/>
<path d="M333.32,1921.87L341.22,1934.77L325.42,1934.77Z" fill="#fff" stroke="#008080" stroke-width="1.3" stroke-linejoin="miter"/>
<path d="M344.79,1919.74L352.69,1932.64L336.89,1932.64Z" fill="#fff" stroke="#008080" stroke-width="1.3" stroke-linejoin="miter"/>
<path d="M356.26,1917.81L364.16,1930.71L348.36,1930.71Z" fill="#fff" stroke="#008080" stroke-width="1.3" stroke-linejoin="miter"/>
<path d="M367.72,1916.23L375.62,1929.13L359.82,1929.13Z" fill="#fff" stroke="#008080" stroke-width="1.3" stroke-linejoin="miter"/>
<path d="M379.19,1914.82L387.09,1927.72L371.29,1927.72Z" fill="#fff" stroke="#008080" stroke-width="1.3" stroke-linejoin="miter"/>
<path d="M390.66,1913.46L398.56,1926.36L382.76,1926.36Z" fill="#fff" stroke="#008080" stroke-width="1.3" stroke-linejoin="miter"/>
<path d="M402.13,1912.15L410.03,1925.05L394.23,1925.05Z" fill="#fff" stroke="#008080" stroke-width="1.3" stroke-linejoin="miter"/>
<path d="M413.60,1910.89L421.50,1923.79L405.70,1923.79Z" fill="#fff" stroke="#008080" stroke-width="1.3" stroke-linejoin="miter"/>
<path d="M425.06,1909.67L432.96,1922.57L417.16,1922.57Z" fill="#fff" stroke="#008080" stroke-width="1.3" stroke-linejoin="miter"/>
<path d="M436.53,1908.49L444.43,1921.39L428.63,1921.39Z" fill="#fff" stroke="#008080" stroke-width="1.3" stroke-linejoin="miter"/>
<path d="M448.00,1907.32L455.90,1920.22L440.10,1920.22Z" fill="#fff" stroke="#008080" stroke-width="1.3" stroke-linejoin="miter"/>
<path d="M459.47,1906.11L467.37,1919.01L451.57,1919.01Z" fill="#fff" stroke="#008080" stroke-width="1.3" stroke-linejoin="miter"/>
<path d="M470.93,1904.86L478.83,1917.76L463.03,1917.76Z" fill="#fff" stroke="#008080" stroke-width="1.3" stroke-linejoin="miter"/>
<path d="M482.40,1903.57L490.30,1916.47L474.50,1916.47Z" fill="#fff" stroke="#008080" stroke-width="1.3" stroke-linejoin="miter"/>
<path d="M493.87,1902.21L501.77,1915.11L485.97,1915.11Z" fill="#fff" stroke="#008080" stroke-width="1.3" stroke-linejoin="miter"/>
<path d="M505.34,1900.58L513.24,1913.48L497.44,1913.48Z" fill="#fff" stroke="#008080" stroke-width="1.3" stroke-linejoin="miter"/>
<path d="M516.81,1898.97L524.71,1911.87L508.91,1911.87Z" fill="#fff" stroke="#008080" stroke-width="1.3" stroke-linejoin="miter"/>
<path d="M528.27,1897.70L536.17,1910.60L520.37,1910.60Z" fill="#fff" stroke="#008080" stroke-width="1.3" stroke-linejoin="miter"/>
<path d="M539.74,1896.43L547.64,1909.33L531.84,1909.33Z" fill="#fff" stroke="#008080" stroke-width="1.3" stroke-linejoin="miter"/>
<path d="M551.21,1894.96L559.11,1907.86L543.31,1907.86Z" fill="#fff" stroke="#008080" stroke-width="1.3" stroke-linejoin="miter"/>
<path d="M562.68,1893.49L570.58,1906.39L554.78,1906.39Z" fill="#fff" stroke="#008080" stroke-width="1.3" stroke-linejoin="miter"/>
<path d="M574.14,1892.16L582.04,1905.06L566.24,1905.06Z" fill="#fff" stroke="#008080" stroke-width="1.3" stroke-linejoin="miter"/>
<path d="M585.61,1890.86L593.51,1903.76L577.71,1903.76Z" fill="#fff" stroke="#008080" stroke-width="1.3" stroke-linejoin="miter"/>
<path d="M597.08,1889.52L604.98,1902.42L589.18,1902.42Z" fill="#fff" stroke="#008080" stroke-width="1.3" stroke-linejoin="miter"/>
<path d="M608.55,1888.12L616.45,1901.02L600.65,1901.02Z" fill="#fff" stroke="#008080" stroke-width="1.3" stroke-linejoin="miter"/>
<path d="M620.01,1886.61L627.91,1899.51L612.11,1899.51Z" fill="#fff" stroke="#008080" stroke-width="1.3" stroke-linejoin="miter"/>
<path d="M631.48,1884.98L639.38,1897.88L623.58,1897.88Z" fill="#fff" stroke="#008080" stroke-width="1.3" stroke-linejoin="miter"/>
<path d="M642.95,1883.15L650.85,1896.05L635.05,1896.05Z" fill="#fff" stroke="#008080" stroke-width="1.3" stroke-linejoin="miter"/>
<path d="M654.42,1881.17L662.32,1894.07L646.52,1894.07Z" fill="#fff" stroke="#008080" stroke-width="1.3" stroke-linejoin="miter"/>
<path d="M665.89,1879.29L673.79,1892.19L657.99,1892.19Z" fill="#fff" stroke="#008080" stroke-width="1.3" stroke-linejoin="miter"/>
<path d="M677.35,1877.28L685.25,1890.18L669.45,1890.18Z" fill="#fff" stroke="#008080" stroke-width="1.3" stroke-linejoin="miter"/>
<path d="M688.82,1874.96L696.72,1887.86L680.92,1887.86Z" fill="#fff" stroke="#008080" stroke-width="1.3" stroke-linejoin="miter"/>
<path d="M700.29,1871.87L708.19,1884.77L692.39,1884.77Z" fill="#fff" stroke="#008080" stroke-width="1.3" stroke-linejoin="miter"/>
<path d="M711.76,1866.20L719.66,1879.10L703.86,1879.10Z" fill="#fff" stroke="#008080" stroke-width="1.3" stroke-linejoin="miter"/>
<path d="M723.22,1858.46L731.12,1871.36L715.32,1871.36Z" fill="#fff" stroke="#008080" stroke-width="1.3" stroke-linejoin="miter"/>
<path d="M734.69,1848.81L742.59,1861.71L726.79,1861.71Z" fill="#fff" stroke="#008080" stroke-width="1.3" stroke-linejoin="miter"/>
<path d="M746.16,1837.55L754.06,1850.45L738.26,1850.45Z" fill="#fff" stroke="#008080" stroke-width="1.3" stroke-linejoin="miter"/>
<path d="M757.63,1825.47L765.53,1838.37L749.73,1838.37Z" fill="#fff" stroke="#008080" stroke-width="1.3" stroke-linejoin="miter"/>
<path d="M769.10,1810.33L777.00,1823.23L761.20,1823.23Z" fill="#fff" stroke="#008080" stroke-width="1.3" stroke-linejoin="miter"/>
<path d="M780.56,1793.69L788.46,1806.59L772.66,1806.59Z" fill="#fff" stroke="#008080" stroke-width="1.3" stroke-linejoin="miter"/>
<path d="M792.03,1775.73L799.93,1788.63L784.13,1788.63Z" fill="#fff" stroke="#008080" stroke-width="1.3" stroke-linejoin="miter"/>
<path d="M803.50,1755.41L811.40,1768.31L795.60,1768.31Z" fill="#fff" stroke="#008080" stroke-width="1.3" stroke-linejoin="miter"/>
<path d="M814.97,1734.96L822.87,1747.86L807.07,1747.86Z" fill="#fff" stroke="#008080" stroke-width="1.3" stroke-linejoin="miter"/>
<path d="M826.43,1712.30L834.33,1725.20L818.53,1725.20Z" fill="#fff" stroke="#008080" stroke-width="1.3" stroke-linejoin="miter"/>
<path d="M837.90,1691.07L845.80,1703.97L830.00,1703.97Z" fill="#fff" stroke="#008080" stroke-width="1.3" stroke-linejoin="miter"/>
<path d="M849.37,1668.38L857.27,1681.28L841.47,1681.28Z" fill="#fff" stroke="#008080" stroke-width="1.3" stroke-linejoin="miter"/>
<path d="M860.84,1645.69L868.74,1658.59L852.94,1658.59Z" fill="#fff" stroke="#008080" stroke-width="1.3" stroke-linejoin="miter"/>
<path d="M872.31,1621.81L880.21,1634.71L864.41,1634.71Z" fill="#fff" stroke="#008080" stroke-width="1.3" stroke-linejoin="miter"/>
<path d="M883.77,1597.92L891.67,1610.82L875.87,1610.82Z" fill="#fff" stroke="#008080" stroke-width="1.3" stroke-linejoin="miter"/>
<polyline points="109.70,2210.00 121.17,2190.70 132.64,2165.82 144.10,2143.65 155.57,2123.28 167.04,2103.95 178.51,2083.31 189.97,2066.71 201.44,2051.91 212.91,2040.10 224.38,2031.31 235.85,2027.04 247.31,2027.87 258.78,2032.72 270.25,2043.78 281.72,2058.66 293.18,2074.80 304.65,2088.32 316.12,2098.89 327.59,2106.16 339.05,2113.07 350.52,2117.01 361.99,2119.39 373.46,2120.38 384.93,2121.47 396.39,2122.46 407.86,2123.91 419.33,2126.53 430.80,2129.69 442.26,2132.44 453.73,2134.02 465.20,2134.69 476.67,2134.11 488.14,2132.05 499.60,2129.61 511.07,2124.83 522.54,2119.68 534.01,2114.95 545.47,2111.15 556.94,2105.60 568.41,2101.98 579.88,2098.38 591.35,2095.06 602.81,2092.58 614.28,2090.40 625.75,2088.24 637.22,2085.98 648.68,2083.14 660.15,2071.61 671.62,2051.71 683.09,2028.01 694.56,2005.38 706.02,1982.62 717.49,1960.49 728.96,1934.63 740.43,1911.98 751.89,1887.16 763.36,1862.34 774.83,1837.87 786.30,1813.73 797.76,1789.92 809.23,1765.12 820.70,1740.54 832.17,1716.72 843.64,1692.17 855.10,1668.35 866.57,1643.38 878.04,1617.98 889.51,1594.00 900.97,1571.49 912.44,1550.58 923.91,1531.36" fill="none" stroke="#008080" stroke-width="1.2"/>
<path d="M109.70,2200.10L118.50,2215.00L100.90,2215.00Z" fill="#008080"/>
<path d="M121.17,2180.80L129.97,2195.70L112.37,2195.70Z" fill="#008080"/>
<path d="M132.64,2155.92L141.44,2170.82L123.84,2170.82Z" fill="#008080"/>
<path d="M144.10,2133.75L152.90,2148.65L135.30,2148.65Z" fill="#008080"/>
<path d="M155.57,2113.38L164.37,2128.28L146.77,2128.28Z" fill="#008080"/>
<path d="M167.04,2094.05L175.84,2108.95L158.24,2108.95Z" fill="#008080"/>
<path d="M178.51,2073.41L187.31,2088.31L169.71,2088.31Z" fill="#008080"/>
<path d="M189.97,2056.81L198.77,2071.71L181.17,2071.71Z" fill="#008080"/>
<path d="M201.44,2042.01L210.24,2056.91L192.64,2056.91Z" fill="#008080"/>
<path d="M212.91,2030.20L221.71,2045.10L204.11,2045.10Z" fill="#008080"/>
<path d="M224.38,2021.41L233.18,2036.31L215.58,2036.31Z" fill="#008080"/>
<path d="M235.85,2017.14L244.65,2032.04L227.05,2032.04Z" fill="#008080"/>
<path d="M247.31,2017.97L256.11,2032.87L238.51,2032.87Z" fill="#008080"/>
<path d="M258.78,2022.82L267.58,2037.72L249.98,2037.72Z" fill="#008080"/>
<path d="M270.25,2033.88L279.05,2048.78L261.45,2048.78Z" fill="#008080"/>
<path d="M281.72,2048.76L290.52,2063.66L272.92,2063.66Z" fill="#008080"/>
<path d="M293.18,2064.90L301.98,2079.80L284.38,2079.80Z" fill="#008080"/>
<path d="M304.65,2078.42L313.45,2093.32L295.85,2093.32Z" fill="#008080"/>
<path d="M316.12,2088.99L324.92,2103.89L307.32,2103.89Z" fill="#008080"/>
<path d="M327.59,2096.26L336.39,2111.16L318.79,2111.16Z" fill="#008080"/>
<path d="M339.05,2103.17L347.85,2118.07L330.25,2118.07Z" fill="#008080"/>
<path d="M350.52,2107.11L359.32,2122.01L341.72,2122.01Z" fill="#008080"/>
<path d="M361.99,2109.49L370.79,2124.39L353.19,2124.39Z" fill="#008080"/>
<path d="M373.46,2110.48L382.26,2125.38L364.66,2125.38Z" fill="#008080"/>
<path d="M384.93,2111.57L393.73,2126.47L376.13,2126.47Z" fill="#008080"/>
<path d="M396.39,2112.56L405.19,2127.46L387.59,2127.46Z" fill="#008080"/>
<path d="M407.86,2114.01L416.66,2128.91L399.06,2128.91Z" fill="#008080"/>
<path d="M419.33,2116.63L428.13,2131.53L410.53,2131.53Z" fill="#008080"/>
<path d="M430.80,2119.79L439.60,2134.69L422.00,2134.69Z" fill="#008080"/>
<path d="M442.26,2122.54L451.06,2137.44L433.46,2137.44Z" fill="#008080"/>
<path d="M453.73,2124.12L462.53,2139.02L444.93,2139.02Z" fill="#008080"/>
<path d="M465.20,2124.79L474.00,2139.69L456.40,2139.69Z" fill="#008080"/>
<path d="M476.67,2124.21L485.47,2139.11L467.87,2139.11Z" fill="#008080"/>
<path d="M488.14,2122.15L496.94,2137.05L479.34,2137.05Z" fill="#008080"/>
<path d="M499.60,2119.71L508.40,2134.61L490.80,2134.61Z" fill="#008080"/>
<path d="M511.07,2114.93L519.87,2129.83L502.27,2129.83Z" fill="#008080"/>
<path d="M522.54,2109.78L531.34,2124.68L513.74,2124.68Z" fill="#008080"/>
<path d="M534.01,2105.05L542.81,2119.95L525.21,2119.95Z" fill="#008080"/>
<path d="M545.47,2101.25L554.27,2116.15L536.67,2116.15Z" fill="#008080"/>
<path d="M556.94,2095.70L565.74,2110.60L548.14,2110.60Z" fill="#008080"/>
<path d="M568.41,2092.08L577.21,2106.98L559.61,2106.98Z" fill="#008080"/>
<path d="M579.88,2088.48L588.68,2103.38L571.08,2103.38Z" fill="#008080"/>
<path d="M591.35,2085.16L600.15,2100.06L582.55,2100.06Z" fill="#008080"/>
<path d="M602.81,2082.68L611.61,2097.58L594.01,2097.58Z" fill="#008080"/>
<path d="M614.28,2080.50L623.08,2095.40L605.48,2095.40Z" fill="#008080"/>
<path d="M625.75,2078.34L634.55,2093.24L616.95,2093.24Z" fill="#008080"/>
<path d="M637.22,2076.08L646.02,2090.98L628.42,2090.98Z" fill="#008080"/>
<path d="M648.68,2073.24L657.48,2088.14L639.88,2088.14Z" fill="#008080"/>
<path d="M660.15,2061.71L668.95,2076.61L651.35,2076.61Z" fill="#008080"/>
<path d="M671.62,2041.81L680.42,2056.71L662.82,2056.71Z" fill="#008080"/>
<path d="M683.09,2018.11L691.89,2033.01L674.29,2033.01Z" fill="#008080"/>
<path d="M694.56,1995.48L703.36,2010.38L685.76,2010.38Z" fill="#008080"/>
<path d="M706.02,1972.72L714.82,1987.62L697.22,1987.62Z" fill="#008080"/>
<path d="M717.49,1950.59L726.29,1965.49L708.69,1965.49Z" fill="#008080"/>
<path d="M728.96,1924.73L737.76,1939.63L720.16,1939.63Z" fill="#008080"/>
<path d="M740.43,1902.08L749.23,1916.98L731.63,1916.98Z" fill="#008080"/>
<path d="M751.89,1877.26L760.69,1892.16L743.09,1892.16Z" fill="#008080"/>
<path d="M763.36,1852.44L772.16,1867.34L754.56,1867.34Z" fill="#008080"/>
<path d="M774.83,1827.97L783.63,1842.87L766.03,1842.87Z" fill="#008080"/>
<path d="M786.30,1803.83L795.10,1818.73L777.50,1818.73Z" fill="#008080"/>
<path d="M797.76,1780.02L806.56,1794.92L788.96,1794.92Z" fill="#008080"/>
<path d="M809.23,1755.22L818.03,1770.12L800.43,1770.12Z" fill="#008080"/>
<path d="M820.70,1730.64L829.50,1745.54L811.90,1745.54Z" fill="#008080"/>
<path d="M832.17,1706.82L840.97,1721.72L823.37,1721.72Z" fill="#008080"/>
<path d="M843.64,1682.27L852.44,1697.17L834.84,1697.17Z" fill="#008080"/>
<path d="M855.10,1658.45L863.90,1673.35L846.30,1673.35Z" fill="#008080"/>
<path d="M866.57,1633.48L875.37,1648.38L857.77,1648.38Z" fill="#008080"/>
<path d="M878.04,1608.08L886.84,1622.98L869.24,1622.98Z" fill="#008080"/>
<path d="M115.43,2190.62L117.44,2195.45L122.66,2195.87L118.69,2199.28L119.90,2204.37L115.43,2201.64L110.97,2204.37L112.18,2199.28L108.21,2195.87L113.42,2195.45Z" fill="#fff" stroke="#0000ff" stroke-width="1.2" stroke-linejoin="miter"/>
<path d="M126.90,2167.48L128.91,2172.31L134.13,2172.73L130.15,2176.14L131.37,2181.23L126.90,2178.50L122.43,2181.23L123.65,2176.14L119.67,2172.73L124.89,2172.31Z" fill="#fff" stroke="#0000ff" stroke-width="1.2" stroke-linejoin="miter"/>
<path d="M138.37,2143.45L140.38,2148.29L145.60,2148.70L141.62,2152.11L142.84,2157.20L138.37,2154.47L133.90,2157.20L135.12,2152.11L131.14,2148.70L136.36,2148.29Z" fill="#fff" stroke="#0000ff" stroke-width="1.2" stroke-linejoin="miter"/>
<path d="M149.84,2120.53L151.85,2125.36L157.07,2125.78L153.09,2129.18L154.30,2134.28L149.84,2131.55L145.37,2134.28L146.58,2129.18L142.61,2125.78L147.83,2125.36Z" fill="#fff" stroke="#0000ff" stroke-width="1.2" stroke-linejoin="miter"/>
<path d="M161.30,2098.79L163.32,2103.62L168.53,2104.04L164.56,2107.45L165.77,2112.54L161.30,2109.81L156.84,2112.54L158.05,2107.45L154.08,2104.04L159.29,2103.62Z" fill="#fff" stroke="#0000ff" stroke-width="1.2" stroke-linejoin="miter"/>
<path d="M172.77,2074.67L174.78,2079.50L180.00,2079.92L176.03,2083.32L177.24,2088.41L172.77,2085.69L168.31,2088.41L169.52,2083.32L165.54,2079.92L170.76,2079.50Z" fill="#fff" stroke="#0000ff" stroke-width="1.2" stroke-linejoin="miter"/>
<path d="M184.24,2053.05L186.25,2057.89L191.47,2058.31L187.49,2061.71L188.71,2066.80L184.24,2064.07L179.77,2066.80L180.99,2061.71L177.01,2058.31L182.23,2057.89Z" fill="#fff" stroke="#0000ff" stroke-width="1.2" stroke-linejoin="miter"/>
<path d="M195.71,2032.56L197.72,2037.39L202.94,2037.81L198.96,2041.21L200.18,2046.31L195.71,2043.58L191.24,2046.31L192.46,2041.21L188.48,2037.81L193.70,2037.39Z" fill="#fff" stroke="#0000ff" stroke-width="1.2" stroke-linejoin="miter"/>
<path d="M207.18,2013.02L209.19,2017.86L214.40,2018.28L210.43,2021.68L211.64,2026.77L207.18,2024.04L202.71,2026.77L203.92,2021.68L199.95,2018.28L205.17,2017.86Z" fill="#fff" stroke="#0000ff" stroke-width="1.2" stroke-linejoin="miter"/>
<path d="M218.64,1995.91L220.65,2000.75L225.87,2001.17L221.90,2004.57L223.11,2009.66L218.64,2006.93L214.18,2009.66L215.39,2004.57L211.42,2001.17L216.63,2000.75Z" fill="#fff" stroke="#0000ff" stroke-width="1.2" stroke-linejoin="miter"/>
<path d="M230.11,1979.97L232.12,1984.80L237.34,1985.22L233.36,1988.63L234.58,1993.72L230.11,1990.99L225.64,1993.72L226.86,1988.63L222.88,1985.22L228.10,1984.80Z" fill="#fff" stroke="#0000ff" stroke-width="1.2" stroke-linejoin="miter"/>
<path d="M241.58,1966.28L243.59,1971.11L248.81,1971.53L244.83,1974.94L246.05,1980.03L241.58,1977.30L237.11,1980.03L238.33,1974.94L234.35,1971.53L239.57,1971.11Z" fill="#fff" stroke="#0000ff" stroke-width="1.2" stroke-linejoin="miter"/>
<path d="M253.05,1953.67L255.06,1958.50L260.27,1958.92L256.30,1962.33L257.51,1967.42L253.05,1964.69L248.58,1967.42L249.79,1962.33L245.82,1958.92L251.04,1958.50Z" fill="#fff" stroke="#0000ff" stroke-width="1.2" stroke-linejoin="miter"/>
<path d="M264.51,1944.51L266.52,1949.35L271.74,1949.77L267.77,1953.17L268.98,1958.26L264.51,1955.53L260.05,1958.26L261.26,1953.17L257.29,1949.77L262.50,1949.35Z" fill="#fff" stroke="#0000ff" stroke-width="1.2" stroke-linejoin="miter"/>
<path d="M275.98,1936.51L277.99,1941.34L283.21,1941.76L279.23,1945.17L280.45,1950.26L275.98,1947.53L271.52,1950.26L272.73,1945.17L268.75,1941.76L273.97,1941.34Z" fill="#fff" stroke="#0000ff" stroke-width="1.2" stroke-linejoin="miter"/>
<path d="M287.45,1930.76L289.46,1935.59L294.68,1936.01L290.70,1939.42L291.92,1944.51L287.45,1941.78L282.98,1944.51L284.20,1939.42L280.22,1936.01L285.44,1935.59Z" fill="#fff" stroke="#0000ff" stroke-width="1.2" stroke-linejoin="miter"/>
<path d="M298.92,1926.79L300.93,1931.62L306.15,1932.04L302.17,1935.45L303.39,1940.54L298.92,1937.81L294.45,1940.54L295.67,1935.45L291.69,1932.04L296.91,1931.62Z" fill="#fff" stroke="#0000ff" stroke-width="1.2" stroke-linejoin="miter"/>
<path d="M310.39,1923.38L312.40,1928.21L317.61,1928.63L313.64,1932.03L314.85,1937.13L310.39,1934.40L305.92,1937.13L307.13,1932.03L303.16,1928.63L308.38,1928.21Z" fill="#fff" stroke="#0000ff" stroke-width="1.2" stroke-linejoin="miter"/>
<path d="M321.85,1920.90L323.86,1925.74L329.08,1926.16L325.11,1929.56L326.32,1934.65L321.85,1931.92L317.39,1934.65L318.60,1929.56L314.63,1926.16L319.84,1925.74Z" fill="#fff" stroke="#0000ff" stroke-width="1.2" stroke-linejoin="miter"/>
<path d="M333.32,1918.77L335.33,1923.60L340.55,1924.02L336.57,1927.43L337.79,1932.52L333.32,1929.79L328.85,1932.52L330.07,1927.43L326.09,1924.02L331.31,1923.60Z" fill="#fff" stroke="#0000ff" stroke-width="1.2" stroke-linejoin="miter"/>
<path d="M344.79,1916.64L346.80,1921.47L352.02,1921.89L348.04,1925.30L349.26,1930.39L344.79,1927.66L340.32,1930.39L341.54,1925.30L337.56,1921.89L342.78,1921.47Z" fill="#fff" stroke="#0000ff" stroke-width="1.2" stroke-linejoin="miter"/>
<path d="M356.26,1914.71L358.27,1919.54L363.48,1919.96L359.51,1923.37L360.72,1928.46L356.26,1925.73L351.79,1928.46L353.00,1923.37L349.03,1919.96L354.25,1919.54Z" fill="#fff" stroke="#0000ff" stroke-width="1.2" stroke-linejoin="miter"/>
<path d="M367.72,1913.13L369.73,1917.97L374.95,1918.38L370.98,1921.79L372.19,1926.88L367.72,1924.15L363.26,1926.88L364.47,1921.79L360.50,1918.38L365.71,1917.97Z" fill="#fff" stroke="#0000ff" stroke-width="1.2" stroke-linejoin="miter"/>
<path d="M379.19,1911.72L381.20,1916.56L386.42,1916.97L382.44,1920.38L383.66,1925.47L379.19,1922.74L374.72,1925.47L375.94,1920.38L371.96,1916.97L377.18,1916.56Z" fill="#fff" stroke="#0000ff" stroke-width="1.2" stroke-linejoin="miter"/>
<path d="M390.66,1910.36L392.67,1915.19L397.89,1915.61L393.91,1919.01L395.13,1924.11L390.66,1921.38L386.19,1924.11L387.41,1919.01L383.43,1915.61L388.65,1915.19Z" fill="#fff" stroke="#0000ff" stroke-width="1.2" stroke-linejoin="miter"/>
<path d="M402.13,1909.05L404.14,1913.89L409.36,1914.30L405.38,1917.71L406.59,1922.80L402.13,1920.07L397.66,1922.80L398.87,1917.71L394.90,1914.30L400.12,1913.89Z" fill="#fff" stroke="#0000ff" stroke-width="1.2" stroke-linejoin="miter"/>
<path d="M413.60,1907.79L415.61,1912.63L420.82,1913.04L416.85,1916.45L418.06,1921.54L413.60,1918.81L409.13,1921.54L410.34,1916.45L406.37,1913.04L411.59,1912.63Z" fill="#fff" stroke="#0000ff" stroke-width="1.2" stroke-linejoin="miter"/>
<path d="M425.06,1906.57L427.07,1911.41L432.29,1911.82L428.32,1915.23L429.53,1920.32L425.06,1917.59L420.60,1920.32L421.81,1915.23L417.84,1911.82L423.05,1911.41Z" fill="#fff" stroke="#0000ff" stroke-width="1.2" stroke-linejoin="miter"/>
<path d="M436.53,1905.39L438.54,1910.23L443.76,1910.64L439.78,1914.05L441.00,1919.14L436.53,1916.41L432.06,1919.14L433.28,1914.05L429.30,1910.64L434.52,1910.23Z" fill="#fff" stroke="#0000ff" stroke-width="1.2" stroke-linejoin="miter"/>
<path d="M448.00,1904.22L450.01,1909.05L455.23,1909.47L451.25,1912.88L452.47,1917.97L448.00,1915.24L443.53,1917.97L444.75,1912.88L440.77,1909.47L445.99,1909.05Z" fill="#fff" stroke="#0000ff" stroke-width="1.2" stroke-linejoin="miter"/>
<path d="M459.47,1903.01L461.48,1907.84L466.69,1908.26L462.72,1911.67L463.93,1916.76L459.47,1914.03L455.00,1916.76L456.21,1911.67L452.24,1908.26L457.46,1907.84Z" fill="#fff" stroke="#0000ff" stroke-width="1.2" stroke-linejoin="miter"/>
<path d="M470.93,1901.76L472.94,1906.60L478.16,1907.01L474.19,1910.42L475.40,1915.51L470.93,1912.78L466.47,1915.51L467.68,1910.42L463.71,1907.01L468.92,1906.60Z" fill="#fff" stroke="#0000ff" stroke-width="1.2" stroke-linejoin="miter"/>
<path d="M482.40,1900.47L484.41,1905.31L489.63,1905.73L485.65,1909.13L486.87,1914.22L482.40,1911.49L477.93,1914.22L479.15,1909.13L475.17,1905.73L480.39,1905.31Z" fill="#fff" stroke="#0000ff" stroke-width="1.2" stroke-linejoin="miter"/>
<path d="M493.87,1899.11L495.88,1903.94L501.10,1904.36L497.12,1907.76L498.34,1912.85L493.87,1910.13L489.40,1912.85L490.62,1907.76L486.64,1904.36L491.86,1903.94Z" fill="#fff" stroke="#0000ff" stroke-width="1.2" stroke-linejoin="miter"/>
<path d="M505.34,1897.50L507.35,1902.33L512.57,1902.75L508.59,1906.16L509.80,1911.25L505.34,1908.52L500.87,1911.25L502.08,1906.16L498.11,1902.75L503.33,1902.33Z" fill="#fff" stroke="#0000ff" stroke-width="1.2" stroke-linejoin="miter"/>
<path d="M516.81,1895.93L518.82,1900.76L524.03,1901.18L520.06,1904.58L521.27,1909.68L516.81,1906.95L512.34,1909.68L513.55,1904.58L509.58,1901.18L514.79,1900.76Z" fill="#fff" stroke="#0000ff" stroke-width="1.2" stroke-linejoin="miter"/>
<path d="M528.27,1894.70L530.28,1899.53L535.50,1899.95L531.53,1903.36L532.74,1908.45L528.27,1905.72L523.81,1908.45L525.02,1903.36L521.04,1899.95L526.26,1899.53Z" fill="#fff" stroke="#0000ff" stroke-width="1.2" stroke-linejoin="miter"/>
<path d="M539.74,1893.46L541.75,1898.30L546.97,1898.71L542.99,1902.12L544.21,1907.21L539.74,1904.48L535.27,1907.21L536.49,1902.12L532.51,1898.71L537.73,1898.30Z" fill="#fff" stroke="#0000ff" stroke-width="1.2" stroke-linejoin="miter"/>
<path d="M551.21,1892.03L553.22,1896.86L558.44,1897.28L554.46,1900.69L555.68,1905.78L551.21,1903.05L546.74,1905.78L547.96,1900.69L543.98,1897.28L549.20,1896.86Z" fill="#fff" stroke="#0000ff" stroke-width="1.2" stroke-linejoin="miter"/>
<path d="M562.68,1890.60L564.69,1895.44L569.90,1895.85L565.93,1899.26L567.14,1904.35L562.68,1901.62L558.21,1904.35L559.42,1899.26L555.45,1895.85L560.67,1895.44Z" fill="#fff" stroke="#0000ff" stroke-width="1.2" stroke-linejoin="miter"/>
<path d="M574.14,1889.31L576.15,1894.15L581.37,1894.56L577.40,1897.97L578.61,1903.06L574.14,1900.33L569.68,1903.06L570.89,1897.97L566.92,1894.56L572.13,1894.15Z" fill="#fff" stroke="#0000ff" stroke-width="1.2" stroke-linejoin="miter"/>
<path d="M585.61,1888.05L587.62,1892.88L592.84,1893.30L588.86,1896.70L590.08,1901.79L585.61,1899.07L581.14,1901.79L582.36,1896.70L578.38,1893.30L583.60,1892.88Z" fill="#fff" stroke="#0000ff" stroke-width="1.2" stroke-linejoin="miter"/>
<path d="M597.08,1886.74L599.09,1891.57L604.31,1891.99L600.33,1895.40L601.55,1900.49L597.08,1897.76L592.61,1900.49L593.83,1895.40L589.85,1891.99L595.07,1891.57Z" fill="#fff" stroke="#0000ff" stroke-width="1.2" stroke-linejoin="miter"/>
<path d="M608.55,1885.38L610.56,1890.21L615.78,1890.63L611.80,1894.04L613.01,1899.13L608.55,1896.40L604.08,1899.13L605.29,1894.04L601.32,1890.63L606.54,1890.21Z" fill="#fff" stroke="#0000ff" stroke-width="1.2" stroke-linejoin="miter"/>
<path d="M620.01,1883.91L622.03,1888.75L627.24,1889.17L623.27,1892.57L624.48,1897.66L620.01,1894.93L615.55,1897.66L616.76,1892.57L612.79,1889.17L618.00,1888.75Z" fill="#fff" stroke="#0000ff" stroke-width="1.2" stroke-linejoin="miter"/>
<path d="M631.48,1882.32L633.49,1887.16L638.71,1887.57L634.74,1890.98L635.95,1896.07L631.48,1893.34L627.02,1896.07L628.23,1890.98L624.25,1887.57L629.47,1887.16Z" fill="#fff" stroke="#0000ff" stroke-width="1.2" stroke-linejoin="miter"/>
<path d="M642.95,1880.52L644.96,1885.36L650.18,1885.77L646.20,1889.18L647.42,1894.27L642.95,1891.54L638.48,1894.27L639.70,1889.18L635.72,1885.77L640.94,1885.36Z" fill="#fff" stroke="#0000ff" stroke-width="1.2" stroke-linejoin="miter"/>
<path d="M654.42,1878.58L656.43,1883.42L661.65,1883.83L657.67,1887.24L658.89,1892.33L654.42,1889.60L649.95,1892.33L651.17,1887.24L647.19,1883.83L652.41,1883.42Z" fill="#fff" stroke="#0000ff" stroke-width="1.2" stroke-linejoin="miter"/>
<path d="M665.89,1876.72L667.90,1881.55L673.11,1881.97L669.14,1885.37L670.35,1890.47L665.89,1887.74L661.42,1890.47L662.63,1885.37L658.66,1881.97L663.88,1881.55Z" fill="#fff" stroke="#0000ff" stroke-width="1.2" stroke-linejoin="miter"/>
<path d="M677.35,1874.74L679.36,1879.57L684.58,1879.99L680.61,1883.40L681.82,1888.49L677.35,1885.76L672.89,1888.49L674.10,1883.40L670.13,1879.99L675.34,1879.57Z" fill="#fff" stroke="#0000ff" stroke-width="1.2" stroke-linejoin="miter"/>
<path d="M688.82,1872.43L690.83,1877.27L696.05,1877.68L692.07,1881.09L693.29,1886.18L688.82,1883.45L684.35,1886.18L685.57,1881.09L681.59,1877.68L686.81,1877.27Z" fill="#fff" stroke="#0000ff" stroke-width="1.2" stroke-linejoin="miter"/>
<path d="M700.29,1869.37L702.30,1874.20L707.52,1874.62L703.54,1878.03L704.76,1883.12L700.29,1880.39L695.82,1883.12L697.04,1878.03L693.06,1874.62L698.28,1874.20Z" fill="#fff" stroke="#0000ff" stroke-width="1.2" stroke-linejoin="miter"/>
<path d="M711.76,1863.72L713.77,1868.56L718.98,1868.98L715.01,1872.38L716.22,1877.47L711.76,1874.74L707.29,1877.47L708.50,1872.38L704.53,1868.98L709.75,1868.56Z" fill="#fff" stroke="#0000ff" stroke-width="1.2" stroke-linejoin="miter"/>
<path d="M723.22,1856.01L725.23,1860.84L730.45,1861.26L726.48,1864.66L727.69,1869.75L723.22,1867.03L718.76,1869.75L719.97,1864.66L716.00,1861.26L721.21,1860.84Z" fill="#fff" stroke="#0000ff" stroke-width="1.2" stroke-linejoin="miter"/>
<path d="M734.69,1846.38L736.70,1851.21L741.92,1851.63L737.94,1855.04L739.16,1860.13L734.69,1857.40L730.23,1860.13L731.44,1855.04L727.46,1851.63L732.68,1851.21Z" fill="#fff" stroke="#0000ff" stroke-width="1.2" stroke-linejoin="miter"/>
<path d="M746.16,1835.14L748.17,1839.98L753.39,1840.40L749.41,1843.80L750.63,1848.89L746.16,1846.16L741.69,1848.89L742.91,1843.80L738.93,1840.40L744.15,1839.98Z" fill="#fff" stroke="#0000ff" stroke-width="1.2" stroke-linejoin="miter"/>
<path d="M757.63,1823.08L759.64,1827.92L764.86,1828.34L760.88,1831.74L762.09,1836.83L757.63,1834.10L753.16,1836.83L754.38,1831.74L750.40,1828.34L755.62,1827.92Z" fill="#fff" stroke="#0000ff" stroke-width="1.2" stroke-linejoin="miter"/>
<path d="M769.10,1807.97L771.11,1812.80L776.32,1813.22L772.35,1816.63L773.56,1821.72L769.10,1818.99L764.63,1821.72L765.84,1816.63L761.87,1813.22L767.09,1812.80Z" fill="#fff" stroke="#0000ff" stroke-width="1.2" stroke-linejoin="miter"/>
<path d="M780.56,1791.35L782.57,1796.19L787.79,1796.61L783.82,1800.01L785.03,1805.10L780.56,1802.37L776.10,1805.10L777.31,1800.01L773.34,1796.61L778.55,1796.19Z" fill="#fff" stroke="#0000ff" stroke-width="1.2" stroke-linejoin="miter"/>
<path d="M792.03,1773.42L794.04,1778.25L799.26,1778.67L795.28,1782.07L796.50,1787.16L792.03,1784.44L787.56,1787.16L788.78,1782.07L784.80,1778.67L790.02,1778.25Z" fill="#fff" stroke="#0000ff" stroke-width="1.2" stroke-linejoin="miter"/>
<path d="M803.50,1753.12L805.51,1757.95L810.73,1758.37L806.75,1761.78L807.97,1766.87L803.50,1764.14L799.03,1766.87L800.25,1761.78L796.27,1758.37L801.49,1757.95Z" fill="#fff" stroke="#0000ff" stroke-width="1.2" stroke-linejoin="miter"/>
<path d="M814.97,1732.69L816.98,1737.53L822.19,1737.94L818.22,1741.35L819.43,1746.44L814.97,1743.71L810.50,1746.44L811.71,1741.35L807.74,1737.94L812.96,1737.53Z" fill="#fff" stroke="#0000ff" stroke-width="1.2" stroke-linejoin="miter"/>
<path d="M826.43,1710.05L828.44,1714.88L833.66,1715.30L829.69,1718.71L830.90,1723.80L826.43,1721.07L821.97,1723.80L823.18,1718.71L819.21,1715.30L824.42,1714.88Z" fill="#fff" stroke="#0000ff" stroke-width="1.2" stroke-linejoin="miter"/>
<path d="M837.90,1688.85L839.91,1693.68L845.13,1694.10L841.15,1697.50L842.37,1702.59L837.90,1699.87L833.43,1702.59L834.65,1697.50L830.67,1694.10L835.89,1693.68Z" fill="#fff" stroke="#0000ff" stroke-width="1.2" stroke-linejoin="miter"/>
<path d="M849.37,1666.18L851.38,1671.01L856.60,1671.43L852.62,1674.83L853.84,1679.93L849.37,1677.20L844.90,1679.93L846.12,1674.83L842.14,1671.43L847.36,1671.01Z" fill="#fff" stroke="#0000ff" stroke-width="1.2" stroke-linejoin="miter"/>
<path d="M860.84,1643.52L862.85,1648.35L868.07,1648.77L864.09,1652.17L865.30,1657.26L860.84,1654.54L856.37,1657.26L857.58,1652.17L853.61,1648.77L858.83,1648.35Z" fill="#fff" stroke="#0000ff" stroke-width="1.2" stroke-linejoin="miter"/>
<path d="M872.31,1619.66L874.32,1624.49L879.53,1624.91L875.56,1628.31L876.77,1633.41L872.31,1630.68L867.84,1633.41L869.05,1628.31L865.08,1624.91L870.30,1624.49Z" fill="#fff" stroke="#0000ff" stroke-width="1.2" stroke-linejoin="miter"/>
<path d="M883.77,1595.79L885.78,1600.62L891.00,1601.04L887.03,1604.45L888.24,1609.54L883.77,1606.81L879.31,1609.54L880.52,1604.45L876.54,1601.04L881.76,1600.62Z" fill="#fff" stroke="#0000ff" stroke-width="1.2" stroke-linejoin="miter"/>
<polyline points="109.70,2210.00 121.17,2190.70 132.64,2165.82 144.10,2143.65 155.57,2123.28 167.04,2103.66 178.51,2082.43 189.97,2064.76 201.44,2048.85 212.91,2035.68 224.38,2025.67 235.85,2020.25 247.31,2020.98 258.78,2026.52 270.25,2038.66 281.72,2055.28 293.18,2073.89 304.65,2088.69 316.12,2100.00 327.59,2106.75 339.05,2111.34 350.52,2113.71 361.99,2117.86 373.46,2123.05 384.93,2133.36 396.39,2143.83 407.86,2154.29 419.33,2161.89 430.80,2164.19 442.26,2162.34 453.73,2157.26 465.20,2152.15 476.67,2145.38 488.14,2139.04 499.60,2132.82 511.07,2126.59 522.54,2120.30 534.01,2116.05 545.47,2111.94 556.94,2108.37 568.41,2104.98 579.88,2101.38 591.35,2098.06 602.81,2095.58 614.28,2093.40 625.75,2091.24 637.22,2088.98 648.68,2086.14 660.15,2074.61 671.62,2054.71 683.09,2030.78 694.56,2007.29 706.02,1983.66 717.49,1960.68 728.96,1934.63 740.43,1911.98 751.89,1887.16 763.36,1862.34 774.83,1837.87 786.30,1813.73 797.76,1789.92 809.23,1765.12 820.70,1740.54 832.17,1716.72 843.64,1692.17 855.10,1668.35 866.57,1643.38 878.04,1617.98 889.51,1594.00 900.97,1571.49 912.44,1550.58 923.91,1531.36" fill="none" stroke="#0000ff" stroke-width="1.2"/>
<path d="M109.70,2201.40L111.97,2206.87L117.88,2207.34L113.38,2211.20L114.75,2216.96L109.70,2213.87L104.65,2216.96L106.02,2211.20L101.52,2207.34L107.43,2206.87Z" fill="#0000ff"/>
<path d="M121.17,2182.10L123.44,2187.57L129.35,2188.05L124.85,2191.90L126.22,2197.66L121.17,2194.57L116.11,2197.66L117.49,2191.90L112.99,2188.05L118.89,2187.57Z" fill="#0000ff"/>
<path d="M132.64,2157.22L134.91,2162.69L140.81,2163.16L136.32,2167.01L137.69,2172.77L132.64,2169.69L127.58,2172.77L128.95,2167.01L124.46,2163.16L130.36,2162.69Z" fill="#0000ff"/>
<path d="M144.10,2135.05L146.38,2140.52L152.28,2141.00L147.78,2144.85L149.16,2150.61L144.10,2147.52L139.05,2150.61L140.42,2144.85L135.92,2141.00L141.83,2140.52Z" fill="#0000ff"/>
<path d="M155.57,2114.68L157.85,2120.15L163.75,2120.62L159.25,2124.47L160.63,2130.23L155.57,2127.15L150.52,2130.23L151.89,2124.47L147.39,2120.62L153.30,2120.15Z" fill="#0000ff"/>
<path d="M167.04,2095.06L169.31,2100.53L175.22,2101.01L170.72,2104.86L172.09,2110.62L167.04,2107.53L161.98,2110.62L163.36,2104.86L158.86,2101.01L164.76,2100.53Z" fill="#0000ff"/>
<path d="M178.51,2073.83L180.78,2079.30L186.69,2079.77L182.19,2083.62L183.56,2089.38L178.51,2086.30L173.45,2089.38L174.83,2083.62L170.33,2079.77L176.23,2079.30Z" fill="#0000ff"/>
<path d="M189.97,2056.16L192.25,2061.63L198.15,2062.11L193.65,2065.96L195.03,2071.72L189.97,2068.63L184.92,2071.72L186.29,2065.96L181.80,2062.11L187.70,2061.63Z" fill="#0000ff"/>
<path d="M201.44,2040.25L203.72,2045.72L209.62,2046.19L205.12,2050.04L206.50,2055.81L201.44,2052.72L196.39,2055.81L197.76,2050.04L193.26,2046.19L199.17,2045.72Z" fill="#0000ff"/>
<path d="M212.91,2027.08L215.18,2032.55L221.09,2033.02L216.59,2036.88L217.96,2042.64L212.91,2039.55L207.85,2042.64L209.23,2036.88L204.73,2033.02L210.64,2032.55Z" fill="#0000ff"/>
<path d="M224.38,2017.07L226.65,2022.54L232.56,2023.01L228.06,2026.87L229.43,2032.63L224.38,2029.54L219.32,2032.63L220.70,2026.87L216.20,2023.01L222.10,2022.54Z" fill="#0000ff"/>
<path d="M235.85,2011.65L238.12,2017.12L244.02,2017.60L239.53,2021.45L240.90,2027.21L235.85,2024.12L230.79,2027.21L232.16,2021.45L227.67,2017.60L233.57,2017.12Z" fill="#0000ff"/>
<path d="M247.31,2012.38L249.59,2017.85L255.49,2018.32L250.99,2022.18L252.37,2027.94L247.31,2024.85L242.26,2027.94L243.63,2022.18L239.13,2018.32L245.04,2017.85Z" fill="#0000ff"/>
<path d="M258.78,2017.92L261.06,2023.39L266.96,2023.86L262.46,2027.71L263.84,2033.48L258.78,2030.39L253.73,2033.48L255.10,2027.71L250.60,2023.86L256.51,2023.39Z" fill="#0000ff"/>
<path d="M270.25,2030.06L272.52,2035.53L278.43,2036.00L273.93,2039.86L275.30,2045.62L270.25,2042.53L265.19,2045.62L266.57,2039.86L262.07,2036.00L267.97,2035.53Z" fill="#0000ff"/>
<path d="M281.72,2046.68L283.99,2052.15L289.90,2052.62L285.40,2056.48L286.77,2062.24L281.72,2059.15L276.66,2062.24L278.04,2056.48L273.54,2052.62L279.44,2052.15Z" fill="#0000ff"/>
<path d="M293.18,2065.29L295.46,2070.75L301.36,2071.23L296.86,2075.08L298.24,2080.84L293.18,2077.76L288.13,2080.84L289.50,2075.08L285.00,2071.23L290.91,2070.75Z" fill="#0000ff"/>
<path d="M304.65,2080.09L306.93,2085.56L312.83,2086.04L308.33,2089.89L309.71,2095.65L304.65,2092.56L299.60,2095.65L300.97,2089.89L296.47,2086.04L302.38,2085.56Z" fill="#0000ff"/>
<path d="M316.12,2091.40L318.39,2096.87L324.30,2097.35L319.80,2101.20L321.17,2106.96L316.12,2103.87L311.06,2106.96L312.44,2101.20L307.94,2097.35L313.84,2096.87Z" fill="#0000ff"/>
<path d="M327.59,2098.15L329.86,2103.62L335.77,2104.09L331.27,2107.95L332.64,2113.71L327.59,2110.62L322.53,2113.71L323.91,2107.95L319.41,2104.09L325.31,2103.62Z" fill="#0000ff"/>
<path d="M339.05,2102.74L341.33,2108.21L347.23,2108.68L342.74,2112.53L344.11,2118.30L339.05,2115.21L334.00,2118.30L335.37,2112.53L330.88,2108.68L336.78,2108.21Z" fill="#0000ff"/>
<path d="M350.52,2105.11L352.80,2110.57L358.70,2111.05L354.20,2114.90L355.58,2120.66L350.52,2117.58L345.47,2120.66L346.84,2114.90L342.34,2111.05L348.25,2110.57Z" fill="#0000ff"/>
<path d="M361.99,2109.26L364.27,2114.72L370.17,2115.20L365.67,2119.05L367.05,2124.81L361.99,2121.73L356.94,2124.81L358.31,2119.05L353.81,2115.20L359.72,2114.72Z" fill="#0000ff"/>
<path d="M373.46,2114.45L375.73,2119.92L381.64,2120.40L377.14,2124.25L378.51,2130.01L373.46,2126.92L368.40,2130.01L369.78,2124.25L365.28,2120.40L371.18,2119.92Z" fill="#0000ff"/>
<path d="M384.93,2124.76L387.20,2130.23L393.11,2130.70L388.61,2134.55L389.98,2140.31L384.93,2137.23L379.87,2140.31L381.25,2134.55L376.75,2130.70L382.65,2130.23Z" fill="#0000ff"/>
<path d="M396.39,2135.23L398.67,2140.70L404.57,2141.17L400.07,2145.03L401.45,2150.79L396.39,2147.70L391.34,2150.79L392.71,2145.03L388.21,2141.17L394.12,2140.70Z" fill="#0000ff"/>
<path d="M407.86,2145.69L410.14,2151.16L416.04,2151.63L411.54,2155.49L412.92,2161.25L407.86,2158.16L402.81,2161.25L404.18,2155.49L399.68,2151.63L405.59,2151.16Z" fill="#0000ff"/>
<path d="M419.33,2153.29L421.60,2158.76L427.51,2159.23L423.01,2163.08L424.38,2168.85L419.33,2165.76L414.27,2168.85L415.65,2163.08L411.15,2159.23L417.05,2158.76Z" fill="#0000ff"/>
<path d="M430.80,2155.59L433.07,2161.05L438.98,2161.53L434.48,2165.38L435.85,2171.14L430.80,2168.06L425.74,2171.14L427.12,2165.38L422.62,2161.53L428.52,2161.05Z" fill="#0000ff"/>
<path d="M442.26,2153.74L444.54,2159.21L450.44,2159.69L445.95,2163.54L447.32,2169.30L442.26,2166.21L437.21,2169.30L438.58,2163.54L434.09,2159.69L439.99,2159.21Z" fill="#0000ff"/>
<path d="M453.73,2148.66L456.01,2154.12L461.91,2154.60L457.41,2158.45L458.79,2164.21L453.73,2161.13L448.68,2164.21L450.05,2158.45L445.55,2154.60L451.46,2154.12Z" fill="#0000ff"/>
<path d="M465.20,2143.55L467.47,2149.02L473.38,2149.49L468.88,2153.35L470.26,2159.11L465.20,2156.02L460.15,2159.11L461.52,2153.35L457.02,2149.49L462.93,2149.02Z" fill="#0000ff"/>
<path d="M476.67,2136.78L478.94,2142.25L484.85,2142.72L480.35,2146.57L481.72,2152.33L476.67,2149.25L471.61,2152.33L472.99,2146.57L468.49,2142.72L474.39,2142.25Z" fill="#0000ff"/>
<path d="M488.14,2130.44L490.41,2135.91L496.31,2136.39L491.82,2140.24L493.19,2146.00L488.14,2142.91L483.08,2146.00L484.46,2140.24L479.96,2136.39L485.86,2135.91Z" fill="#0000ff"/>
<path d="M499.60,2124.22L501.88,2129.68L507.78,2130.16L503.28,2134.01L504.66,2139.77L499.60,2136.69L494.55,2139.77L495.92,2134.01L491.42,2130.16L497.33,2129.68Z" fill="#0000ff"/>
<path d="M511.07,2117.99L513.35,2123.46L519.25,2123.93L514.75,2127.78L516.13,2133.54L511.07,2130.46L506.02,2133.54L507.39,2127.78L502.89,2123.93L508.80,2123.46Z" fill="#0000ff"/>
<path d="M522.54,2111.70L524.81,2117.17L530.72,2117.64L526.22,2121.49L527.59,2127.25L522.54,2124.17L517.48,2127.25L518.86,2121.49L514.36,2117.64L520.26,2117.17Z" fill="#0000ff"/>
<path d="M534.01,2107.45L536.28,2112.92L542.19,2113.39L537.69,2117.24L539.06,2123.01L534.01,2119.92L528.95,2123.01L530.33,2117.24L525.83,2113.39L531.73,2112.92Z" fill="#0000ff"/>
<path d="M545.47,2103.34L547.75,2108.81L553.65,2109.28L549.16,2113.14L550.53,2118.90L545.47,2115.81L540.42,2118.90L541.79,2113.14L537.30,2109.28L543.20,2108.81Z" fill="#0000ff"/>
<path d="M556.94,2099.77L559.22,2105.24L565.12,2105.71L560.62,2109.56L562.00,2115.32L556.94,2112.24L551.89,2115.32L553.26,2109.56L548.76,2105.71L554.67,2105.24Z" fill="#0000ff"/>
<path d="M568.41,2096.38L570.68,2101.85L576.59,2102.32L572.09,2106.17L573.46,2111.93L568.41,2108.85L563.35,2111.93L564.73,2106.17L560.23,2102.32L566.14,2101.85Z" fill="#0000ff"/>
<path d="M579.88,2092.78L582.15,2098.25L588.06,2098.72L583.56,2102.58L584.93,2108.34L579.88,2105.25L574.82,2108.34L576.20,2102.58L571.70,2098.72L577.60,2098.25Z" fill="#0000ff"/>
<path d="M591.35,2089.46L593.62,2094.93L599.52,2095.40L595.03,2099.25L596.40,2105.02L591.35,2101.93L586.29,2105.02L587.66,2099.25L583.17,2095.40L589.07,2094.93Z" fill="#0000ff"/>
<path d="M602.81,2086.98L605.09,2092.44L610.99,2092.92L606.49,2096.77L607.87,2102.53L602.81,2099.45L597.76,2102.53L599.13,2096.77L594.63,2092.92L600.54,2092.44Z" fill="#0000ff"/>
<path d="M614.28,2084.80L616.56,2090.27L622.46,2090.74L617.96,2094.59L619.34,2100.36L614.28,2097.27L609.23,2100.36L610.60,2094.59L606.10,2090.74L612.01,2090.27Z" fill="#0000ff"/>
<path d="M625.75,2082.64L628.02,2088.11L633.93,2088.58L629.43,2092.44L630.80,2098.20L625.75,2095.11L620.69,2098.20L622.07,2092.44L617.57,2088.58L623.47,2088.11Z" fill="#0000ff"/>
<path d="M637.22,2080.38L639.49,2085.85L645.40,2086.32L640.90,2090.17L642.27,2095.93L637.22,2092.85L632.16,2095.93L633.54,2090.17L629.04,2086.32L634.94,2085.85Z" fill="#0000ff"/>
<path d="M648.68,2077.54L650.96,2083.01L656.86,2083.48L652.36,2087.34L653.74,2093.10L648.68,2090.01L643.63,2093.10L645.00,2087.34L640.51,2083.48L646.41,2083.01Z" fill="#0000ff"/>
<path d="M660.15,2066.01L662.43,2071.47L668.33,2071.95L663.83,2075.80L665.21,2081.56L660.15,2078.48L655.10,2081.56L656.47,2075.80L651.97,2071.95L657.88,2071.47Z" fill="#0000ff"/>
<path d="M671.62,2046.11L673.89,2051.58L679.80,2052.05L675.30,2055.91L676.67,2061.67L671.62,2058.58L666.56,2061.67L667.94,2055.91L663.44,2052.05L669.34,2051.58Z" fill="#0000ff"/>
<path d="M683.09,2022.18L685.36,2027.65L691.27,2028.12L686.77,2031.98L688.14,2037.74L683.09,2034.65L678.03,2037.74L679.41,2031.98L674.91,2028.12L680.81,2027.65Z" fill="#0000ff"/>
<path d="M694.56,1998.69L696.83,2004.16L702.73,2004.63L698.24,2008.48L699.61,2014.24L694.56,2011.16L689.50,2014.24L690.87,2008.48L686.38,2004.63L692.28,2004.16Z" fill="#0000ff"/>
<path d="M706.02,1975.06L708.30,1980.53L714.20,1981.01L709.70,1984.86L711.08,1990.62L706.02,1987.53L700.97,1990.62L702.34,1984.86L697.84,1981.01L703.75,1980.53Z" fill="#0000ff"/>
<path d="M717.49,1952.08L719.77,1957.55L725.67,1958.02L721.17,1961.88L722.55,1967.64L717.49,1964.55L712.44,1967.64L713.81,1961.88L709.31,1958.02L715.22,1957.55Z" fill="#0000ff"/>
<path d="M728.96,1926.03L731.23,1931.50L737.14,1931.97L732.64,1935.82L734.01,1941.58L728.96,1938.50L723.90,1941.58L725.28,1935.82L720.78,1931.97L726.68,1931.50Z" fill="#0000ff"/>
<path d="M740.43,1903.38L742.70,1908.85L748.61,1909.32L744.11,1913.18L745.48,1918.94L740.43,1915.85L735.37,1918.94L736.75,1913.18L732.25,1909.32L738.15,1908.85Z" fill="#0000ff"/>
<path d="M751.89,1878.56L754.17,1884.03L760.07,1884.51L755.57,1888.36L756.95,1894.12L751.89,1891.03L746.84,1894.12L748.21,1888.36L743.71,1884.51L749.62,1884.03Z" fill="#0000ff"/>
<path d="M763.36,1853.74L765.64,1859.21L771.54,1859.68L767.04,1863.54L768.42,1869.30L763.36,1866.21L758.31,1869.30L759.68,1863.54L755.18,1859.68L761.09,1859.21Z" fill="#0000ff"/>
<path d="M774.83,1829.27L777.10,1834.74L783.01,1835.22L778.51,1839.07L779.88,1844.83L774.83,1841.74L769.77,1844.83L771.15,1839.07L766.65,1835.22L772.55,1834.74Z" fill="#0000ff"/>
<path d="M786.30,1805.13L788.57,1810.60L794.48,1811.08L789.98,1814.93L791.35,1820.69L786.30,1817.60L781.24,1820.69L782.62,1814.93L778.12,1811.08L784.02,1810.60Z" fill="#0000ff"/>
<path d="M797.76,1781.32L800.04,1786.79L805.94,1787.26L801.45,1791.12L802.82,1796.88L797.76,1793.79L792.71,1796.88L794.08,1791.12L789.59,1787.26L795.49,1786.79Z" fill="#0000ff"/>
<path d="M809.23,1756.52L811.51,1761.99L817.41,1762.47L812.91,1766.32L814.29,1772.08L809.23,1768.99L804.18,1772.08L805.55,1766.32L801.05,1762.47L806.96,1761.99Z" fill="#0000ff"/>
<path d="M820.70,1731.94L822.98,1737.41L828.88,1737.89L824.38,1741.74L825.76,1747.50L820.70,1744.41L815.65,1747.50L817.02,1741.74L812.52,1737.89L818.43,1737.41Z" fill="#0000ff"/>
<path d="M832.17,1708.12L834.44,1713.59L840.35,1714.06L835.85,1717.92L837.22,1723.68L832.17,1720.59L827.11,1723.68L828.49,1717.92L823.99,1714.06L829.89,1713.59Z" fill="#0000ff"/>
<path d="M843.64,1683.57L845.91,1689.04L851.81,1689.51L847.32,1693.37L848.69,1699.13L843.64,1696.04L838.58,1699.13L839.96,1693.37L835.46,1689.51L841.36,1689.04Z" fill="#0000ff"/>
<path d="M855.10,1659.75L857.38,1665.22L863.28,1665.70L858.78,1669.55L860.16,1675.31L855.10,1672.22L850.05,1675.31L851.42,1669.55L846.92,1665.70L852.83,1665.22Z" fill="#0000ff"/>
<path d="M866.57,1634.78L868.85,1640.25L874.75,1640.73L870.25,1644.58L871.63,1650.34L866.57,1647.25L861.52,1650.34L862.89,1644.58L858.39,1640.73L864.30,1640.25Z" fill="#0000ff"/>
<path d="M878.04,1609.38L880.31,1614.85L886.22,1615.32L881.72,1619.17L883.09,1624.93L878.04,1621.85L872.98,1624.93L874.36,1619.17L869.86,1615.32L875.76,1614.85Z" fill="#0000ff"/>
</g>
<path d="M109.00,603.00v-11.4M109.00,5.20v11.4M131.13,603.00v-5.8M131.13,5.20v5.8M144.08,603.00v-5.8M144.08,5.20v5.8M153.27,603.00v-5.8M153.27,5.20v5.8M160.40,603.00v-5.8M160.40,5.20v5.8M166.22,603.00v-5.8M166.22,5.20v5.8M171.14,603.00v-5.8M171.14,5.20v5.8M175.40,603.00v-5.8M175.40,5.20v5.8M179.17,603.00v-5.8M179.17,5.20v5.8M182.53,603.00v-11.4M182.53,5.20v11.4M204.66,603.00v-5.8M204.66,5.20v5.8M217.61,603.00v-5.8M217.61,5.20v5.8M226.80,603.00v-5.8M226.80,5.20v5.8M233.93,603.00v-5.8M233.93,5.20v5.8M239.75,603.00v-5.8M239.75,5.20v5.8M244.67,603.00v-5.8M244.67,5.20v5.8M248.93,603.00v-5.8M248.93,5.20v5.8M252.70,603.00v-5.8M252.70,5.20v5.8M256.06,603.00v-11.4M256.06,5.20v11.4M278.19,603.00v-5.8M278.19,5.20v5.8M291.14,603.00v-5.8M291.14,5.20v5.8M300.33,603.00v-5.8M300.33,5.20v5.8M307.46,603.00v-5.8M307.46,5.20v5.8M313.28,603.00v-5.8M313.28,5.20v5.8M318.20,603.00v-5.8M318.20,5.20v5.8M322.46,603.00v-5.8M322.46,5.20v5.8M326.23,603.00v-5.8M326.23,5.20v5.8M329.59,603.00v-11.4M329.59,5.20v11.4M351.72,603.00v-5.8M351.72,5.20v5.8M364.67,603.00v-5.8M364.67,5.20v5.8M373.86,603.00v-5.8M373.86,5.20v5.8M380.99,603.00v-5.8M380.99,5.20v5.8M386.81,603.00v-5.8M386.81,5.20v5.8M391.73,603.00v-5.8M391.73,5.20v5.8M395.99,603.00v-5.8M395.99,5.20v5.8M399.76,603.00v-5.8M399.76,5.20v5.8M403.12,603.00v-11.4M403.12,5.20v11.4M425.25,603.00v-5.8M425.25,5.20v5.8M438.20,603.00v-5.8M438.20,5.20v5.8M447.39,603.00v-5.8M447.39,5.20v5.8M454.52,603.00v-5.8M454.52,5.20v5.8M460.34,603.00v-5.8M460.34,5.20v5.8M465.26,603.00v-5.8M465.26,5.20v5.8M469.52,603.00v-5.8M469.52,5.20v5.8M473.29,603.00v-5.8M473.29,5.20v5.8M476.65,603.00v-11.4M476.65,5.20v11.4M498.78,603.00v-5.8M498.78,5.20v5.8M511.73,603.00v-5.8M511.73,5.20v5.8M520.92,603.00v-5.8M520.92,5.20v5.8M528.05,603.00v-5.8M528.05,5.20v5.8M533.87,603.00v-5.8M533.87,5.20v5.8M538.79,603.00v-5.8M538.79,5.20v5.8M543.05,603.00v-5.8M543.05,5.20v5.8M546.82,603.00v-5.8M546.82,5.20v5.8M550.18,603.00v-11.4M550.18,5.20v11.4M572.31,603.00v-5.8M572.31,5.20v5.8M585.26,603.00v-5.8M585.26,5.20v5.8M594.45,603.00v-5.8M594.45,5.20v5.8M601.58,603.00v-5.8M601.58,5.20v5.8M607.40,603.00v-5.8M607.40,5.20v5.8M612.32,603.00v-5.8M612.32,5.20v5.8M616.58,603.00v-5.8M616.58,5.20v5.8M620.35,603.00v-5.8M620.35,5.20v5.8M623.71,603.00v-11.4M623.71,5.20v11.4M645.84,603.00v-5.8M645.84,5.20v5.8M658.79,603.00v-5.8M658.79,5.20v5.8M667.98,603.00v-5.8M667.98,5.20v5.8M675.11,603.00v-5.8M675.11,5.20v5.8M680.93,603.00v-5.8M680.93,5.20v5.8M685.85,603.00v-5.8M685.85,5.20v5.8M690.11,603.00v-5.8M690.11,5.20v5.8M693.88,603.00v-5.8M693.88,5.20v5.8M697.24,603.00v-11.4M697.24,5.20v11.4M719.37,603.00v-5.8M719.37,5.20v5.8M732.32,603.00v-5.8M732.32,5.20v5.8M741.51,603.00v-5.8M741.51,5.20v5.8M748.64,603.00v-5.8M748.64,5.20v5.8M754.46,603.00v-5.8M754.46,5.20v5.8M759.38,603.00v-5.8M759.38,5.20v5.8M763.64,603.00v-5.8M763.64,5.20v5.8M767.41,603.00v-5.8M767.41,5.20v5.8M770.77,603.00v-11.4M770.77,5.20v11.4M792.90,603.00v-5.8M792.90,5.20v5.8M805.85,603.00v-5.8M805.85,5.20v5.8M815.04,603.00v-5.8M815.04,5.20v5.8M822.17,603.00v-5.8M822.17,5.20v5.8M827.99,603.00v-5.8M827.99,5.20v5.8M832.91,603.00v-5.8M832.91,5.20v5.8M837.17,603.00v-5.8M837.17,5.20v5.8M840.94,603.00v-5.8M840.94,5.20v5.8M844.30,603.00v-11.4M844.30,5.20v11.4M866.43,603.00v-5.8M866.43,5.20v5.8M879.38,603.00v-5.8M879.38,5.20v5.8M888.57,603.00v-5.8M888.57,5.20v5.8M895.70,603.00v-5.8M895.70,5.20v5.8M901.52,603.00v-5.8M901.52,5.20v5.8M906.44,603.00v-5.8M906.44,5.20v5.8M910.70,603.00v-5.8M910.70,5.20v5.8M914.47,603.00v-5.8M914.47,5.20v5.8M917.83,603.00v-11.4M917.83,5.20v11.4M109.00,603.00h11.4M917.80,603.00h-11.4M109.00,567.83h5.8M917.80,567.83h-5.8M109.00,547.25h5.8M917.80,547.25h-5.8M109.00,532.66h5.8M917.80,532.66h-5.8M109.00,521.33h5.8M917.80,521.33h-5.8M109.00,512.08h5.8M917.80,512.08h-5.8M109.00,504.26h5.8M917.80,504.26h-5.8M109.00,497.48h5.8M917.80,497.48h-5.8M109.00,491.51h5.8M917.80,491.51h-5.8M109.00,486.16h11.4M917.80,486.16h-11.4M109.00,450.99h5.8M917.80,450.99h-5.8M109.00,430.41h5.8M917.80,430.41h-5.8M109.00,415.82h5.8M917.80,415.82h-5.8M109.00,404.49h5.8M917.80,404.49h-5.8M109.00,395.24h5.8M917.80,395.24h-5.8M109.00,387.42h5.8M917.80,387.42h-5.8M109.00,380.64h5.8M917.80,380.64h-5.8M109.00,374.67h5.8M917.80,374.67h-5.8M109.00,369.32h11.4M917.80,369.32h-11.4M109.00,334.15h5.8M917.80,334.15h-5.8M109.00,313.57h5.8M917.80,313.57h-5.8M109.00,298.98h5.8M917.80,298.98h-5.8M109.00,287.65h5.8M917.80,287.65h-5.8M109.00,278.40h5.8M917.80,278.40h-5.8M109.00,270.58h5.8M917.80,270.58h-5.8M109.00,263.80h5.8M917.80,263.80h-5.8M109.00,257.83h5.8M917.80,257.83h-5.8M109.00,252.48h11.4M917.80,252.48h-11.4M109.00,217.31h5.8M917.80,217.31h-5.8M109.00,196.73h5.8M917.80,196.73h-5.8M109.00,182.14h5.8M917.80,182.14h-5.8M109.00,170.81h5.8M917.80,170.81h-5.8M109.00,161.56h5.8M917.80,161.56h-5.8M109.00,153.74h5.8M917.80,153.74h-5.8M109.00,146.96h5.8M917.80,146.96h-5.8M109.00,140.99h5.8M917.80,140.99h-5.8M109.00,135.64h11.4M917.80,135.64h-11.4M109.00,100.47h5.8M917.80,100.47h-5.8M109.00,79.89h5.8M917.80,79.89h-5.8M109.00,65.30h5.8M917.80,65.30h-5.8M109.00,53.97h5.8M917.80,53.97h-5.8M109.00,44.72h5.8M917.80,44.72h-5.8M109.00,36.90h5.8M917.80,36.90h-5.8M109.00,30.12h5.8M917.80,30.12h-5.8M109.00,24.15h5.8M917.80,24.15h-5.8M109.00,18.80h11.4M917.80,18.80h-11.4" stroke="#000" stroke-width="2" fill="none"/>
<rect x="109.0" y="5.2" width="808.80" height="597.80" fill="none" stroke="#000" stroke-width="2"/>
<text x="109.00" y="647.50" font-size="34" text-anchor="middle">10<tspan dy="-18.3" font-size="20">-2</tspan></text>
<text x="182.53" y="647.50" font-size="34" text-anchor="middle">10<tspan dy="-18.3" font-size="20">-1</tspan></text>
<text x="256.06" y="647.50" font-size="34" text-anchor="middle">10<tspan dy="-18.3" font-size="20">0</tspan></text>
<text x="329.59" y="647.50" font-size="34" text-anchor="middle">10<tspan dy="-18.3" font-size="20">1</tspan></text>
<text x="403.12" y="647.50" font-size="34" text-anchor="middle">10<tspan dy="-18.3" font-size="20">2</tspan></text>
<text x="476.65" y="647.50" font-size="34" text-anchor="middle">10<tspan dy="-18.3" font-size="20">3</tspan></text>
<text x="550.18" y="647.50" font-size="34" text-anchor="middle">10<tspan dy="-18.3" font-size="20">4</tspan></text>
<text x="623.71" y="647.50" font-size="34" text-anchor="middle">10<tspan dy="-18.3" font-size="20">5</tspan></text>
<text x="697.24" y="647.50" font-size="34" text-anchor="middle">10<tspan dy="-18.3" font-size="20">6</tspan></text>
<text x="770.77" y="647.50" font-size="34" text-anchor="middle">10<tspan dy="-18.3" font-size="20">7</tspan></text>
<text x="844.30" y="647.50" font-size="34" text-anchor="middle">10<tspan dy="-18.3" font-size="20">8</tspan></text>
<text x="917.83" y="647.50" font-size="34" text-anchor="middle">10<tspan dy="-18.3" font-size="20">9</tspan></text>
<text x="96.80" y="615.70" font-size="34" text-anchor="end">10<tspan dy="-18.3" font-size="20">-2</tspan></text>
<text x="96.80" y="498.86" font-size="34" text-anchor="end">10<tspan dy="-18.3" font-size="20">-1</tspan></text>
<text x="96.80" y="382.02" font-size="34" text-anchor="end">10<tspan dy="-18.3" font-size="20">0</tspan></text>
<text x="96.80" y="265.18" font-size="34" text-anchor="end">10<tspan dy="-18.3" font-size="20">1</tspan></text>
<text x="96.80" y="148.34" font-size="34" text-anchor="end">10<tspan dy="-18.3" font-size="20">2</tspan></text>
<text x="96.80" y="31.50" font-size="34" text-anchor="end">10<tspan dy="-18.3" font-size="20">3</tspan></text>
<path d="M111.50,1409.00v-12.0M111.50,801.70v12.0M138.87,1409.00v-6.4M138.87,801.70v6.4M154.88,1409.00v-6.4M154.88,801.70v6.4M166.25,1409.00v-6.4M166.25,801.70v6.4M175.06,1409.00v-6.4M175.06,801.70v6.4M182.26,1409.00v-6.4M182.26,801.70v6.4M188.34,1409.00v-6.4M188.34,801.70v6.4M193.62,1409.00v-6.4M193.62,801.70v6.4M198.27,1409.00v-6.4M198.27,801.70v6.4M202.43,1409.00v-12.0M202.43,801.70v12.0M229.80,1409.00v-6.4M229.80,801.70v6.4M245.81,1409.00v-6.4M245.81,801.70v6.4M257.18,1409.00v-6.4M257.18,801.70v6.4M265.99,1409.00v-6.4M265.99,801.70v6.4M273.19,1409.00v-6.4M273.19,801.70v6.4M279.27,1409.00v-6.4M279.27,801.70v6.4M284.55,1409.00v-6.4M284.55,801.70v6.4M289.20,1409.00v-6.4M289.20,801.70v6.4M293.36,1409.00v-12.0M293.36,801.70v12.0M320.73,1409.00v-6.4M320.73,801.70v6.4M336.74,1409.00v-6.4M336.74,801.70v6.4M348.11,1409.00v-6.4M348.11,801.70v6.4M356.92,1409.00v-6.4M356.92,801.70v6.4M364.12,1409.00v-6.4M364.12,801.70v6.4M370.20,1409.00v-6.4M370.20,801.70v6.4M375.48,1409.00v-6.4M375.48,801.70v6.4M380.13,1409.00v-6.4M380.13,801.70v6.4M384.29,1409.00v-12.0M384.29,801.70v12.0M411.66,1409.00v-6.4M411.66,801.70v6.4M427.67,1409.00v-6.4M427.67,801.70v6.4M439.04,1409.00v-6.4M439.04,801.70v6.4M447.85,1409.00v-6.4M447.85,801.70v6.4M455.05,1409.00v-6.4M455.05,801.70v6.4M461.13,1409.00v-6.4M461.13,801.70v6.4M466.41,1409.00v-6.4M466.41,801.70v6.4M471.06,1409.00v-6.4M471.06,801.70v6.4M475.22,1409.00v-12.0M475.22,801.70v12.0M502.59,1409.00v-6.4M502.59,801.70v6.4M518.60,1409.00v-6.4M518.60,801.70v6.4M529.97,1409.00v-6.4M529.97,801.70v6.4M538.78,1409.00v-6.4M538.78,801.70v6.4M545.98,1409.00v-6.4M545.98,801.70v6.4M552.06,1409.00v-6.4M552.06,801.70v6.4M557.34,1409.00v-6.4M557.34,801.70v6.4M561.99,1409.00v-6.4M561.99,801.70v6.4M566.15,1409.00v-12.0M566.15,801.70v12.0M593.52,1409.00v-6.4M593.52,801.70v6.4M609.53,1409.00v-6.4M609.53,801.70v6.4M620.90,1409.00v-6.4M620.90,801.70v6.4M629.71,1409.00v-6.4M629.71,801.70v6.4M636.91,1409.00v-6.4M636.91,801.70v6.4M642.99,1409.00v-6.4M642.99,801.70v6.4M648.27,1409.00v-6.4M648.27,801.70v6.4M652.92,1409.00v-6.4M652.92,801.70v6.4M657.08,1409.00v-12.0M657.08,801.70v12.0M684.45,1409.00v-6.4M684.45,801.70v6.4M700.46,1409.00v-6.4M700.46,801.70v6.4M711.83,1409.00v-6.4M711.83,801.70v6.4M720.64,1409.00v-6.4M720.64,801.70v6.4M727.84,1409.00v-6.4M727.84,801.70v6.4M733.92,1409.00v-6.4M733.92,801.70v6.4M739.20,1409.00v-6.4M739.20,801.70v6.4M743.85,1409.00v-6.4M743.85,801.70v6.4M748.01,1409.00v-12.0M748.01,801.70v12.0M775.38,1409.00v-6.4M775.38,801.70v6.4M791.39,1409.00v-6.4M791.39,801.70v6.4M802.76,1409.00v-6.4M802.76,801.70v6.4M811.57,1409.00v-6.4M811.57,801.70v6.4M818.77,1409.00v-6.4M818.77,801.70v6.4M824.85,1409.00v-6.4M824.85,801.70v6.4M830.13,1409.00v-6.4M830.13,801.70v6.4M834.78,1409.00v-6.4M834.78,801.70v6.4M838.94,1409.00v-12.0M838.94,801.70v12.0M866.31,1409.00v-6.4M866.31,801.70v6.4M882.32,1409.00v-6.4M882.32,801.70v6.4M893.69,1409.00v-6.4M893.69,801.70v6.4M902.50,1409.00v-6.4M902.50,801.70v6.4M909.70,1409.00v-6.4M909.70,801.70v6.4M915.78,1409.00v-6.4M915.78,801.70v6.4M921.06,1409.00v-6.4M921.06,801.70v6.4M925.71,1409.00v-6.4M925.71,801.70v6.4M929.87,1409.00v-12.0M929.87,801.70v12.0M111.50,1409.00h12.0M929.90,1409.00h-12.0M111.50,1356.42h6.4M929.90,1356.42h-6.4M111.50,1325.67h6.4M929.90,1325.67h-6.4M111.50,1303.84h6.4M929.90,1303.84h-6.4M111.50,1286.92h6.4M929.90,1286.92h-6.4M111.50,1273.09h6.4M929.90,1273.09h-6.4M111.50,1261.40h6.4M929.90,1261.40h-6.4M111.50,1251.27h6.4M929.90,1251.27h-6.4M111.50,1242.33h6.4M929.90,1242.33h-6.4M111.50,1234.34h12.0M929.90,1234.34h-12.0M111.50,1181.76h6.4M929.90,1181.76h-6.4M111.50,1151.01h6.4M929.90,1151.01h-6.4M111.50,1129.18h6.4M929.90,1129.18h-6.4M111.50,1112.26h6.4M929.90,1112.26h-6.4M111.50,1098.43h6.4M929.90,1098.43h-6.4M111.50,1086.74h6.4M929.90,1086.74h-6.4M111.50,1076.61h6.4M929.90,1076.61h-6.4M111.50,1067.67h6.4M929.90,1067.67h-6.4M111.50,1059.68h12.0M929.90,1059.68h-12.0M111.50,1007.10h6.4M929.90,1007.10h-6.4M111.50,976.35h6.4M929.90,976.35h-6.4M111.50,954.52h6.4M929.90,954.52h-6.4M111.50,937.60h6.4M929.90,937.60h-6.4M111.50,923.77h6.4M929.90,923.77h-6.4M111.50,912.08h6.4M929.90,912.08h-6.4M111.50,901.95h6.4M929.90,901.95h-6.4M111.50,893.01h6.4M929.90,893.01h-6.4M111.50,885.02h12.0M929.90,885.02h-12.0M111.50,832.44h6.4M929.90,832.44h-6.4" stroke="#000" stroke-width="2" fill="none"/>
<rect x="111.5" y="801.7" width="818.40" height="607.30" fill="none" stroke="#000" stroke-width="2"/>
<text x="111.50" y="1453.60" font-size="34" text-anchor="middle">10<tspan dy="-18.3" font-size="20">-1</tspan></text>
<text x="202.43" y="1453.60" font-size="34" text-anchor="middle">10<tspan dy="-18.3" font-size="20">0</tspan></text>
<text x="293.36" y="1453.60" font-size="34" text-anchor="middle">10<tspan dy="-18.3" font-size="20">1</tspan></text>
<text x="384.29" y="1453.60" font-size="34" text-anchor="middle">10<tspan dy="-18.3" font-size="20">2</tspan></text>
<text x="475.22" y="1453.60" font-size="34" text-anchor="middle">10<tspan dy="-18.3" font-size="20">3</tspan></text>
<text x="566.15" y="1453.60" font-size="34" text-anchor="middle">10<tspan dy="-18.3" font-size="20">4</tspan></text>
<text x="657.08" y="1453.60" font-size="34" text-anchor="middle">10<tspan dy="-18.3" font-size="20">5</tspan></text>
<text x="748.01" y="1453.60" font-size="34" text-anchor="middle">10<tspan dy="-18.3" font-size="20">6</tspan></text>
<text x="838.94" y="1453.60" font-size="34" text-anchor="middle">10<tspan dy="-18.3" font-size="20">7</tspan></text>
<text x="929.87" y="1453.60" font-size="34" text-anchor="middle">10<tspan dy="-18.3" font-size="20">8</tspan></text>
<text x="98.70" y="1421.70" font-size="34" text-anchor="end">10<tspan dy="-18.3" font-size="20">-1</tspan></text>
<text x="98.70" y="1247.04" font-size="34" text-anchor="end">10<tspan dy="-18.3" font-size="20">0</tspan></text>
<text x="98.70" y="1072.38" font-size="34" text-anchor="end">10<tspan dy="-18.3" font-size="20">1</tspan></text>
<text x="98.70" y="897.72" font-size="34" text-anchor="end">10<tspan dy="-18.3" font-size="20">2</tspan></text>
<path d="M109.70,2210.00v-11.7M109.70,1611.00v11.7M134.11,2210.00v-6.1M134.11,1611.00v6.1M148.39,2210.00v-6.1M148.39,1611.00v6.1M158.52,2210.00v-6.1M158.52,1611.00v6.1M166.38,2210.00v-6.1M166.38,1611.00v6.1M172.80,2210.00v-6.1M172.80,1611.00v6.1M178.23,2210.00v-6.1M178.23,1611.00v6.1M182.93,2210.00v-6.1M182.93,1611.00v6.1M187.08,2210.00v-6.1M187.08,1611.00v6.1M190.79,2210.00v-11.7M190.79,1611.00v11.7M215.20,2210.00v-6.1M215.20,1611.00v6.1M229.48,2210.00v-6.1M229.48,1611.00v6.1M239.61,2210.00v-6.1M239.61,1611.00v6.1M247.47,2210.00v-6.1M247.47,1611.00v6.1M253.89,2210.00v-6.1M253.89,1611.00v6.1M259.32,2210.00v-6.1M259.32,1611.00v6.1M264.02,2210.00v-6.1M264.02,1611.00v6.1M268.17,2210.00v-6.1M268.17,1611.00v6.1M271.88,2210.00v-11.7M271.88,1611.00v11.7M296.29,2210.00v-6.1M296.29,1611.00v6.1M310.57,2210.00v-6.1M310.57,1611.00v6.1M320.70,2210.00v-6.1M320.70,1611.00v6.1M328.56,2210.00v-6.1M328.56,1611.00v6.1M334.98,2210.00v-6.1M334.98,1611.00v6.1M340.41,2210.00v-6.1M340.41,1611.00v6.1M345.11,2210.00v-6.1M345.11,1611.00v6.1M349.26,2210.00v-6.1M349.26,1611.00v6.1M352.97,2210.00v-11.7M352.97,1611.00v11.7M377.38,2210.00v-6.1M377.38,1611.00v6.1M391.66,2210.00v-6.1M391.66,1611.00v6.1M401.79,2210.00v-6.1M401.79,1611.00v6.1M409.65,2210.00v-6.1M409.65,1611.00v6.1M416.07,2210.00v-6.1M416.07,1611.00v6.1M421.50,2210.00v-6.1M421.50,1611.00v6.1M426.20,2210.00v-6.1M426.20,1611.00v6.1M430.35,2210.00v-6.1M430.35,1611.00v6.1M434.06,2210.00v-11.7M434.06,1611.00v11.7M458.47,2210.00v-6.1M458.47,1611.00v6.1M472.75,2210.00v-6.1M472.75,1611.00v6.1M482.88,2210.00v-6.1M482.88,1611.00v6.1M490.74,2210.00v-6.1M490.74,1611.00v6.1M497.16,2210.00v-6.1M497.16,1611.00v6.1M502.59,2210.00v-6.1M502.59,1611.00v6.1M507.29,2210.00v-6.1M507.29,1611.00v6.1M511.44,2210.00v-6.1M511.44,1611.00v6.1M515.15,2210.00v-11.7M515.15,1611.00v11.7M539.56,2210.00v-6.1M539.56,1611.00v6.1M553.84,2210.00v-6.1M553.84,1611.00v6.1M563.97,2210.00v-6.1M563.97,1611.00v6.1M571.83,2210.00v-6.1M571.83,1611.00v6.1M578.25,2210.00v-6.1M578.25,1611.00v6.1M583.68,2210.00v-6.1M583.68,1611.00v6.1M588.38,2210.00v-6.1M588.38,1611.00v6.1M592.53,2210.00v-6.1M592.53,1611.00v6.1M596.24,2210.00v-11.7M596.24,1611.00v11.7M620.65,2210.00v-6.1M620.65,1611.00v6.1M634.93,2210.00v-6.1M634.93,1611.00v6.1M645.06,2210.00v-6.1M645.06,1611.00v6.1M652.92,2210.00v-6.1M652.92,1611.00v6.1M659.34,2210.00v-6.1M659.34,1611.00v6.1M664.77,2210.00v-6.1M664.77,1611.00v6.1M669.47,2210.00v-6.1M669.47,1611.00v6.1M673.62,2210.00v-6.1M673.62,1611.00v6.1M677.33,2210.00v-11.7M677.33,1611.00v11.7M701.74,2210.00v-6.1M701.74,1611.00v6.1M716.02,2210.00v-6.1M716.02,1611.00v6.1M726.15,2210.00v-6.1M726.15,1611.00v6.1M734.01,2210.00v-6.1M734.01,1611.00v6.1M740.43,2210.00v-6.1M740.43,1611.00v6.1M745.86,2210.00v-6.1M745.86,1611.00v6.1M750.56,2210.00v-6.1M750.56,1611.00v6.1M754.71,2210.00v-6.1M754.71,1611.00v6.1M758.42,2210.00v-11.7M758.42,1611.00v11.7M782.83,2210.00v-6.1M782.83,1611.00v6.1M797.11,2210.00v-6.1M797.11,1611.00v6.1M807.24,2210.00v-6.1M807.24,1611.00v6.1M815.10,2210.00v-6.1M815.10,1611.00v6.1M821.52,2210.00v-6.1M821.52,1611.00v6.1M826.95,2210.00v-6.1M826.95,1611.00v6.1M831.65,2210.00v-6.1M831.65,1611.00v6.1M835.80,2210.00v-6.1M835.80,1611.00v6.1M839.51,2210.00v-11.7M839.51,1611.00v11.7M863.92,2210.00v-6.1M863.92,1611.00v6.1M878.20,2210.00v-6.1M878.20,1611.00v6.1M888.33,2210.00v-6.1M888.33,1611.00v6.1M896.19,2210.00v-6.1M896.19,1611.00v6.1M902.61,2210.00v-6.1M902.61,1611.00v6.1M908.04,2210.00v-6.1M908.04,1611.00v6.1M912.74,2210.00v-6.1M912.74,1611.00v6.1M916.89,2210.00v-6.1M916.89,1611.00v6.1M920.60,2210.00v-11.7M920.60,1611.00v11.7M109.70,2210.00h11.7M920.60,2210.00h-11.7M109.70,2158.13h6.1M920.60,2158.13h-6.1M109.70,2127.79h6.1M920.60,2127.79h-6.1M109.70,2106.27h6.1M920.60,2106.27h-6.1M109.70,2089.57h6.1M920.60,2089.57h-6.1M109.70,2075.92h6.1M920.60,2075.92h-6.1M109.70,2064.39h6.1M920.60,2064.39h-6.1M109.70,2054.40h6.1M920.60,2054.40h-6.1M109.70,2045.58h6.1M920.60,2045.58h-6.1M109.70,2037.70h11.7M920.60,2037.70h-11.7M109.70,1985.83h6.1M920.60,1985.83h-6.1M109.70,1955.49h6.1M920.60,1955.49h-6.1M109.70,1933.97h6.1M920.60,1933.97h-6.1M109.70,1917.27h6.1M920.60,1917.27h-6.1M109.70,1903.62h6.1M920.60,1903.62h-6.1M109.70,1892.09h6.1M920.60,1892.09h-6.1M109.70,1882.10h6.1M920.60,1882.10h-6.1M109.70,1873.28h6.1M920.60,1873.28h-6.1M109.70,1865.40h11.7M920.60,1865.40h-11.7M109.70,1813.53h6.1M920.60,1813.53h-6.1M109.70,1783.19h6.1M920.60,1783.19h-6.1M109.70,1761.67h6.1M920.60,1761.67h-6.1M109.70,1744.97h6.1M920.60,1744.97h-6.1M109.70,1731.32h6.1M920.60,1731.32h-6.1M109.70,1719.79h6.1M920.60,1719.79h-6.1M109.70,1709.80h6.1M920.60,1709.80h-6.1M109.70,1700.98h6.1M920.60,1700.98h-6.1M109.70,1693.10h11.7M920.60,1693.10h-11.7M109.70,1641.23h6.1M920.60,1641.23h-6.1" stroke="#000" stroke-width="2" fill="none"/>
<rect x="109.7" y="1611.0" width="810.90" height="599.00" fill="none" stroke="#000" stroke-width="2"/>
<text x="109.70" y="2254.00" font-size="34" text-anchor="middle">10<tspan dy="-18.3" font-size="20">-1</tspan></text>
<text x="190.79" y="2254.00" font-size="34" text-anchor="middle">10<tspan dy="-18.3" font-size="20">0</tspan></text>
<text x="271.88" y="2254.00" font-size="34" text-anchor="middle">10<tspan dy="-18.3" font-size="20">1</tspan></text>
<text x="352.97" y="2254.00" font-size="34" text-anchor="middle">10<tspan dy="-18.3" font-size="20">2</tspan></text>
<text x="434.06" y="2254.00" font-size="34" text-anchor="middle">10<tspan dy="-18.3" font-size="20">3</tspan></text>
<text x="515.15" y="2254.00" font-size="34" text-anchor="middle">10<tspan dy="-18.3" font-size="20">4</tspan></text>
<text x="596.24" y="2254.00" font-size="34" text-anchor="middle">10<tspan dy="-18.3" font-size="20">5</tspan></text>
<text x="677.33" y="2254.00" font-size="34" text-anchor="middle">10<tspan dy="-18.3" font-size="20">6</tspan></text>
<text x="758.42" y="2254.00" font-size="34" text-anchor="middle">10<tspan dy="-18.3" font-size="20">7</tspan></text>
<text x="839.51" y="2254.00" font-size="34" text-anchor="middle">10<tspan dy="-18.3" font-size="20">8</tspan></text>
<text x="920.60" y="2254.00" font-size="34" text-anchor="middle">10<tspan dy="-18.3" font-size="20">9</tspan></text>
<text x="97.30" y="2222.70" font-size="34" text-anchor="end">10<tspan dy="-18.3" font-size="20">-1</tspan></text>
<text x="97.30" y="2050.40" font-size="34" text-anchor="end">10<tspan dy="-18.3" font-size="20">0</tspan></text>
<text x="97.30" y="1878.10" font-size="34" text-anchor="end">10<tspan dy="-18.3" font-size="20">1</tspan></text>
<text x="97.30" y="1705.80" font-size="34" text-anchor="end">10<tspan dy="-18.3" font-size="20">2</tspan></text>
<rect x="126.3" y="16.2" width="506.30" height="253.50" fill="#fff" stroke="#222" stroke-width="1.3"/>
<path d="M158.00,29.80L166.30,43.40L149.70,43.40Z" fill="#fff" stroke="#008080" stroke-width="1.3" stroke-linejoin="miter"/>
<text x="194.92" y="47.70" font-size="34" text-anchor="start">Pressure:</text>
<text x="326.70" y="47.70" font-size="34" font-style="italic" text-anchor="start">L</text>
<text x="345.48" y="47.70" font-size="21.5" text-anchor="start">F</text>
<text x="364.21" y="47.70" font-size="34" text-anchor="start">=</text>
<text x="384.07" y="47.70" font-size="34" text-anchor="start">3</text>
<text x="399.32" y="49.70" font-size="25" text-anchor="start">×</text>
<text x="413.71" y="47.70" font-size="34" text-anchor="start">10</text>
<text x="446.49" y="34.00" font-size="19" text-anchor="start">-4</text>
<text x="462.49" y="47.70" font-size="34" text-anchor="start">m</text>
<rect x="152.10" y="75.90" width="11.80" height="11.80" fill="#fff" stroke="#ff0000" stroke-width="1.3"/>
<text x="194.92" y="90.70" font-size="34" text-anchor="start">Pressure:</text>
<text x="326.70" y="90.70" font-size="34" font-style="italic" text-anchor="start">L</text>
<text x="345.48" y="90.70" font-size="21.5" text-anchor="start">F</text>
<text x="364.21" y="90.70" font-size="34" text-anchor="start">=</text>
<text x="383.72" y="90.70" font-size="34" text-anchor="start">5</text>
<text x="399.32" y="92.70" font-size="25" text-anchor="start">×</text>
<text x="413.71" y="90.70" font-size="34" text-anchor="start">10</text>
<text x="446.49" y="77.00" font-size="19" text-anchor="start">-4</text>
<text x="462.49" y="90.70" font-size="34" text-anchor="start">m</text>
<path d="M158.00,117.20L160.01,122.03L165.23,122.45L161.25,125.86L162.47,130.95L158.00,128.22L153.53,130.95L154.75,125.86L150.77,122.45L155.99,122.03Z" fill="#fff" stroke="#0000ff" stroke-width="1.2" stroke-linejoin="miter"/>
<text x="191.92" y="133.70" font-size="34" text-anchor="start">Pressure:</text>
<text x="323.70" y="133.70" font-size="34" font-style="italic" text-anchor="start">L</text>
<text x="342.48" y="133.70" font-size="21.5" text-anchor="start">F</text>
<text x="361.21" y="133.70" font-size="34" text-anchor="start">=</text>
<text x="381.41" y="133.70" font-size="34" text-anchor="start">8</text>
<text x="396.32" y="135.70" font-size="25" text-anchor="start">×</text>
<text x="410.71" y="133.70" font-size="34" text-anchor="start">10</text>
<text x="443.49" y="120.00" font-size="19" text-anchor="start">-4</text>
<text x="459.49" y="133.70" font-size="34" text-anchor="start">m</text>
<line x1="129.7" y1="167.80" x2="186.7" y2="167.80" stroke="#008080" stroke-width="1.3"/>
<path d="M158.00,157.60L167.20,172.90L148.80,172.90Z" fill="#008080"/>
<text x="194.92" y="176.70" font-size="34" text-anchor="start">Pressure derivative:</text>
<text x="469.70" y="176.70" font-size="34" font-style="italic" text-anchor="start">L</text>
<text x="488.48" y="176.70" font-size="21.5" text-anchor="start">F</text>
<text x="507.21" y="176.70" font-size="34" text-anchor="start">=</text>
<text x="527.07" y="176.70" font-size="34" text-anchor="start">3</text>
<text x="542.32" y="178.70" font-size="25" text-anchor="start">×</text>
<text x="556.71" y="176.70" font-size="34" text-anchor="start">10</text>
<text x="589.49" y="163.00" font-size="19" text-anchor="start">-4</text>
<text x="605.49" y="176.70" font-size="34" text-anchor="start">m</text>
<line x1="129.7" y1="210.80" x2="186.7" y2="210.80" stroke="#ff0000" stroke-width="1.3"/>
<rect x="151.60" y="204.40" width="12.80" height="12.80" fill="#ff0000"/>
<text x="194.92" y="219.70" font-size="34" text-anchor="start">Pressure derivative:</text>
<text x="469.70" y="219.70" font-size="34" font-style="italic" text-anchor="start">L</text>
<text x="488.48" y="219.70" font-size="21.5" text-anchor="start">F</text>
<text x="507.21" y="219.70" font-size="34" text-anchor="start">=</text>
<text x="526.72" y="219.70" font-size="34" text-anchor="start">5</text>
<text x="542.32" y="221.70" font-size="25" text-anchor="start">×</text>
<text x="556.71" y="219.70" font-size="34" text-anchor="start">10</text>
<text x="589.49" y="206.00" font-size="19" text-anchor="start">-4</text>
<text x="605.49" y="219.70" font-size="34" text-anchor="start">m</text>
<line x1="129.7" y1="253.80" x2="186.7" y2="253.80" stroke="#0000ff" stroke-width="1.3"/>
<path d="M158.00,245.20L160.27,250.67L166.18,251.14L161.68,255.00L163.05,260.76L158.00,257.67L152.95,260.76L154.32,255.00L149.82,251.14L155.73,250.67Z" fill="#0000ff"/>
<text x="194.92" y="262.70" font-size="34" text-anchor="start">Pressure derivative:</text>
<text x="469.70" y="262.70" font-size="34" font-style="italic" text-anchor="start">L</text>
<text x="488.48" y="262.70" font-size="21.5" text-anchor="start">F</text>
<text x="507.21" y="262.70" font-size="34" text-anchor="start">=</text>
<text x="527.41" y="262.70" font-size="34" text-anchor="start">8</text>
<text x="542.32" y="264.70" font-size="25" text-anchor="start">×</text>
<text x="556.71" y="262.70" font-size="34" text-anchor="start">10</text>
<text x="589.49" y="249.00" font-size="19" text-anchor="start">-4</text>
<text x="605.49" y="262.70" font-size="34" text-anchor="start">m</text>
<rect x="126.3" y="816.5" width="482.10" height="255.00" fill="#fff" stroke="#222" stroke-width="1.3"/>
<path d="M157.50,828.40L165.80,842.00L149.20,842.00Z" fill="#fff" stroke="#008080" stroke-width="1.3" stroke-linejoin="miter"/>
<text x="195.42" y="846.30" font-size="34" text-anchor="start">Pressure:</text>
<text x="329.10" y="846.30" font-size="34" font-style="italic" text-anchor="start">L</text>
<text x="347.78" y="846.30" font-size="21.5" text-anchor="start">M</text>
<text x="374.11" y="846.30" font-size="34" text-anchor="start">=1.5m</text>
<rect x="151.60" y="874.85" width="11.80" height="11.80" fill="#fff" stroke="#ff0000" stroke-width="1.3"/>
<text x="192.32" y="889.65" font-size="34" text-anchor="start">Pressure:</text>
<text x="326.00" y="889.65" font-size="34" font-style="italic" text-anchor="start">L</text>
<text x="344.68" y="889.65" font-size="21.5" text-anchor="start">M</text>
<text x="371.01" y="889.65" font-size="34" text-anchor="start">=2m</text>
<path d="M157.50,916.50L159.51,921.33L164.73,921.75L160.75,925.16L161.97,930.25L157.50,927.52L153.03,930.25L154.25,925.16L150.27,921.75L155.49,921.33Z" fill="#fff" stroke="#0000ff" stroke-width="1.2" stroke-linejoin="miter"/>
<text x="195.42" y="933.00" font-size="34" text-anchor="start">Pressure:</text>
<text x="329.10" y="933.00" font-size="34" font-style="italic" text-anchor="start">L</text>
<text x="347.78" y="933.00" font-size="21.5" text-anchor="start">M</text>
<text x="374.11" y="933.00" font-size="34" text-anchor="start">=2.5m</text>
<line x1="129.5" y1="967.45" x2="185.8" y2="967.45" stroke="#008080" stroke-width="1.3"/>
<path d="M157.50,957.25L166.70,972.55L148.30,972.55Z" fill="#008080"/>
<text x="195.42" y="976.35" font-size="34" text-anchor="start">Pressure derivative:</text>
<text x="473.10" y="976.35" font-size="34" font-style="italic" text-anchor="start">L</text>
<text x="491.78" y="976.35" font-size="21.5" text-anchor="start">M</text>
<text x="518.11" y="976.35" font-size="34" text-anchor="start">=1.5m</text>
<line x1="129.5" y1="1010.80" x2="185.8" y2="1010.80" stroke="#ff0000" stroke-width="1.3"/>
<rect x="151.10" y="1004.40" width="12.80" height="12.80" fill="#ff0000"/>
<text x="195.42" y="1019.70" font-size="34" text-anchor="start">Pressure derivative:</text>
<text x="473.10" y="1019.70" font-size="34" font-style="italic" text-anchor="start">L</text>
<text x="491.78" y="1019.70" font-size="21.5" text-anchor="start">M</text>
<text x="518.11" y="1019.70" font-size="34" text-anchor="start">=2m</text>
<line x1="129.5" y1="1054.15" x2="185.8" y2="1054.15" stroke="#0000ff" stroke-width="1.3"/>
<path d="M157.50,1045.55L159.77,1051.02L165.68,1051.49L161.18,1055.35L162.55,1061.11L157.50,1058.02L152.45,1061.11L153.82,1055.35L149.32,1051.49L155.23,1051.02Z" fill="#0000ff"/>
<text x="195.42" y="1063.05" font-size="34" text-anchor="start">Pressure derivative:</text>
<text x="473.10" y="1063.05" font-size="34" font-style="italic" text-anchor="start">L</text>
<text x="491.78" y="1063.05" font-size="21.5" text-anchor="start">M</text>
<text x="518.11" y="1063.05" font-size="34" text-anchor="start">=2.5m</text>
<rect x="135.4" y="1626.7" width="469.90" height="252.10" fill="#fff" stroke="#222" stroke-width="1.3"/>
<path d="M166.00,1639.00L174.30,1652.60L157.70,1652.60Z" fill="#fff" stroke="#008080" stroke-width="1.3" stroke-linejoin="miter"/>
<text x="201.02" y="1656.90" font-size="34" text-anchor="start">Pressure:</text>
<text x="333.10" y="1656.90" font-size="34" font-style="italic" text-anchor="start">L</text>
<text x="351.70" y="1656.90" font-size="21.5" text-anchor="start">v</text>
<text x="369.91" y="1656.90" font-size="34" text-anchor="start">=0.8m</text>
<rect x="160.10" y="1684.80" width="11.80" height="11.80" fill="#fff" stroke="#ff0000" stroke-width="1.3"/>
<text x="203.22" y="1699.60" font-size="34" text-anchor="start">Pressure:</text>
<text x="335.30" y="1699.60" font-size="34" font-style="italic" text-anchor="start">L</text>
<text x="353.90" y="1699.60" font-size="21.5" text-anchor="start">v</text>
<text x="372.11" y="1699.60" font-size="34" text-anchor="start">=1.0m</text>
<path d="M166.00,1725.80L168.01,1730.63L173.23,1731.05L169.25,1734.46L170.47,1739.55L166.00,1736.82L161.53,1739.55L162.75,1734.46L158.77,1731.05L163.99,1730.63Z" fill="#fff" stroke="#0000ff" stroke-width="1.2" stroke-linejoin="miter"/>
<text x="203.22" y="1742.30" font-size="34" text-anchor="start">Pressure:</text>
<text x="335.30" y="1742.30" font-size="34" font-style="italic" text-anchor="start">L</text>
<text x="353.90" y="1742.30" font-size="21.5" text-anchor="start">v</text>
<text x="372.11" y="1742.30" font-size="34" text-anchor="start">=1.2m</text>
<line x1="137.6" y1="1776.10" x2="194.8" y2="1776.10" stroke="#008080" stroke-width="1.3"/>
<path d="M166.00,1765.90L175.20,1781.20L156.80,1781.20Z" fill="#008080"/>
<text x="203.22" y="1785.00" font-size="34" text-anchor="start">Pressure derivative:</text>
<text x="479.30" y="1785.00" font-size="34" font-style="italic" text-anchor="start">L</text>
<text x="497.90" y="1785.00" font-size="21.5" text-anchor="start">v</text>
<text x="516.11" y="1785.00" font-size="34" text-anchor="start">=0.8m</text>
<line x1="137.6" y1="1818.80" x2="194.8" y2="1818.80" stroke="#ff0000" stroke-width="1.3"/>
<rect x="159.60" y="1812.40" width="12.80" height="12.80" fill="#ff0000"/>
<text x="203.22" y="1827.70" font-size="34" text-anchor="start">Pressure derivative:</text>
<text x="479.30" y="1827.70" font-size="34" font-style="italic" text-anchor="start">L</text>
<text x="497.90" y="1827.70" font-size="21.5" text-anchor="start">v</text>
<text x="516.11" y="1827.70" font-size="34" text-anchor="start">=1.0m</text>
<line x1="137.6" y1="1861.50" x2="194.8" y2="1861.50" stroke="#0000ff" stroke-width="1.3"/>
<path d="M166.00,1852.90L168.27,1858.37L174.18,1858.84L169.68,1862.70L171.05,1868.46L166.00,1865.37L160.95,1868.46L162.32,1862.70L157.82,1858.84L163.73,1858.37Z" fill="#0000ff"/>
<text x="203.22" y="1870.40" font-size="34" text-anchor="start">Pressure derivative:</text>
<text x="479.30" y="1870.40" font-size="34" font-style="italic" text-anchor="start">L</text>
<text x="497.90" y="1870.40" font-size="21.5" text-anchor="start">v</text>
<text x="516.11" y="1870.40" font-size="34" text-anchor="start">=1.2m</text>
<text x="788.29" y="69.50" font-size="45.8" text-anchor="start">(a)</text>
<text x="798.74" y="883.00" font-size="46.8" text-anchor="start">(b)</text>
<text x="745.89" y="1677.10" font-size="45.8" text-anchor="start">(c)</text>
<text x="715.51" y="550.40" font-size="34" font-style="italic" text-anchor="start">C</text>
<text x="737.07" y="563.20" font-size="18.5" text-anchor="start">D</text>
<text x="750.31" y="550.40" font-size="34" text-anchor="start">=400;</text>
<text x="837.50" y="550.40" font-size="34" font-style="italic" text-anchor="start">S</text>
<text x="860.21" y="550.40" font-size="34" text-anchor="start">=0</text>
<text x="705.51" y="1365.20" font-size="34" font-style="italic" text-anchor="start">C</text>
<text x="727.67" y="1378.00" font-size="18.5" text-anchor="start">D</text>
<text x="739.71" y="1365.20" font-size="34" text-anchor="start">=400;</text>
<text x="828.60" y="1365.20" font-size="34" font-style="italic" text-anchor="start">S</text>
<text x="852.71" y="1365.20" font-size="34" text-anchor="start">=0</text>
<text x="717.61" y="2146.00" font-size="34" font-style="italic" text-anchor="start">C</text>
<text x="739.27" y="2158.80" font-size="18.5" text-anchor="start">D</text>
<text x="752.51" y="2146.00" font-size="34" text-anchor="start">=400;</text>
<text x="840.00" y="2146.00" font-size="34" font-style="italic" text-anchor="start">S</text>
<text x="863.61" y="2146.00" font-size="34" text-anchor="start">=0</text>
<text x="419.07" y="1200.80" font-size="31.5" font-style="italic" text-anchor="start">L</text>
<text x="434.71" y="1200.80" font-size="20.5" text-anchor="start">M</text>
<text x="457.43" y="1200.80" font-size="31.5" text-anchor="start">=</text>
<text x="473.53" y="1200.80" font-size="31.5" text-anchor="start">1.5m:</text>
<text x="555.18" y="1200.80" font-size="31.5" font-style="italic" text-anchor="start">η</text>
<text x="570.50" y="1200.80" font-size="20.5" text-anchor="start">vD</text>
<text x="591.03" y="1200.80" font-size="31.5" text-anchor="start">=0.938</text>
<text x="419.07" y="1239.70" font-size="31.5" font-style="italic" text-anchor="start">L</text>
<text x="434.71" y="1239.70" font-size="20.5" text-anchor="start">M</text>
<text x="457.43" y="1239.70" font-size="31.5" text-anchor="start">=</text>
<text x="474.92" y="1239.70" font-size="31.5" text-anchor="start">2.0m:</text>
<text x="555.18" y="1239.70" font-size="31.5" font-style="italic" text-anchor="start">η</text>
<text x="570.50" y="1239.70" font-size="20.5" text-anchor="start">vD</text>
<text x="591.03" y="1239.70" font-size="31.5" text-anchor="start">=0.872</text>
<text x="419.07" y="1278.60" font-size="31.5" font-style="italic" text-anchor="start">L</text>
<text x="434.71" y="1278.60" font-size="20.5" text-anchor="start">M</text>
<text x="457.43" y="1278.60" font-size="31.5" text-anchor="start">=</text>
<text x="474.92" y="1278.60" font-size="31.5" text-anchor="start">2.5m:</text>
<text x="555.18" y="1278.60" font-size="31.5" font-style="italic" text-anchor="start">η</text>
<text x="570.50" y="1278.60" font-size="20.5" text-anchor="start">vD</text>
<text x="591.03" y="1278.60" font-size="31.5" text-anchor="start">=0.783</text>
<text x="336.65" y="1978.40" font-size="30.0" font-style="italic" text-anchor="start">L</text>
<text x="353.70" y="1978.40" font-size="20" text-anchor="start">v</text>
<text x="368.01" y="1978.40" font-size="30.0" text-anchor="start">=</text>
<text x="385.66" y="1978.40" font-size="30.0" text-anchor="start">0.8m:</text>
<text x="465.53" y="1978.40" font-size="30.0" font-style="italic" text-anchor="start">η</text>
<text x="481.00" y="1978.40" font-size="20" text-anchor="start">vD</text>
<text x="501.71" y="1978.40" font-size="30.0" text-anchor="start">=0.734</text>
<text x="336.65" y="2017.10" font-size="30.0" font-style="italic" text-anchor="start">L</text>
<text x="353.70" y="2017.10" font-size="20" text-anchor="start">v</text>
<text x="368.01" y="2017.10" font-size="30.0" text-anchor="start">=</text>
<text x="384.16" y="2017.10" font-size="30.0" text-anchor="start">1.0m:</text>
<text x="465.53" y="2017.10" font-size="30.0" font-style="italic" text-anchor="start">η</text>
<text x="481.00" y="2017.10" font-size="20" text-anchor="start">vD</text>
<text x="501.71" y="2017.10" font-size="30.0" text-anchor="start">=0.844</text>
<text x="336.65" y="2055.80" font-size="30.0" font-style="italic" text-anchor="start">L</text>
<text x="353.70" y="2055.80" font-size="20" text-anchor="start">v</text>
<text x="368.01" y="2055.80" font-size="30.0" text-anchor="start">=</text>
<text x="384.16" y="2055.80" font-size="30.0" text-anchor="start">1.2m:</text>
<text x="465.53" y="2055.80" font-size="30.0" font-style="italic" text-anchor="start">η</text>
<text x="481.00" y="2055.80" font-size="20" text-anchor="start">vD</text>
<text x="501.71" y="2055.80" font-size="30.0" text-anchor="start">=0.903</text>
<text transform="translate(23.60,645.77) rotate(-90)" font-size="33.5">Dimensionless pressure &amp; derivative P<tspan font-size="21.5" dy="11.1">wD</tspan><tspan dy="-11.1">, dP</tspan><tspan font-size="21.5" dy="11.1">wD</tspan></text>
<text transform="translate(24.90,1451.48) rotate(-90)" font-size="34">Dimensionless pressure &amp; derivative P<tspan font-size="21.8" dy="11.3">wD</tspan><tspan dy="-11.3">, dP</tspan><tspan font-size="21.8" dy="11.3">wD</tspan></text>
<text transform="translate(24.00,2251.47) rotate(-90)" font-size="33.5">Dimensionless pressure &amp; derivative P<tspan font-size="21.5" dy="11.1">wD</tspan><tspan dy="-11.1">, dP</tspan><tspan font-size="21.5" dy="11.1">wD</tspan></text>
<text x="478.11" y="703.60" font-size="34" font-style="italic" text-anchor="start">t</text>
<text x="487.98" y="716.50" font-size="18" text-anchor="start">D</text>
<text x="502.30" y="703.60" font-size="34" text-anchor="start">/</text>
<text x="510.91" y="703.60" font-size="34" font-style="italic" text-anchor="start">C</text>
<text x="534.18" y="716.50" font-size="18" text-anchor="start">D</text>
<text x="485.31" y="1510.30" font-size="34" font-style="italic" text-anchor="start">t</text>
<text x="495.18" y="1523.20" font-size="18" text-anchor="start">D</text>
<text x="509.50" y="1510.30" font-size="34" text-anchor="start">/</text>
<text x="518.11" y="1510.30" font-size="34" font-style="italic" text-anchor="start">C</text>
<text x="541.38" y="1523.20" font-size="18" text-anchor="start">D</text>
<text x="479.51" y="2312.00" font-size="34" font-style="italic" text-anchor="start">t</text>
<text x="489.38" y="2324.90" font-size="18" text-anchor="start">D</text>
<text x="503.70" y="2312.00" font-size="34" text-anchor="start">/</text>
<text x="512.31" y="2312.00" font-size="34" font-style="italic" text-anchor="start">C</text>
<text x="535.58" y="2324.90" font-size="18" text-anchor="start">D</text>
</svg>
</body></html>
